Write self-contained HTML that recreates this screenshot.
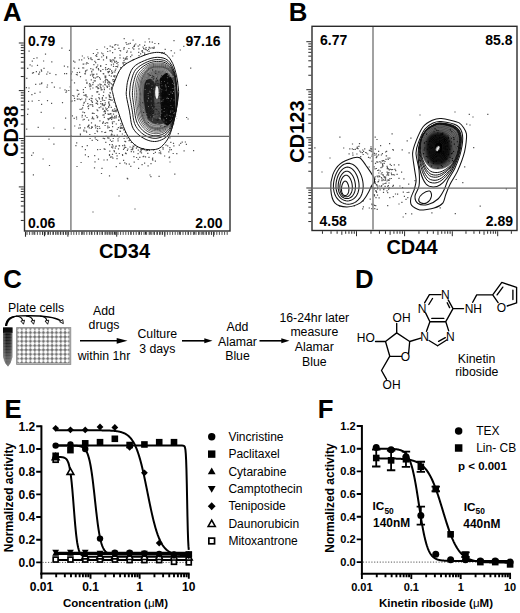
<!DOCTYPE html>
<html><head><meta charset="utf-8"><style>
html,body{margin:0;padding:0;background:#fff;}
svg{display:block;font-family:"Liberation Sans", sans-serif;}
</style></head><body>
<svg width="520" height="613" viewBox="0 0 520 613">
<rect width="520" height="613" fill="#fff"/>
<defs>
<filter id="bl1" x="-20%" y="-20%" width="140%" height="140%"><feGaussianBlur stdDeviation="0.6"/></filter>
<filter id="bl2" x="-30%" y="-30%" width="160%" height="160%"><feGaussianBlur stdDeviation="1.4"/></filter>
</defs>
<text x="3.10" y="21.20" font-size="25.8" font-weight="bold" text-anchor="start" fill="#000" >A</text>
<path d="M39.5,91.6h1.2v1.2h-1.2zM173.4,40.0h1.2v1.2h-1.2zM99.3,120.2h1.2v1.2h-1.2zM109.4,117.4h1.2v1.2h-1.2zM95.3,98.6h1.2v1.2h-1.2zM86.5,69.4h1.2v1.2h-1.2zM161.0,52.4h1.2v1.2h-1.2zM133.8,45.7h1.2v1.2h-1.2zM116.4,109.2h1.2v1.2h-1.2zM145.6,150.1h1.2v1.2h-1.2zM100.1,65.1h1.2v1.2h-1.2zM98.9,77.1h1.2v1.2h-1.2zM146.8,50.0h1.2v1.2h-1.2zM121.3,127.8h1.2v1.2h-1.2zM111.6,99.5h1.2v1.2h-1.2zM118.0,119.4h1.2v1.2h-1.2zM123.7,64.5h1.2v1.2h-1.2zM47.2,71.4h1.2v1.2h-1.2zM91.5,59.1h1.2v1.2h-1.2zM106.5,108.1h1.2v1.2h-1.2zM130.7,149.1h1.2v1.2h-1.2zM104.6,84.2h1.2v1.2h-1.2zM111.1,88.5h1.2v1.2h-1.2zM83.7,101.7h1.2v1.2h-1.2zM38.0,73.6h1.2v1.2h-1.2zM91.5,73.5h1.2v1.2h-1.2zM100.5,87.5h1.2v1.2h-1.2zM123.6,61.9h1.2v1.2h-1.2zM102.7,137.8h1.2v1.2h-1.2zM93.3,64.1h1.2v1.2h-1.2zM104.6,80.1h1.2v1.2h-1.2zM109.2,130.0h1.2v1.2h-1.2zM84.7,73.3h1.2v1.2h-1.2zM91.8,101.7h1.2v1.2h-1.2zM173.3,145.3h1.2v1.2h-1.2zM100.2,87.1h1.2v1.2h-1.2zM184.8,141.4h1.2v1.2h-1.2zM71.5,71.3h1.2v1.2h-1.2zM112.0,126.0h1.2v1.2h-1.2zM93.2,73.8h1.2v1.2h-1.2zM85.5,130.4h1.2v1.2h-1.2zM99.2,127.8h1.2v1.2h-1.2zM122.0,127.2h1.2v1.2h-1.2zM112.9,113.6h1.2v1.2h-1.2zM113.6,71.4h1.2v1.2h-1.2zM107.5,80.5h1.2v1.2h-1.2zM113.5,150.0h1.2v1.2h-1.2zM106.7,159.2h1.2v1.2h-1.2zM91.1,126.9h1.2v1.2h-1.2zM96.5,109.3h1.2v1.2h-1.2zM90.3,57.3h1.2v1.2h-1.2zM82.2,67.3h1.2v1.2h-1.2zM89.8,88.4h1.2v1.2h-1.2zM41.0,83.1h1.2v1.2h-1.2zM114.1,115.8h1.2v1.2h-1.2zM108.7,74.8h1.2v1.2h-1.2zM96.1,115.1h1.2v1.2h-1.2zM144.5,41.4h1.2v1.2h-1.2zM68.9,49.7h1.2v1.2h-1.2zM114.4,48.7h1.2v1.2h-1.2zM99.8,78.6h1.2v1.2h-1.2zM73.6,117.8h1.2v1.2h-1.2zM102.9,59.2h1.2v1.2h-1.2zM28.0,90.9h1.2v1.2h-1.2zM124.9,152.8h1.2v1.2h-1.2zM151.9,158.5h1.2v1.2h-1.2zM108.6,85.6h1.2v1.2h-1.2zM110.1,116.9h1.2v1.2h-1.2zM89.3,86.1h1.2v1.2h-1.2zM112.4,145.5h1.2v1.2h-1.2zM106.3,122.0h1.2v1.2h-1.2zM37.6,126.7h1.2v1.2h-1.2zM180.1,142.7h1.2v1.2h-1.2zM126.1,51.8h1.2v1.2h-1.2zM51.0,102.8h1.2v1.2h-1.2zM85.3,70.0h1.2v1.2h-1.2zM77.1,98.6h1.2v1.2h-1.2zM85.7,63.3h1.2v1.2h-1.2zM125.2,146.9h1.2v1.2h-1.2zM86.3,81.8h1.2v1.2h-1.2zM76.7,74.3h1.2v1.2h-1.2zM152.2,159.5h1.2v1.2h-1.2zM105.2,78.7h1.2v1.2h-1.2zM185.8,84.7h1.2v1.2h-1.2zM123.2,48.6h1.2v1.2h-1.2zM81.7,146.1h1.2v1.2h-1.2zM93.9,167.3h1.2v1.2h-1.2zM82.8,89.0h1.2v1.2h-1.2zM103.6,148.2h1.2v1.2h-1.2zM46.5,86.5h1.2v1.2h-1.2zM88.0,58.1h1.2v1.2h-1.2zM87.3,56.4h1.2v1.2h-1.2zM139.1,44.2h1.2v1.2h-1.2zM86.3,82.7h1.2v1.2h-1.2zM94.4,132.9h1.2v1.2h-1.2zM172.9,142.7h1.2v1.2h-1.2zM110.6,134.6h1.2v1.2h-1.2zM92.9,73.9h1.2v1.2h-1.2zM125.6,153.1h1.2v1.2h-1.2zM112.9,63.5h1.2v1.2h-1.2zM107.4,118.1h1.2v1.2h-1.2zM119.3,130.6h1.2v1.2h-1.2zM124.6,58.9h1.2v1.2h-1.2zM95.6,86.2h1.2v1.2h-1.2zM90.2,68.1h1.2v1.2h-1.2zM71.1,79.6h1.2v1.2h-1.2zM41.2,82.2h1.2v1.2h-1.2zM74.1,100.0h1.2v1.2h-1.2zM109.5,50.3h1.2v1.2h-1.2zM100.2,100.9h1.2v1.2h-1.2zM111.0,146.6h1.2v1.2h-1.2zM118.3,119.6h1.2v1.2h-1.2zM97.0,103.6h1.2v1.2h-1.2zM132.2,148.0h1.2v1.2h-1.2zM144.0,44.8h1.2v1.2h-1.2zM131.7,147.2h1.2v1.2h-1.2zM43.0,60.4h1.2v1.2h-1.2zM91.3,126.0h1.2v1.2h-1.2zM145.5,49.0h1.2v1.2h-1.2zM106.8,79.9h1.2v1.2h-1.2zM31.7,60.5h1.2v1.2h-1.2zM185.8,143.8h1.2v1.2h-1.2zM178.7,144.5h1.2v1.2h-1.2zM113.1,110.7h1.2v1.2h-1.2zM61.3,47.6h1.2v1.2h-1.2zM172.6,152.9h1.2v1.2h-1.2zM94.7,80.3h1.2v1.2h-1.2zM104.5,83.8h1.2v1.2h-1.2zM112.2,46.7h1.2v1.2h-1.2zM151.7,41.6h1.2v1.2h-1.2zM123.8,147.6h1.2v1.2h-1.2zM28.4,87.4h1.2v1.2h-1.2zM111.0,70.2h1.2v1.2h-1.2zM102.8,81.4h1.2v1.2h-1.2zM98.5,58.7h1.2v1.2h-1.2zM112.1,147.3h1.2v1.2h-1.2zM118.9,145.2h1.2v1.2h-1.2zM129.5,146.4h1.2v1.2h-1.2zM31.6,100.6h1.2v1.2h-1.2zM122.9,57.6h1.2v1.2h-1.2zM94.7,125.3h1.2v1.2h-1.2zM114.7,147.6h1.2v1.2h-1.2zM92.1,117.4h1.2v1.2h-1.2zM102.8,121.3h1.2v1.2h-1.2zM108.0,102.3h1.2v1.2h-1.2zM29.5,64.2h1.2v1.2h-1.2zM151.5,47.3h1.2v1.2h-1.2zM115.5,116.8h1.2v1.2h-1.2zM115.6,145.4h1.2v1.2h-1.2zM107.3,113.4h1.2v1.2h-1.2zM94.7,77.6h1.2v1.2h-1.2zM86.7,145.0h1.2v1.2h-1.2zM72.2,94.9h1.2v1.2h-1.2zM141.6,148.1h1.2v1.2h-1.2zM113.3,78.9h1.2v1.2h-1.2zM122.8,63.4h1.2v1.2h-1.2zM98.1,69.2h1.2v1.2h-1.2zM90.3,58.3h1.2v1.2h-1.2zM115.2,43.9h1.2v1.2h-1.2zM115.3,117.4h1.2v1.2h-1.2zM108.3,81.2h1.2v1.2h-1.2zM89.2,133.9h1.2v1.2h-1.2zM126.5,137.5h1.2v1.2h-1.2zM116.5,65.9h1.2v1.2h-1.2zM40.6,111.8h1.2v1.2h-1.2zM104.1,83.7h1.2v1.2h-1.2zM64.4,89.3h1.2v1.2h-1.2zM117.4,64.4h1.2v1.2h-1.2zM28.0,100.7h1.2v1.2h-1.2zM97.0,149.0h1.2v1.2h-1.2zM172.1,55.4h1.2v1.2h-1.2zM92.5,69.2h1.2v1.2h-1.2zM87.8,156.1h1.2v1.2h-1.2zM77.4,89.9h1.2v1.2h-1.2zM102.8,95.0h1.2v1.2h-1.2zM113.0,75.6h1.2v1.2h-1.2zM90.7,79.3h1.2v1.2h-1.2zM35.1,83.7h1.2v1.2h-1.2zM32.8,174.3h1.2v1.2h-1.2zM130.7,151.1h1.2v1.2h-1.2zM87.4,106.1h1.2v1.2h-1.2zM104.7,122.8h1.2v1.2h-1.2zM84.9,94.3h1.2v1.2h-1.2zM76.1,142.2h1.2v1.2h-1.2zM114.1,57.6h1.2v1.2h-1.2zM167.1,145.3h1.2v1.2h-1.2zM142.5,46.6h1.2v1.2h-1.2zM110.2,96.8h1.2v1.2h-1.2zM104.4,75.6h1.2v1.2h-1.2zM105.0,107.4h1.2v1.2h-1.2zM109.2,150.6h1.2v1.2h-1.2zM104.0,138.0h1.2v1.2h-1.2zM102.3,53.3h1.2v1.2h-1.2zM110.5,117.0h1.2v1.2h-1.2zM73.9,97.7h1.2v1.2h-1.2zM25.8,87.1h1.2v1.2h-1.2zM123.1,129.2h1.2v1.2h-1.2zM97.3,52.2h1.2v1.2h-1.2zM108.1,71.6h1.2v1.2h-1.2zM105.2,141.7h1.2v1.2h-1.2zM116.7,134.5h1.2v1.2h-1.2zM86.0,131.5h1.2v1.2h-1.2zM65.0,117.5h1.2v1.2h-1.2zM150.3,176.1h1.2v1.2h-1.2zM119.8,130.7h1.2v1.2h-1.2zM102.5,85.4h1.2v1.2h-1.2zM64.5,128.8h1.2v1.2h-1.2zM119.3,162.7h1.2v1.2h-1.2zM127.9,136.1h1.2v1.2h-1.2zM88.7,127.2h1.2v1.2h-1.2zM186.0,116.9h1.2v1.2h-1.2zM114.3,61.7h1.2v1.2h-1.2zM96.6,91.5h1.2v1.2h-1.2zM106.7,48.0h1.2v1.2h-1.2zM118.3,47.7h1.2v1.2h-1.2zM97.1,64.4h1.2v1.2h-1.2zM107.0,82.3h1.2v1.2h-1.2zM118.3,116.3h1.2v1.2h-1.2zM107.0,68.7h1.2v1.2h-1.2zM83.1,67.4h1.2v1.2h-1.2zM91.3,100.8h1.2v1.2h-1.2zM102.4,108.9h1.2v1.2h-1.2zM128.5,140.0h1.2v1.2h-1.2zM94.4,161.2h1.2v1.2h-1.2zM97.8,68.1h1.2v1.2h-1.2zM109.0,144.0h1.2v1.2h-1.2zM111.9,123.0h1.2v1.2h-1.2zM113.2,59.5h1.2v1.2h-1.2zM76.9,95.5h1.2v1.2h-1.2zM107.1,137.3h1.2v1.2h-1.2zM107.4,71.1h1.2v1.2h-1.2zM134.3,144.6h1.2v1.2h-1.2zM85.3,95.2h1.2v1.2h-1.2zM89.1,82.9h1.2v1.2h-1.2zM147.5,165.2h1.2v1.2h-1.2zM123.4,60.0h1.2v1.2h-1.2zM70.4,101.0h1.2v1.2h-1.2zM140.8,149.0h1.2v1.2h-1.2zM84.1,127.2h1.2v1.2h-1.2zM36.9,64.7h1.2v1.2h-1.2zM114.1,60.7h1.2v1.2h-1.2zM107.2,125.6h1.2v1.2h-1.2zM109.6,98.9h1.2v1.2h-1.2zM31.4,65.4h1.2v1.2h-1.2zM83.2,63.4h1.2v1.2h-1.2zM59.4,87.4h1.2v1.2h-1.2zM88.0,105.2h1.2v1.2h-1.2zM85.5,94.2h1.2v1.2h-1.2zM111.5,116.6h1.2v1.2h-1.2zM152.6,47.4h1.2v1.2h-1.2zM38.7,73.4h1.2v1.2h-1.2zM122.1,145.1h1.2v1.2h-1.2zM92.3,74.7h1.2v1.2h-1.2zM144.5,48.5h1.2v1.2h-1.2zM89.9,74.6h1.2v1.2h-1.2zM39.3,83.6h1.2v1.2h-1.2zM31.3,94.0h1.2v1.2h-1.2zM154.8,160.6h1.2v1.2h-1.2zM118.7,152.9h1.2v1.2h-1.2zM105.7,109.1h1.2v1.2h-1.2zM86.4,96.2h1.2v1.2h-1.2zM125.2,62.4h1.2v1.2h-1.2zM108.1,105.7h1.2v1.2h-1.2zM87.9,125.6h1.2v1.2h-1.2zM96.4,48.9h1.2v1.2h-1.2zM124.2,162.2h1.2v1.2h-1.2zM183.5,150.3h1.2v1.2h-1.2zM148.6,46.7h1.2v1.2h-1.2zM123.5,137.9h1.2v1.2h-1.2zM105.6,63.9h1.2v1.2h-1.2zM92.4,68.8h1.2v1.2h-1.2zM46.9,100.1h1.2v1.2h-1.2zM169.3,137.3h1.2v1.2h-1.2zM104.9,67.4h1.2v1.2h-1.2zM78.6,98.4h1.2v1.2h-1.2zM92.2,112.6h1.2v1.2h-1.2zM111.7,144.0h1.2v1.2h-1.2zM105.1,75.6h1.2v1.2h-1.2zM90.9,122.3h1.2v1.2h-1.2zM137.5,153.1h1.2v1.2h-1.2zM26.1,128.5h1.2v1.2h-1.2zM101.3,131.1h1.2v1.2h-1.2zM124.3,140.8h1.2v1.2h-1.2zM96.8,117.0h1.2v1.2h-1.2zM118.6,145.0h1.2v1.2h-1.2zM110.8,64.3h1.2v1.2h-1.2zM139.6,151.3h1.2v1.2h-1.2zM110.1,113.1h1.2v1.2h-1.2zM79.2,124.3h1.2v1.2h-1.2zM43.4,67.8h1.2v1.2h-1.2zM53.3,143.6h1.2v1.2h-1.2zM96.2,91.3h1.2v1.2h-1.2zM117.3,44.6h1.2v1.2h-1.2zM159.0,149.9h1.2v1.2h-1.2zM96.9,100.7h1.2v1.2h-1.2zM113.4,121.0h1.2v1.2h-1.2zM96.6,125.8h1.2v1.2h-1.2zM110.9,86.8h1.2v1.2h-1.2zM104.8,112.5h1.2v1.2h-1.2zM107.2,127.3h1.2v1.2h-1.2zM90.6,97.8h1.2v1.2h-1.2zM81.7,114.7h1.2v1.2h-1.2zM79.5,108.8h1.2v1.2h-1.2zM115.7,166.1h1.2v1.2h-1.2zM78.5,93.4h1.2v1.2h-1.2zM95.1,62.1h1.2v1.2h-1.2zM111.3,61.2h1.2v1.2h-1.2zM143.1,155.8h1.2v1.2h-1.2zM170.2,141.7h1.2v1.2h-1.2zM142.8,148.1h1.2v1.2h-1.2zM107.1,50.9h1.2v1.2h-1.2zM120.2,123.1h1.2v1.2h-1.2zM78.1,67.7h1.2v1.2h-1.2zM109.0,104.8h1.2v1.2h-1.2zM140.7,149.3h1.2v1.2h-1.2zM97.0,139.7h1.2v1.2h-1.2zM114.1,110.6h1.2v1.2h-1.2zM106.5,78.9h1.2v1.2h-1.2zM105.0,67.0h1.2v1.2h-1.2zM112.3,157.6h1.2v1.2h-1.2zM93.0,77.0h1.2v1.2h-1.2zM144.0,52.5h1.2v1.2h-1.2zM93.5,112.9h1.2v1.2h-1.2zM88.8,84.4h1.2v1.2h-1.2zM91.8,112.8h1.2v1.2h-1.2zM143.8,149.1h1.2v1.2h-1.2zM109.6,45.5h1.2v1.2h-1.2zM48.4,138.5h1.2v1.2h-1.2zM88.0,119.5h1.2v1.2h-1.2zM145.5,150.1h1.2v1.2h-1.2zM111.9,153.7h1.2v1.2h-1.2zM79.8,134.3h1.2v1.2h-1.2zM92.2,75.5h1.2v1.2h-1.2zM125.0,152.5h1.2v1.2h-1.2zM190.1,67.6h1.2v1.2h-1.2zM113.4,101.5h1.2v1.2h-1.2zM124.5,146.7h1.2v1.2h-1.2zM49.3,72.8h1.2v1.2h-1.2zM92.2,105.8h1.2v1.2h-1.2zM165.4,144.5h1.2v1.2h-1.2zM119.4,54.6h1.2v1.2h-1.2zM146.9,149.7h1.2v1.2h-1.2zM158.5,175.7h1.2v1.2h-1.2zM112.7,137.9h1.2v1.2h-1.2zM164.6,48.8h1.2v1.2h-1.2zM147.2,152.8h1.2v1.2h-1.2zM81.2,98.4h1.2v1.2h-1.2zM137.7,149.5h1.2v1.2h-1.2zM91.4,98.0h1.2v1.2h-1.2zM87.1,126.3h1.2v1.2h-1.2zM66.0,90.3h1.2v1.2h-1.2zM94.3,60.7h1.2v1.2h-1.2zM84.3,73.0h1.2v1.2h-1.2zM111.9,84.2h1.2v1.2h-1.2zM131.3,54.6h1.2v1.2h-1.2zM111.6,117.3h1.2v1.2h-1.2zM31.1,154.7h1.2v1.2h-1.2zM103.1,73.3h1.2v1.2h-1.2zM162.4,147.1h1.2v1.2h-1.2zM108.7,103.5h1.2v1.2h-1.2zM91.6,139.8h1.2v1.2h-1.2zM71.8,115.2h1.2v1.2h-1.2zM109.8,139.6h1.2v1.2h-1.2zM115.3,65.9h1.2v1.2h-1.2zM103.1,91.5h1.2v1.2h-1.2zM82.7,104.7h1.2v1.2h-1.2zM31.9,72.5h1.2v1.2h-1.2zM137.6,158.8h1.2v1.2h-1.2zM79.8,127.2h1.2v1.2h-1.2zM98.6,107.0h1.2v1.2h-1.2zM181.6,141.6h1.2v1.2h-1.2zM141.3,50.6h1.2v1.2h-1.2zM133.2,48.5h1.2v1.2h-1.2zM97.4,88.0h1.2v1.2h-1.2zM124.7,131.7h1.2v1.2h-1.2zM107.8,113.4h1.2v1.2h-1.2zM70.8,73.1h1.2v1.2h-1.2zM51.4,82.0h1.2v1.2h-1.2zM102.4,114.5h1.2v1.2h-1.2zM91.5,118.1h1.2v1.2h-1.2zM83.3,102.6h1.2v1.2h-1.2zM32.7,152.2h1.2v1.2h-1.2zM63.8,65.6h1.2v1.2h-1.2zM104.7,110.9h1.2v1.2h-1.2zM97.9,158.5h1.2v1.2h-1.2zM91.1,70.7h1.2v1.2h-1.2zM116.5,155.2h1.2v1.2h-1.2zM158.0,43.1h1.2v1.2h-1.2zM111.0,133.6h1.2v1.2h-1.2zM153.0,149.2h1.2v1.2h-1.2zM121.9,154.1h1.2v1.2h-1.2zM143.0,48.1h1.2v1.2h-1.2zM119.8,127.9h1.2v1.2h-1.2zM97.2,86.9h1.2v1.2h-1.2zM117.4,138.3h1.2v1.2h-1.2zM104.2,131.9h1.2v1.2h-1.2zM109.5,91.9h1.2v1.2h-1.2zM117.5,140.2h1.2v1.2h-1.2zM84.8,149.0h1.2v1.2h-1.2zM125.8,163.2h1.2v1.2h-1.2zM113.6,134.7h1.2v1.2h-1.2zM126.8,149.7h1.2v1.2h-1.2zM138.0,167.8h1.2v1.2h-1.2zM126.6,58.2h1.2v1.2h-1.2zM168.9,156.4h1.2v1.2h-1.2zM95.6,102.8h1.2v1.2h-1.2zM144.1,54.1h1.2v1.2h-1.2zM97.3,58.9h1.2v1.2h-1.2zM89.6,104.0h1.2v1.2h-1.2zM140.0,53.3h1.2v1.2h-1.2zM132.1,147.5h1.2v1.2h-1.2zM162.5,148.5h1.2v1.2h-1.2zM88.8,98.8h1.2v1.2h-1.2zM108.1,106.9h1.2v1.2h-1.2zM153.6,46.5h1.2v1.2h-1.2zM117.4,61.9h1.2v1.2h-1.2zM84.8,115.3h1.2v1.2h-1.2zM111.6,46.3h1.2v1.2h-1.2zM85.0,100.4h1.2v1.2h-1.2zM116.3,62.7h1.2v1.2h-1.2zM75.8,73.9h1.2v1.2h-1.2zM141.7,50.0h1.2v1.2h-1.2zM108.6,98.7h1.2v1.2h-1.2zM109.9,156.5h1.2v1.2h-1.2zM70.7,135.3h1.2v1.2h-1.2zM129.2,139.6h1.2v1.2h-1.2zM87.4,62.9h1.2v1.2h-1.2zM123.0,159.8h1.2v1.2h-1.2zM193.0,150.1h1.2v1.2h-1.2zM148.4,38.2h1.2v1.2h-1.2zM102.7,73.1h1.2v1.2h-1.2zM150.4,163.1h1.2v1.2h-1.2zM119.4,49.9h1.2v1.2h-1.2zM89.9,84.3h1.2v1.2h-1.2zM46.9,84.4h1.2v1.2h-1.2zM41.0,103.8h1.2v1.2h-1.2zM108.2,83.9h1.2v1.2h-1.2zM115.8,115.3h1.2v1.2h-1.2zM100.2,106.2h1.2v1.2h-1.2zM34.3,92.7h1.2v1.2h-1.2zM112.9,65.7h1.2v1.2h-1.2zM42.5,158.4h1.2v1.2h-1.2zM46.2,73.6h1.2v1.2h-1.2zM187.5,118.4h1.2v1.2h-1.2zM85.1,98.5h1.2v1.2h-1.2zM96.9,131.0h1.2v1.2h-1.2zM102.0,103.6h1.2v1.2h-1.2zM149.0,41.2h1.2v1.2h-1.2zM99.6,148.9h1.2v1.2h-1.2zM95.6,138.9h1.2v1.2h-1.2zM148.8,149.9h1.2v1.2h-1.2zM27.0,113.7h1.2v1.2h-1.2zM115.6,152.8h1.2v1.2h-1.2zM91.7,126.9h1.2v1.2h-1.2zM109.5,68.7h1.2v1.2h-1.2zM123.6,38.1h1.2v1.2h-1.2zM144.0,162.5h1.2v1.2h-1.2zM120.7,126.7h1.2v1.2h-1.2zM75.3,145.1h1.2v1.2h-1.2zM70.7,100.4h1.2v1.2h-1.2zM174.2,173.5h1.2v1.2h-1.2zM163.8,52.2h1.2v1.2h-1.2zM102.9,55.1h1.2v1.2h-1.2zM117.8,127.1h1.2v1.2h-1.2zM108.7,118.3h1.2v1.2h-1.2zM102.4,121.9h1.2v1.2h-1.2zM101.9,103.0h1.2v1.2h-1.2zM104.4,103.9h1.2v1.2h-1.2zM105.5,97.3h1.2v1.2h-1.2zM111.0,118.8h1.2v1.2h-1.2zM69.6,86.3h1.2v1.2h-1.2zM109.6,59.3h1.2v1.2h-1.2zM103.6,105.1h1.2v1.2h-1.2zM168.6,157.1h1.2v1.2h-1.2zM109.0,96.5h1.2v1.2h-1.2zM84.9,71.2h1.2v1.2h-1.2zM97.6,84.6h1.2v1.2h-1.2zM136.0,156.9h1.2v1.2h-1.2zM44.9,53.6h1.2v1.2h-1.2zM88.4,124.6h1.2v1.2h-1.2zM101.7,104.2h1.2v1.2h-1.2zM123.9,144.4h1.2v1.2h-1.2zM105.5,135.7h1.2v1.2h-1.2zM103.8,89.0h1.2v1.2h-1.2zM109.0,94.7h1.2v1.2h-1.2zM91.6,95.3h1.2v1.2h-1.2zM105.2,69.1h1.2v1.2h-1.2zM109.7,92.5h1.2v1.2h-1.2zM51.2,61.3h1.2v1.2h-1.2zM100.6,89.3h1.2v1.2h-1.2zM66.0,73.1h1.2v1.2h-1.2zM129.7,42.7h1.2v1.2h-1.2zM110.2,129.9h1.2v1.2h-1.2zM108.3,137.6h1.2v1.2h-1.2zM114.7,69.8h1.2v1.2h-1.2zM115.5,111.0h1.2v1.2h-1.2zM77.8,93.7h1.2v1.2h-1.2zM96.3,86.1h1.2v1.2h-1.2zM111.3,156.2h1.2v1.2h-1.2zM108.1,94.4h1.2v1.2h-1.2zM96.3,76.5h1.2v1.2h-1.2zM127.3,148.4h1.2v1.2h-1.2zM73.9,82.3h1.2v1.2h-1.2zM79.9,99.0h1.2v1.2h-1.2zM125.5,42.0h1.2v1.2h-1.2zM83.6,57.4h1.2v1.2h-1.2zM40.7,69.3h1.2v1.2h-1.2zM111.6,131.1h1.2v1.2h-1.2zM104.8,81.5h1.2v1.2h-1.2zM83.9,112.1h1.2v1.2h-1.2zM100.1,70.1h1.2v1.2h-1.2zM101.8,97.1h1.2v1.2h-1.2zM87.9,108.0h1.2v1.2h-1.2zM170.6,50.1h1.2v1.2h-1.2zM92.3,87.4h1.2v1.2h-1.2zM76.7,98.4h1.2v1.2h-1.2zM128.7,163.6h1.2v1.2h-1.2zM130.0,56.0h1.2v1.2h-1.2zM64.0,73.1h1.2v1.2h-1.2zM160.2,153.1h1.2v1.2h-1.2zM107.8,119.1h1.2v1.2h-1.2zM39.0,71.6h1.2v1.2h-1.2zM111.3,88.0h1.2v1.2h-1.2zM169.3,147.1h1.2v1.2h-1.2zM100.1,65.7h1.2v1.2h-1.2zM114.4,57.1h1.2v1.2h-1.2zM137.6,45.6h1.2v1.2h-1.2zM82.0,107.2h1.2v1.2h-1.2zM142.2,51.7h1.2v1.2h-1.2zM113.9,80.0h1.2v1.2h-1.2zM132.7,59.1h1.2v1.2h-1.2zM96.2,99.9h1.2v1.2h-1.2zM128.3,47.9h1.2v1.2h-1.2zM118.1,119.8h1.2v1.2h-1.2zM102.3,99.7h1.2v1.2h-1.2zM109.7,82.4h1.2v1.2h-1.2zM92.8,52.9h1.2v1.2h-1.2zM135.8,147.6h1.2v1.2h-1.2zM118.5,136.2h1.2v1.2h-1.2zM101.7,98.2h1.2v1.2h-1.2zM91.1,71.3h1.2v1.2h-1.2zM74.3,61.5h1.2v1.2h-1.2zM53.8,86.5h1.2v1.2h-1.2zM169.1,149.2h1.2v1.2h-1.2zM147.1,149.1h1.2v1.2h-1.2zM90.6,127.9h1.2v1.2h-1.2zM94.8,124.4h1.2v1.2h-1.2zM95.1,127.3h1.2v1.2h-1.2zM111.3,115.6h1.2v1.2h-1.2zM148.4,156.7h1.2v1.2h-1.2zM83.5,94.7h1.2v1.2h-1.2zM120.1,67.1h1.2v1.2h-1.2zM108.3,101.2h1.2v1.2h-1.2zM97.0,128.0h1.2v1.2h-1.2zM27.1,67.7h1.2v1.2h-1.2zM76.4,165.9h1.2v1.2h-1.2zM135.1,43.4h1.2v1.2h-1.2zM138.4,55.0h1.2v1.2h-1.2zM145.5,47.1h1.2v1.2h-1.2zM113.6,117.6h1.2v1.2h-1.2zM97.1,116.2h1.2v1.2h-1.2zM96.4,66.0h1.2v1.2h-1.2zM132.5,39.6h1.2v1.2h-1.2zM68.2,89.9h1.2v1.2h-1.2zM122.9,148.8h1.2v1.2h-1.2zM114.3,75.0h1.2v1.2h-1.2zM28.5,50.6h1.2v1.2h-1.2zM26.2,77.7h1.2v1.2h-1.2zM96.3,102.5h1.2v1.2h-1.2zM98.9,98.2h1.2v1.2h-1.2zM101.1,56.4h1.2v1.2h-1.2zM82.3,111.5h1.2v1.2h-1.2zM116.7,128.7h1.2v1.2h-1.2zM104.1,99.9h1.2v1.2h-1.2zM140.3,148.7h1.2v1.2h-1.2zM160.0,151.5h1.2v1.2h-1.2zM133.1,146.0h1.2v1.2h-1.2zM130.7,141.9h1.2v1.2h-1.2zM110.5,59.8h1.2v1.2h-1.2zM41.0,70.5h1.2v1.2h-1.2zM121.8,133.4h1.2v1.2h-1.2zM120.3,127.0h1.2v1.2h-1.2zM122.3,62.3h1.2v1.2h-1.2zM125.5,57.2h1.2v1.2h-1.2zM139.2,156.8h1.2v1.2h-1.2zM87.6,125.7h1.2v1.2h-1.2zM80.5,161.9h1.2v1.2h-1.2zM142.6,156.0h1.2v1.2h-1.2zM114.2,44.5h1.2v1.2h-1.2zM102.5,104.5h1.2v1.2h-1.2zM152.1,157.4h1.2v1.2h-1.2zM133.3,156.1h1.2v1.2h-1.2zM115.7,123.4h1.2v1.2h-1.2zM98.5,93.8h1.2v1.2h-1.2zM82.6,63.6h1.2v1.2h-1.2zM112.3,140.4h1.2v1.2h-1.2zM73.0,60.5h1.2v1.2h-1.2zM105.0,131.7h1.2v1.2h-1.2zM113.5,98.4h1.2v1.2h-1.2zM55.3,74.0h1.2v1.2h-1.2zM144.9,156.2h1.2v1.2h-1.2zM116.4,158.0h1.2v1.2h-1.2zM98.1,87.7h1.2v1.2h-1.2zM119.6,126.6h1.2v1.2h-1.2zM114.1,108.2h1.2v1.2h-1.2zM110.2,96.8h1.2v1.2h-1.2zM109.6,68.9h1.2v1.2h-1.2zM133.3,45.7h1.2v1.2h-1.2zM95.3,55.1h1.2v1.2h-1.2zM138.3,48.3h1.2v1.2h-1.2zM148.0,48.7h1.2v1.2h-1.2zM109.9,60.8h1.2v1.2h-1.2zM148.5,50.7h1.2v1.2h-1.2zM92.6,82.1h1.2v1.2h-1.2zM101.0,52.4h1.2v1.2h-1.2zM115.2,105.5h1.2v1.2h-1.2zM75.9,116.6h1.2v1.2h-1.2zM76.7,72.1h1.2v1.2h-1.2zM73.3,95.5h1.2v1.2h-1.2zM35.8,71.1h1.2v1.2h-1.2zM94.6,137.3h1.2v1.2h-1.2zM164.0,155.4h1.2v1.2h-1.2zM120.6,124.8h1.2v1.2h-1.2zM177.0,81.4h1.2v1.2h-1.2zM67.1,66.3h1.2v1.2h-1.2zM177.7,133.1h1.2v1.2h-1.2zM111.8,110.3h1.2v1.2h-1.2zM100.9,172.9h1.2v1.2h-1.2zM79.8,133.4h1.2v1.2h-1.2zM114.3,71.4h1.2v1.2h-1.2zM133.6,161.5h1.2v1.2h-1.2zM82.4,119.4h1.2v1.2h-1.2zM183.2,45.7h1.2v1.2h-1.2zM130.2,165.8h1.2v1.2h-1.2zM97.2,91.0h1.2v1.2h-1.2zM99.3,83.5h1.2v1.2h-1.2zM107.7,72.0h1.2v1.2h-1.2zM83.6,118.8h1.2v1.2h-1.2zM123.6,47.0h1.2v1.2h-1.2zM102.4,107.8h1.2v1.2h-1.2zM108.9,175.3h1.2v1.2h-1.2zM127.1,178.2h1.2v1.2h-1.2zM126.4,56.1h1.2v1.2h-1.2zM130.3,51.6h1.2v1.2h-1.2zM112.2,109.2h1.2v1.2h-1.2zM86.4,116.9h1.2v1.2h-1.2zM104.6,77.0h1.2v1.2h-1.2zM33.3,57.9h1.2v1.2h-1.2zM108.6,82.2h1.2v1.2h-1.2zM96.2,73.5h1.2v1.2h-1.2zM73.6,67.5h1.2v1.2h-1.2zM141.5,164.1h1.2v1.2h-1.2zM108.9,154.8h1.2v1.2h-1.2zM168.2,151.2h1.2v1.2h-1.2zM117.9,148.2h1.2v1.2h-1.2zM124.1,135.3h1.2v1.2h-1.2zM132.5,145.5h1.2v1.2h-1.2zM141.8,50.4h1.2v1.2h-1.2zM111.2,129.7h1.2v1.2h-1.2zM71.6,100.4h1.2v1.2h-1.2zM91.9,116.5h1.2v1.2h-1.2zM111.5,134.2h1.2v1.2h-1.2zM101.4,167.7h1.2v1.2h-1.2zM100.5,84.0h1.2v1.2h-1.2zM112.2,59.2h1.2v1.2h-1.2zM114.5,110.2h1.2v1.2h-1.2zM89.5,137.9h1.2v1.2h-1.2zM179.7,49.4h1.2v1.2h-1.2zM119.4,57.2h1.2v1.2h-1.2zM154.8,151.8h1.2v1.2h-1.2zM94.1,155.1h1.2v1.2h-1.2zM104.7,102.2h1.2v1.2h-1.2zM81.5,116.4h1.2v1.2h-1.2zM106.8,86.2h1.2v1.2h-1.2zM100.2,103.0h1.2v1.2h-1.2zM109.7,117.8h1.2v1.2h-1.2zM70.6,73.6h1.2v1.2h-1.2zM104.1,110.1h1.2v1.2h-1.2zM93.6,80.3h1.2v1.2h-1.2zM112.8,80.9h1.2v1.2h-1.2zM126.7,177.7h1.2v1.2h-1.2zM36.4,57.2h1.2v1.2h-1.2zM108.0,113.8h1.2v1.2h-1.2zM96.2,55.9h1.2v1.2h-1.2zM65.4,91.7h1.2v1.2h-1.2zM115.5,109.8h1.2v1.2h-1.2zM126.8,50.4h1.2v1.2h-1.2zM79.0,71.7h1.2v1.2h-1.2zM110.9,83.2h1.2v1.2h-1.2zM112.1,79.3h1.2v1.2h-1.2zM173.9,52.4h1.2v1.2h-1.2zM79.9,76.0h1.2v1.2h-1.2zM134.0,44.6h1.2v1.2h-1.2zM109.2,113.5h1.2v1.2h-1.2zM153.1,152.9h1.2v1.2h-1.2zM103.7,87.4h1.2v1.2h-1.2zM103.4,114.3h1.2v1.2h-1.2zM74.1,125.4h1.2v1.2h-1.2zM92.0,104.4h1.2v1.2h-1.2zM108.8,96.1h1.2v1.2h-1.2zM102.1,122.9h1.2v1.2h-1.2zM106.0,57.5h1.2v1.2h-1.2zM97.1,110.1h1.2v1.2h-1.2zM113.4,117.0h1.2v1.2h-1.2zM106.3,85.5h1.2v1.2h-1.2zM98.3,97.1h1.2v1.2h-1.2zM104.4,148.8h1.2v1.2h-1.2zM115.3,145.7h1.2v1.2h-1.2zM27.5,108.5h1.2v1.2h-1.2zM97.4,75.9h1.2v1.2h-1.2zM86.3,61.9h1.2v1.2h-1.2zM90.5,85.4h1.2v1.2h-1.2zM124.1,145.1h1.2v1.2h-1.2zM126.3,43.8h1.2v1.2h-1.2zM103.9,104.5h1.2v1.2h-1.2zM117.0,66.2h1.2v1.2h-1.2zM149.5,47.6h1.2v1.2h-1.2zM125.0,141.0h1.2v1.2h-1.2zM115.3,68.4h1.2v1.2h-1.2zM122.0,154.9h1.2v1.2h-1.2zM61.9,102.0h1.2v1.2h-1.2zM82.9,91.8h1.2v1.2h-1.2zM114.1,76.3h1.2v1.2h-1.2zM108.9,81.6h1.2v1.2h-1.2zM78.2,127.5h1.2v1.2h-1.2zM109.1,88.4h1.2v1.2h-1.2zM176.2,153.1h1.2v1.2h-1.2zM111.2,70.6h1.2v1.2h-1.2zM106.0,56.2h1.2v1.2h-1.2zM104.5,124.9h1.2v1.2h-1.2zM91.4,104.0h1.2v1.2h-1.2zM108.0,67.9h1.2v1.2h-1.2zM87.2,103.1h1.2v1.2h-1.2zM110.3,99.5h1.2v1.2h-1.2zM126.3,58.5h1.2v1.2h-1.2zM96.5,130.2h1.2v1.2h-1.2zM170.8,149.0h1.2v1.2h-1.2zM99.7,85.5h1.2v1.2h-1.2zM108.6,126.8h1.2v1.2h-1.2zM104.0,46.4h1.2v1.2h-1.2zM162.0,52.1h1.2v1.2h-1.2zM84.8,86.9h1.2v1.2h-1.2zM104.7,112.9h1.2v1.2h-1.2zM111.8,121.5h1.2v1.2h-1.2zM111.8,72.1h1.2v1.2h-1.2zM115.9,60.7h1.2v1.2h-1.2zM111.3,72.8h1.2v1.2h-1.2zM100.1,70.7h1.2v1.2h-1.2zM96.1,54.0h1.2v1.2h-1.2zM124.7,58.1h1.2v1.2h-1.2zM38.3,99.9h1.2v1.2h-1.2zM83.2,129.4h1.2v1.2h-1.2zM32.9,72.1h1.2v1.2h-1.2zM140.3,150.6h1.2v1.2h-1.2zM110.7,106.8h1.2v1.2h-1.2zM154.3,42.9h1.2v1.2h-1.2zM120.7,67.0h1.2v1.2h-1.2zM138.1,51.7h1.2v1.2h-1.2zM78.7,59.3h1.2v1.2h-1.2zM103.7,116.8h1.2v1.2h-1.2zM90.6,99.9h1.2v1.2h-1.2zM105.1,76.8h1.2v1.2h-1.2zM48.9,164.9h1.2v1.2h-1.2zM107.2,110.0h1.2v1.2h-1.2zM110.3,113.2h1.2v1.2h-1.2zM132.0,149.0h1.2v1.2h-1.2zM136.7,146.2h1.2v1.2h-1.2zM112.0,52.0h1.2v1.2h-1.2zM98.6,125.9h1.2v1.2h-1.2zM81.1,59.2h1.2v1.2h-1.2zM92.2,84.0h1.2v1.2h-1.2zM107.1,122.4h1.2v1.2h-1.2zM81.8,55.4h1.2v1.2h-1.2zM53.2,127.4h1.2v1.2h-1.2zM142.1,148.8h1.2v1.2h-1.2zM93.1,118.3h1.2v1.2h-1.2zM76.0,118.4h1.2v1.2h-1.2zM140.9,152.3h1.2v1.2h-1.2zM110.7,75.5h1.2v1.2h-1.2zM113.8,151.0h1.2v1.2h-1.2zM85.5,79.6h1.2v1.2h-1.2zM95.8,67.0h1.2v1.2h-1.2zM128.1,43.3h1.2v1.2h-1.2zM76.6,89.5h1.2v1.2h-1.2zM153.3,47.8h1.2v1.2h-1.2zM102.3,68.9h1.2v1.2h-1.2zM106.8,86.7h1.2v1.2h-1.2zM108.8,70.7h1.2v1.2h-1.2zM132.1,47.3h1.2v1.2h-1.2zM103.5,111.1h1.2v1.2h-1.2zM101.4,89.0h1.2v1.2h-1.2zM81.1,108.6h1.2v1.2h-1.2zM120.0,50.3h1.2v1.2h-1.2zM84.8,154.3h1.2v1.2h-1.2zM111.0,140.9h1.2v1.2h-1.2zM133.0,151.2h1.2v1.2h-1.2zM108.9,154.1h1.2v1.2h-1.2zM88.0,125.0h1.2v1.2h-1.2zM83.4,130.6h1.2v1.2h-1.2zM158.6,152.3h1.2v1.2h-1.2zM134.4,208.4h1.2v1.2h-1.2zM118.4,195.4h1.2v1.2h-1.2zM92.4,211.4h1.2v1.2h-1.2zM149.4,174.4h1.2v1.2h-1.2zM169.4,161.4h1.2v1.2h-1.2zM103.4,159.4h1.2v1.2h-1.2z" fill="#555555"/>
<path d="M176.27,94.00 L176.31,95.32 L176.34,96.65 L176.34,98.00 L176.32,99.40 L176.28,100.84 L176.21,102.33 L176.11,103.89 L175.96,105.53 L175.76,107.26 L175.49,109.09 L175.14,111.04 L174.71,113.11 L174.14,115.30 L173.42,117.60 L172.46,119.91 L171.21,122.10 L169.65,124.06 L167.82,125.77 L165.78,127.23 L163.56,128.38 L161.19,129.12 L158.74,129.51 L156.26,129.55 L153.79,129.26 L151.39,128.63 L149.13,127.58 L147.11,125.97 L145.41,123.93 L143.99,121.70 L142.82,119.43 L141.87,117.17 L141.15,114.93 L140.63,112.74 L140.25,110.66 L139.96,108.71 L139.74,106.91 L139.56,105.21 L139.43,103.61 L139.35,102.08 L139.29,100.63 L139.26,99.23 L139.24,97.88 L139.23,96.57 L139.24,95.28 L139.25,94.00 L139.31,92.73 L139.38,91.45 L139.45,90.16 L139.53,88.85 L139.64,87.50 L139.78,86.11 L139.97,84.68 L140.20,83.19 L140.48,81.63 L140.85,80.03 L141.34,78.39 L142.00,76.79 L142.81,75.20 L143.77,73.65 L144.87,72.13 L146.12,70.67 L147.52,69.31 L149.09,68.11 L150.82,67.23 L152.67,66.62 L154.58,66.24 L156.52,66.03 L158.48,65.97 L160.44,66.06 L162.38,66.34 L164.27,66.84 L166.08,67.60 L167.74,68.66 L169.25,69.91 L170.60,71.31 L171.77,72.84 L172.76,74.47 L173.55,76.18 L174.15,77.92 L174.60,79.65 L174.94,81.33 L175.22,82.93 L175.44,84.46 L175.62,85.93 L175.78,87.35 L175.91,88.72 L176.03,90.06 L176.12,91.38 L176.21,92.69Z" fill="#b8b8b8" stroke="none" stroke-width="0" stroke-linejoin="round" />
<path d="M173.68,94.00 L173.72,95.13 L173.76,96.28 L173.78,97.46 L173.79,98.67 L173.79,99.93 L173.76,101.24 L173.70,102.61 L173.60,104.06 L173.45,105.59 L173.24,107.20 L172.95,108.92 L172.57,110.73 L172.06,112.64 L171.39,114.59 L170.50,116.52 L169.34,118.27 L167.90,119.75 L166.27,120.98 L164.48,122.01 L162.58,122.83 L160.58,123.34 L158.53,123.54 L156.47,123.48 L154.43,123.20 L152.45,122.65 L150.58,121.74 L148.95,120.32 L147.60,118.50 L146.52,116.52 L145.64,114.55 L144.94,112.62 L144.41,110.75 L144.01,108.98 L143.70,107.32 L143.48,105.77 L143.31,104.31 L143.21,102.93 L143.18,101.62 L143.19,100.37 L143.23,99.19 L143.29,98.07 L143.37,97.00 L143.44,95.98 L143.51,94.98 L143.57,94.00 L143.61,93.03 L143.63,92.05 L143.65,91.06 L143.67,90.03 L143.70,88.98 L143.74,87.88 L143.81,86.72 L143.92,85.51 L144.07,84.24 L144.29,82.92 L144.62,81.56 L145.07,80.19 L145.62,78.79 L146.30,77.39 L147.11,76.00 L148.06,74.64 L149.17,73.38 L150.44,72.28 L151.89,71.49 L153.44,70.96 L155.05,70.64 L156.68,70.48 L158.32,70.42 L159.97,70.48 L161.61,70.69 L163.22,71.07 L164.77,71.64 L166.21,72.43 L167.55,73.39 L168.77,74.48 L169.84,75.71 L170.74,77.06 L171.46,78.50 L172.01,79.99 L172.41,81.49 L172.72,82.94 L172.95,84.35 L173.13,85.69 L173.27,86.98 L173.37,88.22 L173.46,89.42 L173.53,90.59 L173.59,91.74 L173.64,92.87Z" fill="#9a9a9a" stroke="none" stroke-width="0" stroke-linejoin="round" />
<path d="M176.60,94.00 L176.65,95.34 L176.69,96.70 L176.70,98.08 L176.68,99.50 L176.64,100.97 L176.56,102.49 L176.44,104.07 L176.28,105.73 L176.05,107.48 L175.76,109.32 L175.40,111.29 L174.96,113.39 L174.42,115.66 L173.74,118.08 L172.88,120.63 L171.75,123.23 L170.33,125.75 L168.58,128.09 L166.50,130.11 L164.15,131.71 L161.58,132.79 L158.88,133.48 L156.11,133.74 L153.34,133.54 L150.64,132.89 L148.08,131.80 L145.73,130.23 L143.65,128.29 L141.83,126.13 L140.28,123.83 L138.98,121.46 L138.00,118.96 L137.33,116.40 L136.89,113.90 L136.57,111.57 L136.28,109.41 L136.02,107.42 L135.77,105.56 L135.54,103.78 L135.34,102.06 L135.16,100.41 L135.00,98.78 L134.85,97.18 L134.73,95.59 L134.66,94.00 L134.72,92.41 L134.85,90.82 L134.95,89.21 L135.09,87.57 L135.27,85.91 L135.54,84.22 L135.89,82.51 L136.27,80.74 L136.72,78.91 L137.29,77.04 L138.02,75.18 L138.97,73.43 L140.15,71.79 L141.50,70.28 L142.99,68.86 L144.59,67.53 L146.31,66.30 L148.14,65.19 L150.10,64.32 L152.15,63.67 L154.26,63.22 L156.42,62.97 L158.59,62.92 L160.75,63.07 L162.88,63.47 L164.94,64.14 L166.87,65.16 L168.58,66.57 L170.08,68.21 L171.37,69.98 L172.47,71.81 L173.38,73.67 L174.10,75.57 L174.63,77.46 L175.02,79.30 L175.33,81.05 L175.57,82.71 L175.78,84.28 L175.95,85.79 L176.10,87.23 L176.24,88.63 L176.35,89.99 L176.45,91.34 L176.54,92.67Z" fill="none" stroke="#333" stroke-width="0.8" stroke-linejoin="round" />
<path d="M176.48,94.00 L176.53,95.33 L176.56,96.68 L176.57,98.05 L176.55,99.46 L176.51,100.92 L176.43,102.43 L176.32,104.01 L176.16,105.66 L175.94,107.40 L175.66,109.24 L175.31,111.19 L174.87,113.29 L174.32,115.53 L173.62,117.91 L172.72,120.37 L171.55,122.81 L170.08,125.13 L168.30,127.24 L166.24,129.06 L163.93,130.49 L161.44,131.44 L158.83,132.02 L156.17,132.21 L153.51,131.97 L150.92,131.33 L148.46,130.25 L146.24,128.66 L144.29,126.69 L142.62,124.50 L141.21,122.22 L140.04,119.89 L139.15,117.48 L138.54,115.06 L138.12,112.71 L137.81,110.52 L137.55,108.49 L137.32,106.61 L137.11,104.84 L136.94,103.15 L136.79,101.54 L136.67,99.97 L136.55,98.45 L136.45,96.96 L136.38,95.48 L136.34,94.00 L136.40,92.52 L136.51,91.05 L136.60,89.56 L136.72,88.04 L136.87,86.49 L137.10,84.92 L137.38,83.30 L137.71,81.63 L138.10,79.91 L138.59,78.14 L139.23,76.36 L140.08,74.66 L141.13,73.04 L142.33,71.51 L143.68,70.06 L145.15,68.68 L146.75,67.40 L148.49,66.26 L150.37,65.39 L152.34,64.75 L154.38,64.33 L156.46,64.09 L158.55,64.04 L160.64,64.17 L162.70,64.52 L164.70,65.13 L166.58,66.05 L168.27,67.33 L169.77,68.84 L171.09,70.47 L172.21,72.19 L173.15,73.96 L173.89,75.79 L174.45,77.63 L174.87,79.43 L175.19,81.15 L175.44,82.79 L175.65,84.35 L175.83,85.84 L175.98,87.27 L176.12,88.66 L176.23,90.02 L176.33,91.35 L176.42,92.68Z" fill="none" stroke="#333" stroke-width="0.8" stroke-linejoin="round" />
<path d="M176.37,94.00 L176.41,95.32 L176.44,96.66 L176.45,98.03 L176.43,99.43 L176.39,100.88 L176.32,102.38 L176.21,103.95 L176.05,105.59 L175.84,107.33 L175.57,109.16 L175.22,111.11 L174.78,113.19 L174.23,115.41 L173.51,117.74 L172.58,120.13 L171.37,122.44 L169.85,124.57 L168.05,126.47 L166.00,128.09 L163.74,129.38 L161.31,130.22 L158.78,130.70 L156.21,130.81 L153.66,130.55 L151.17,129.91 L148.81,128.85 L146.70,127.24 L144.88,125.24 L143.34,123.03 L142.06,120.75 L141.00,118.46 L140.20,116.14 L139.64,113.84 L139.24,111.63 L138.94,109.57 L138.70,107.66 L138.50,105.87 L138.33,104.19 L138.21,102.59 L138.11,101.06 L138.03,99.58 L137.97,98.15 L137.92,96.75 L137.88,95.37 L137.87,94.00 L137.93,92.63 L138.02,91.26 L138.10,89.88 L138.20,88.47 L138.33,87.02 L138.51,85.55 L138.75,84.03 L139.02,82.45 L139.35,80.81 L139.78,79.13 L140.34,77.43 L141.09,75.78 L142.01,74.18 L143.09,72.64 L144.31,71.15 L145.66,69.73 L147.16,68.40 L148.80,67.24 L150.61,66.35 L152.52,65.74 L154.49,65.33 L156.49,65.11 L158.51,65.06 L160.53,65.16 L162.53,65.48 L164.47,66.03 L166.32,66.87 L167.99,68.03 L169.50,69.40 L170.83,70.91 L171.98,72.53 L172.95,74.23 L173.71,75.99 L174.29,77.78 L174.72,79.55 L175.06,81.24 L175.32,82.86 L175.54,84.41 L175.72,85.89 L175.88,87.31 L176.01,88.69 L176.12,90.04 L176.22,91.37 L176.30,92.69Z" fill="none" stroke="#333" stroke-width="0.8" stroke-linejoin="round" />
<path d="M176.27,94.00 L176.31,95.32 L176.34,96.65 L176.34,98.00 L176.32,99.40 L176.28,100.84 L176.21,102.33 L176.11,103.89 L175.96,105.53 L175.76,107.26 L175.49,109.09 L175.14,111.04 L174.71,113.11 L174.14,115.30 L173.42,117.60 L172.46,119.91 L171.21,122.10 L169.65,124.06 L167.82,125.77 L165.78,127.23 L163.56,128.38 L161.19,129.12 L158.74,129.51 L156.26,129.55 L153.79,129.26 L151.39,128.63 L149.13,127.58 L147.11,125.97 L145.41,123.93 L143.99,121.70 L142.82,119.43 L141.87,117.17 L141.15,114.93 L140.63,112.74 L140.25,110.66 L139.96,108.71 L139.74,106.91 L139.56,105.21 L139.43,103.61 L139.35,102.08 L139.29,100.63 L139.26,99.23 L139.24,97.88 L139.23,96.57 L139.24,95.28 L139.25,94.00 L139.31,92.73 L139.38,91.45 L139.45,90.16 L139.53,88.85 L139.64,87.50 L139.78,86.11 L139.97,84.68 L140.20,83.19 L140.48,81.63 L140.85,80.03 L141.34,78.39 L142.00,76.79 L142.81,75.20 L143.77,73.65 L144.87,72.13 L146.12,70.67 L147.52,69.31 L149.09,68.11 L150.82,67.23 L152.67,66.62 L154.58,66.24 L156.52,66.03 L158.48,65.97 L160.44,66.06 L162.38,66.34 L164.27,66.84 L166.08,67.60 L167.74,68.66 L169.25,69.91 L170.60,71.31 L171.77,72.84 L172.76,74.47 L173.55,76.18 L174.15,77.92 L174.60,79.65 L174.94,81.33 L175.22,82.93 L175.44,84.46 L175.62,85.93 L175.78,87.35 L175.91,88.72 L176.03,90.06 L176.12,91.38 L176.21,92.69Z" fill="none" stroke="#333" stroke-width="0.8" stroke-linejoin="round" />
<path d="M176.18,94.00 L176.22,95.31 L176.24,96.63 L176.25,97.98 L176.23,99.37 L176.19,100.80 L176.12,102.29 L176.02,103.85 L175.88,105.48 L175.68,107.21 L175.42,109.03 L175.07,110.97 L174.64,113.03 L174.07,115.21 L173.33,117.47 L172.35,119.71 L171.06,121.80 L169.46,123.61 L167.62,125.15 L165.59,126.46 L163.41,127.49 L161.09,128.15 L158.70,128.45 L156.30,128.43 L153.91,128.12 L151.59,127.50 L149.41,126.45 L147.48,124.83 L145.88,122.76 L144.57,120.51 L143.50,118.25 L142.64,116.03 L141.99,113.85 L141.51,111.76 L141.14,109.79 L140.87,107.95 L140.66,106.24 L140.50,104.62 L140.41,103.09 L140.36,101.63 L140.35,100.24 L140.35,98.92 L140.38,97.64 L140.40,96.40 L140.44,95.19 L140.48,94.00 L140.53,92.81 L140.59,91.62 L140.65,90.42 L140.72,89.19 L140.80,87.92 L140.91,86.62 L141.06,85.26 L141.24,83.84 L141.48,82.36 L141.79,80.82 L142.23,79.25 L142.81,77.68 L143.52,76.11 L144.38,74.55 L145.38,73.00 L146.53,71.51 L147.85,70.11 L149.34,68.89 L151.02,68.00 L152.81,67.41 L154.67,67.04 L156.55,66.85 L158.45,66.78 L160.35,66.86 L162.24,67.11 L164.09,67.56 L165.87,68.25 L167.51,69.21 L169.03,70.37 L170.39,71.67 L171.59,73.11 L172.59,74.68 L173.40,76.34 L174.02,78.05 L174.48,79.75 L174.84,81.40 L175.12,82.99 L175.35,84.51 L175.54,85.97 L175.69,87.38 L175.83,88.75 L175.94,90.08 L176.04,91.40 L176.12,92.70Z" fill="none" stroke="#333" stroke-width="0.8" stroke-linejoin="round" />
<path d="M176.10,94.00 L176.14,95.30 L176.16,96.62 L176.16,97.97 L176.14,99.35 L176.10,100.77 L176.04,102.25 L175.94,103.80 L175.80,105.44 L175.61,107.16 L175.35,108.98 L175.01,110.91 L174.58,112.97 L174.01,115.13 L173.25,117.35 L172.25,119.54 L170.93,121.54 L169.30,123.22 L167.45,124.61 L165.42,125.78 L163.27,126.72 L161.00,127.29 L158.67,127.52 L156.33,127.45 L154.02,127.12 L151.77,126.51 L149.65,125.47 L147.81,123.84 L146.29,121.75 L145.07,119.48 L144.09,117.22 L143.31,115.03 L142.73,112.91 L142.27,110.91 L141.93,109.04 L141.66,107.29 L141.46,105.65 L141.33,104.10 L141.26,102.63 L141.25,101.24 L141.27,99.91 L141.31,98.64 L141.37,97.43 L141.43,96.26 L141.49,95.12 L141.55,94.00 L141.60,92.89 L141.65,91.77 L141.70,90.64 L141.75,89.49 L141.82,88.29 L141.90,87.06 L142.01,85.77 L142.16,84.41 L142.35,83.00 L142.62,81.52 L143.00,80.00 L143.52,78.47 L144.14,76.91 L144.91,75.33 L145.82,73.77 L146.89,72.24 L148.13,70.81 L149.56,69.58 L151.19,68.68 L152.93,68.10 L154.74,67.74 L156.58,67.56 L158.43,67.50 L160.28,67.55 L162.12,67.78 L163.94,68.19 L165.68,68.81 L167.32,69.70 L168.83,70.77 L170.21,71.98 L171.43,73.35 L172.45,74.87 L173.27,76.48 L173.91,78.15 L174.38,79.83 L174.75,81.47 L175.04,83.04 L175.27,84.55 L175.46,86.00 L175.62,87.41 L175.75,88.77 L175.86,90.10 L175.96,91.41 L176.04,92.70Z" fill="none" stroke="#444" stroke-width="0.65" stroke-linejoin="round" />
<path d="M175.13,94.00 L175.17,95.24 L175.20,96.49 L175.21,97.76 L175.20,99.08 L175.18,100.43 L175.12,101.85 L175.04,103.33 L174.92,104.89 L174.75,106.53 L174.51,108.27 L174.19,110.11 L173.77,112.07 L173.23,114.13 L172.51,116.25 L171.55,118.33 L170.29,120.23 L168.74,121.83 L166.97,123.16 L165.05,124.27 L162.99,125.16 L160.83,125.71 L158.62,125.93 L156.39,125.86 L154.18,125.55 L152.04,124.96 L150.03,123.98 L148.26,122.43 L146.82,120.45 L145.65,118.30 L144.71,116.15 L143.97,114.07 L143.40,112.05 L142.97,110.14 L142.64,108.35 L142.39,106.68 L142.20,105.11 L142.08,103.63 L142.03,102.23 L142.02,100.89 L142.05,99.62 L142.10,98.41 L142.17,97.26 L142.23,96.15 L142.30,95.06 L142.36,94.00 L142.40,92.94 L142.44,91.88 L142.48,90.81 L142.52,89.70 L142.57,88.57 L142.64,87.38 L142.73,86.15 L142.86,84.85 L143.04,83.49 L143.29,82.08 L143.65,80.62 L144.14,79.16 L144.73,77.66 L145.46,76.16 L146.33,74.66 L147.36,73.20 L148.55,71.84 L149.92,70.66 L151.47,69.80 L153.13,69.24 L154.86,68.90 L156.62,68.73 L158.38,68.67 L160.16,68.72 L161.92,68.94 L163.65,69.34 L165.32,69.94 L166.88,70.79 L168.32,71.82 L169.63,72.98 L170.79,74.30 L171.76,75.74 L172.55,77.29 L173.15,78.89 L173.59,80.50 L173.94,82.06 L174.20,83.56 L174.41,85.01 L174.58,86.39 L174.72,87.73 L174.83,89.03 L174.93,90.30 L175.01,91.54 L175.08,92.77Z" fill="none" stroke="#444" stroke-width="0.65" stroke-linejoin="round" />
<path d="M174.17,94.00 L174.21,95.17 L174.24,96.35 L174.26,97.56 L174.26,98.81 L174.25,100.10 L174.21,101.44 L174.15,102.85 L174.04,104.34 L173.88,105.90 L173.66,107.56 L173.36,109.32 L172.97,111.18 L172.45,113.13 L171.76,115.14 L170.85,117.12 L169.66,118.92 L168.18,120.44 L166.50,121.70 L164.67,122.76 L162.72,123.61 L160.67,124.13 L158.56,124.34 L156.44,124.27 L154.35,123.98 L152.31,123.42 L150.40,122.49 L148.72,121.02 L147.34,119.15 L146.23,117.11 L145.33,115.08 L144.62,113.10 L144.08,111.18 L143.66,109.37 L143.35,107.67 L143.11,106.07 L142.94,104.58 L142.84,103.16 L142.79,101.82 L142.80,100.55 L142.84,99.34 L142.90,98.19 L142.97,97.09 L143.04,96.03 L143.11,95.01 L143.17,94.00 L143.21,93.00 L143.23,92.00 L143.26,90.97 L143.29,89.92 L143.32,88.84 L143.38,87.71 L143.45,86.53 L143.56,85.29 L143.73,83.99 L143.96,82.64 L144.29,81.25 L144.76,79.85 L145.32,78.42 L146.02,76.98 L146.85,75.55 L147.82,74.16 L148.96,72.86 L150.27,71.74 L151.75,70.93 L153.34,70.39 L154.98,70.06 L156.66,69.90 L158.34,69.84 L160.03,69.90 L161.71,70.11 L163.36,70.49 L164.95,71.07 L166.43,71.89 L167.81,72.86 L169.06,73.98 L170.15,75.24 L171.08,76.62 L171.82,78.10 L172.39,79.62 L172.81,81.16 L173.13,82.65 L173.37,84.08 L173.56,85.46 L173.70,86.79 L173.82,88.06 L173.92,89.29 L173.99,90.49 L174.06,91.67 L174.12,92.84Z" fill="none" stroke="#444" stroke-width="0.65" stroke-linejoin="round" />
<path d="M173.20,94.00 L173.24,95.10 L173.28,96.22 L173.30,97.36 L173.32,98.54 L173.32,99.76 L173.30,101.03 L173.25,102.37 L173.16,103.79 L173.02,105.27 L172.81,106.85 L172.53,108.52 L172.16,110.28 L171.67,112.14 L171.02,114.04 L170.15,115.91 L169.02,117.61 L167.62,119.05 L166.03,120.25 L164.29,121.25 L162.45,122.05 L160.50,122.55 L158.50,122.75 L156.50,122.69 L154.51,122.41 L152.58,121.88 L150.77,121.00 L149.18,119.61 L147.87,117.85 L146.81,115.93 L145.95,114.01 L145.27,112.14 L144.75,110.32 L144.36,108.60 L144.06,106.98 L143.84,105.46 L143.68,104.04 L143.59,102.69 L143.56,101.41 L143.57,100.20 L143.62,99.05 L143.69,97.96 L143.77,96.92 L143.85,95.92 L143.92,94.95 L143.97,94.00 L144.01,93.06 L144.03,92.11 L144.04,91.14 L144.06,90.14 L144.08,89.11 L144.11,88.04 L144.17,86.91 L144.27,85.73 L144.41,84.49 L144.63,83.20 L144.94,81.87 L145.38,80.53 L145.91,79.17 L146.57,77.80 L147.36,76.44 L148.29,75.12 L149.38,73.89 L150.62,72.82 L152.03,72.05 L153.54,71.54 L155.11,71.22 L156.70,71.06 L158.30,71.01 L159.91,71.07 L161.51,71.28 L163.07,71.64 L164.58,72.20 L165.99,72.98 L167.30,73.91 L168.48,74.98 L169.52,76.18 L170.39,77.50 L171.09,78.90 L171.63,80.36 L172.02,81.82 L172.31,83.24 L172.53,84.61 L172.70,85.92 L172.83,87.18 L172.92,88.39 L173.00,89.56 L173.06,90.69 L173.11,91.81 L173.16,92.91Z" fill="none" stroke="#444" stroke-width="0.65" stroke-linejoin="round" />
<path d="M172.24,94.00 L172.27,95.03 L172.31,96.08 L172.35,97.16 L172.38,98.27 L172.39,99.42 L172.39,100.63 L172.35,101.90 L172.28,103.24 L172.15,104.65 L171.97,106.14 L171.71,107.72 L171.36,109.39 L170.89,111.14 L170.27,112.94 L169.45,114.70 L168.38,116.31 L167.06,117.66 L165.56,118.80 L163.92,119.74 L162.17,120.50 L160.33,120.96 L158.45,121.16 L156.55,121.10 L154.68,120.84 L152.86,120.34 L151.14,119.51 L149.64,118.20 L148.39,116.55 L147.38,114.74 L146.57,112.94 L145.92,111.17 L145.43,109.45 L145.05,107.83 L144.77,106.29 L144.56,104.85 L144.42,103.50 L144.34,102.22 L144.32,101.01 L144.35,99.86 L144.41,98.77 L144.48,97.73 L144.57,96.75 L144.65,95.81 L144.73,94.89 L144.78,94.00 L144.81,93.11 L144.82,92.22 L144.82,91.31 L144.82,90.36 L144.83,89.39 L144.85,88.37 L144.89,87.30 L144.97,86.17 L145.10,84.99 L145.30,83.76 L145.59,82.49 L145.99,81.22 L146.50,79.93 L147.13,78.63 L147.88,77.34 L148.76,76.08 L149.79,74.92 L150.97,73.91 L152.31,73.17 L153.74,72.68 L155.23,72.38 L156.74,72.23 L158.26,72.18 L159.79,72.24 L161.30,72.44 L162.79,72.80 L164.22,73.33 L165.55,74.07 L166.78,74.96 L167.90,75.98 L168.88,77.12 L169.71,78.38 L170.37,79.71 L170.87,81.09 L171.23,82.48 L171.50,83.83 L171.70,85.13 L171.84,86.37 L171.95,87.57 L172.03,88.71 L172.08,89.82 L172.12,90.89 L172.16,91.94 L172.20,92.97Z" fill="none" stroke="#444" stroke-width="0.65" stroke-linejoin="round" />
<path d="M171.27,94.00 L171.31,94.97 L171.35,95.95 L171.40,96.95 L171.44,98.00 L171.47,99.08 L171.48,100.22 L171.46,101.42 L171.40,102.68 L171.29,104.02 L171.12,105.43 L170.88,106.92 L170.55,108.50 L170.11,110.14 L169.53,111.83 L168.75,113.49 L167.74,115.00 L166.50,116.28 L165.08,117.34 L163.54,118.23 L161.90,118.94 L160.17,119.38 L158.39,119.56 L156.61,119.51 L154.84,119.27 L153.13,118.80 L151.51,118.01 L150.09,116.80 L148.92,115.25 L147.96,113.56 L147.19,111.87 L146.57,110.21 L146.10,108.59 L145.75,107.06 L145.48,105.61 L145.29,104.25 L145.16,102.96 L145.10,101.75 L145.09,100.60 L145.12,99.51 L145.19,98.48 L145.28,97.50 L145.37,96.58 L145.46,95.69 L145.53,94.84 L145.59,94.00 L145.61,93.17 L145.61,92.33 L145.60,91.47 L145.59,90.58 L145.58,89.66 L145.58,88.69 L145.61,87.68 L145.67,86.61 L145.78,85.49 L145.96,84.32 L146.23,83.12 L146.61,81.91 L147.09,80.68 L147.68,79.45 L148.39,78.23 L149.23,77.04 L150.20,75.94 L151.32,74.99 L152.59,74.29 L153.94,73.83 L155.35,73.54 L156.78,73.40 L158.22,73.35 L159.66,73.41 L161.10,73.61 L162.50,73.95 L163.85,74.46 L165.11,75.17 L166.27,76.01 L167.33,76.98 L168.25,78.06 L169.02,79.25 L169.64,80.52 L170.11,81.83 L170.44,83.14 L170.69,84.42 L170.86,85.65 L170.99,86.83 L171.07,87.96 L171.13,89.04 L171.16,90.08 L171.19,91.09 L171.21,92.07 L171.24,93.04Z" fill="none" stroke="#444" stroke-width="0.65" stroke-linejoin="round" />
<path d="M170.30,94.00 L170.34,94.90 L170.39,95.81 L170.45,96.75 L170.50,97.73 L170.54,98.75 L170.56,99.82 L170.56,100.94 L170.52,102.13 L170.43,103.39 L170.27,104.72 L170.05,106.12 L169.75,107.60 L169.33,109.15 L168.78,110.73 L168.05,112.28 L167.10,113.69 L165.94,114.89 L164.61,115.89 L163.17,116.72 L161.62,117.39 L160.00,117.80 L158.34,117.97 L156.66,117.93 L155.01,117.69 L153.40,117.25 L151.88,116.52 L150.55,115.39 L149.44,113.95 L148.54,112.37 L147.80,110.79 L147.22,109.24 L146.78,107.73 L146.44,106.28 L146.19,104.92 L146.02,103.64 L145.90,102.43 L145.85,101.28 L145.85,100.19 L145.90,99.17 L145.98,98.19 L146.07,97.28 L146.17,96.41 L146.27,95.58 L146.34,94.78 L146.39,94.00 L146.41,93.22 L146.41,92.44 L146.39,91.64 L146.36,90.80 L146.33,89.93 L146.32,89.02 L146.33,88.06 L146.38,87.05 L146.47,85.99 L146.63,84.88 L146.88,83.74 L147.23,82.60 L147.68,81.43 L148.24,80.27 L148.91,79.12 L149.70,78.01 L150.62,76.97 L151.68,76.07 L152.87,75.41 L154.15,74.97 L155.47,74.70 L156.82,74.56 L158.18,74.52 L159.54,74.58 L160.89,74.77 L162.21,75.10 L163.48,75.59 L164.67,76.26 L165.76,77.06 L166.75,77.98 L167.61,79.01 L168.34,80.13 L168.91,81.33 L169.34,82.56 L169.65,83.80 L169.88,85.01 L170.03,86.17 L170.13,87.28 L170.19,88.35 L170.23,89.37 L170.25,90.35 L170.25,91.29 L170.26,92.21 L170.28,93.11Z" fill="none" stroke="#444" stroke-width="0.65" stroke-linejoin="round" />
<path d="M169.34,94.00 L169.38,94.83 L169.43,95.68 L169.49,96.55 L169.56,97.46 L169.61,98.41 L169.65,99.41 L169.66,100.47 L169.64,101.58 L169.56,102.76 L169.43,104.01 L169.22,105.32 L168.94,106.71 L168.55,108.15 L168.04,109.62 L167.35,111.07 L166.47,112.38 L165.38,113.50 L164.14,114.43 L162.79,115.21 L161.35,115.83 L159.84,116.22 L158.28,116.38 L156.72,116.34 L155.17,116.12 L153.67,115.71 L152.26,115.03 L151.01,113.98 L149.97,112.65 L149.12,111.19 L148.42,109.72 L147.87,108.28 L147.45,106.86 L147.13,105.51 L146.90,104.23 L146.74,103.03 L146.64,101.89 L146.60,100.81 L146.62,99.79 L146.67,98.82 L146.76,97.91 L146.87,97.05 L146.97,96.24 L147.07,95.47 L147.15,94.72 L147.20,94.00 L147.21,93.28 L147.20,92.55 L147.17,91.80 L147.12,91.02 L147.08,90.21 L147.05,89.35 L147.05,88.44 L147.08,87.49 L147.16,86.49 L147.30,85.44 L147.52,84.37 L147.85,83.29 L148.27,82.19 L148.80,81.09 L149.42,80.01 L150.17,78.97 L151.03,78.00 L152.03,77.16 L153.15,76.54 L154.35,76.12 L155.59,75.86 L156.86,75.73 L158.14,75.69 L159.42,75.75 L160.69,75.94 L161.93,76.25 L163.12,76.72 L164.23,77.35 L165.25,78.11 L166.17,78.98 L166.98,79.95 L167.65,81.01 L168.18,82.13 L168.58,83.30 L168.87,84.46 L169.06,85.60 L169.19,86.69 L169.27,87.74 L169.32,88.74 L169.33,89.69 L169.33,90.61 L169.32,91.49 L169.31,92.34 L169.32,93.17Z" fill="none" stroke="#444" stroke-width="0.65" stroke-linejoin="round" />
<path d="M168.37,94.00 L168.41,94.76 L168.47,95.54 L168.54,96.35 L168.62,97.19 L168.69,98.07 L168.74,99.00 L168.77,99.99 L168.76,101.03 L168.70,102.14 L168.58,103.30 L168.40,104.52 L168.14,105.81 L167.78,107.15 L167.29,108.52 L166.65,109.86 L165.83,111.07 L164.82,112.11 L163.67,112.98 L162.41,113.70 L161.08,114.28 L159.67,114.64 L158.23,114.79 L156.78,114.75 L155.34,114.55 L153.94,114.17 L152.63,113.54 L151.46,112.57 L150.49,111.35 L149.69,110.01 L149.04,108.65 L148.52,107.31 L148.12,106.00 L147.83,104.74 L147.61,103.55 L147.47,102.42 L147.38,101.35 L147.35,100.34 L147.38,99.38 L147.45,98.48 L147.55,97.62 L147.66,96.82 L147.77,96.07 L147.88,95.35 L147.96,94.67 L148.01,94.00 L148.02,93.34 L147.99,92.66 L147.95,91.97 L147.89,91.24 L147.83,90.48 L147.79,89.68 L147.77,88.83 L147.78,87.93 L147.84,86.98 L147.97,86.00 L148.17,84.99 L148.47,83.97 L148.86,82.94 L149.35,81.92 L149.94,80.90 L150.64,79.93 L151.45,79.02 L152.38,78.24 L153.43,77.66 L154.55,77.27 L155.72,77.02 L156.90,76.90 L158.10,76.86 L159.29,76.92 L160.48,77.10 L161.64,77.40 L162.75,77.84 L163.78,78.45 L164.74,79.16 L165.60,79.98 L166.34,80.89 L166.97,81.88 L167.46,82.94 L167.82,84.03 L168.08,85.12 L168.25,86.19 L168.36,87.21 L168.42,88.19 L168.44,89.13 L168.43,90.02 L168.41,90.87 L168.38,91.69 L168.36,92.47 L168.36,93.24Z" fill="none" stroke="#444" stroke-width="0.65" stroke-linejoin="round" />
<path d="M167.41,94.00 L167.44,94.70 L167.51,95.41 L167.59,96.14 L167.68,96.92 L167.76,97.73 L167.83,98.60 L167.87,99.51 L167.88,100.48 L167.83,101.51 L167.73,102.59 L167.57,103.73 L167.33,104.92 L167.00,106.16 L166.55,107.41 L165.96,108.65 L165.19,109.77 L164.26,110.72 L163.19,111.52 L162.04,112.19 L160.80,112.72 L159.50,113.06 L158.17,113.20 L156.83,113.16 L155.51,112.98 L154.22,112.63 L153.00,112.05 L151.92,111.17 L151.02,110.05 L150.27,108.82 L149.66,107.58 L149.17,106.35 L148.80,105.14 L148.52,103.97 L148.32,102.86 L148.19,101.81 L148.12,100.81 L148.11,99.87 L148.14,98.97 L148.22,98.13 L148.33,97.34 L148.45,96.59 L148.58,95.90 L148.68,95.24 L148.77,94.61 L148.81,94.00 L148.82,93.39 L148.79,92.78 L148.73,92.14 L148.66,91.46 L148.59,90.76 L148.53,90.00 L148.49,89.21 L148.49,88.37 L148.53,87.48 L148.63,86.56 L148.82,85.61 L149.09,84.66 L149.45,83.70 L149.91,82.74 L150.45,81.80 L151.11,80.89 L151.86,80.05 L152.73,79.32 L153.71,78.78 L154.75,78.41 L155.84,78.18 L156.94,78.06 L158.06,78.03 L159.17,78.09 L160.27,78.27 L161.35,78.55 L162.38,78.97 L163.34,79.54 L164.22,80.21 L165.02,80.98 L165.71,81.83 L166.28,82.76 L166.73,83.75 L167.06,84.77 L167.29,85.79 L167.44,86.78 L167.52,87.74 L167.56,88.65 L167.56,89.52 L167.54,90.35 L167.49,91.13 L167.45,91.89 L167.41,92.61 L167.40,93.31Z" fill="none" stroke="#444" stroke-width="0.65" stroke-linejoin="round" />
<path d="M166.44,94.00 L166.48,94.63 L166.55,95.27 L166.64,95.94 L166.74,96.65 L166.83,97.40 L166.92,98.19 L166.97,99.04 L166.99,99.93 L166.97,100.88 L166.89,101.88 L166.74,102.93 L166.53,104.02 L166.22,105.16 L165.80,106.31 L165.26,107.43 L164.55,108.46 L163.70,109.34 L162.72,110.07 L161.66,110.68 L160.53,111.17 L159.34,111.47 L158.11,111.60 L156.89,111.58 L155.67,111.41 L154.49,111.08 L153.37,110.56 L152.38,109.76 L151.54,108.75 L150.85,107.64 L150.28,106.51 L149.82,105.38 L149.47,104.27 L149.22,103.20 L149.03,102.18 L148.92,101.20 L148.86,100.28 L148.86,99.40 L148.91,98.57 L149.00,97.79 L149.12,97.05 L149.25,96.37 L149.38,95.73 L149.49,95.13 L149.58,94.55 L149.62,94.00 L149.62,93.45 L149.58,92.89 L149.51,92.30 L149.42,91.68 L149.34,91.03 L149.26,90.33 L149.21,89.59 L149.19,88.81 L149.22,87.98 L149.30,87.12 L149.46,86.24 L149.71,85.35 L150.04,84.45 L150.46,83.56 L150.97,82.69 L151.57,81.85 L152.28,81.08 L153.08,80.41 L153.99,79.90 L154.95,79.56 L155.96,79.34 L156.98,79.23 L158.02,79.20 L159.05,79.26 L160.07,79.43 L161.06,79.71 L162.02,80.10 L162.90,80.63 L163.71,81.26 L164.44,81.98 L165.07,82.77 L165.60,83.64 L166.00,84.56 L166.30,85.50 L166.50,86.45 L166.63,87.37 L166.69,88.26 L166.70,89.11 L166.68,89.91 L166.64,90.67 L166.58,91.40 L166.51,92.08 L166.46,92.74 L166.44,93.38Z" fill="none" stroke="#444" stroke-width="0.65" stroke-linejoin="round" />
<path d="M165.47,94.00 L165.51,94.56 L165.58,95.14 L165.68,95.74 L165.79,96.38 L165.91,97.06 L166.00,97.79 L166.08,98.56 L166.11,99.38 L166.11,100.25 L166.04,101.17 L165.92,102.13 L165.72,103.13 L165.44,104.16 L165.06,105.21 L164.56,106.22 L163.91,107.15 L163.13,107.95 L162.25,108.62 L161.28,109.17 L160.25,109.61 L159.17,109.89 L158.06,110.01 L156.94,109.99 L155.84,109.84 L154.76,109.54 L153.74,109.07 L152.84,108.35 L152.07,107.45 L151.43,106.45 L150.90,105.43 L150.47,104.42 L150.15,103.41 L149.91,102.43 L149.74,101.49 L149.64,100.59 L149.60,99.74 L149.61,98.93 L149.67,98.16 L149.77,97.44 L149.90,96.77 L150.04,96.14 L150.18,95.56 L150.30,95.01 L150.38,94.50 L150.43,94.00 L150.42,93.51 L150.37,93.00 L150.29,92.47 L150.19,91.90 L150.09,91.30 L150.00,90.66 L149.93,89.97 L149.89,89.25 L149.90,88.48 L149.97,87.68 L150.11,86.86 L150.33,86.04 L150.63,85.21 L151.02,84.39 L151.49,83.58 L152.04,82.81 L152.69,82.10 L153.43,81.49 L154.27,81.03 L155.16,80.70 L156.08,80.50 L157.02,80.40 L157.98,80.37 L158.93,80.44 L159.86,80.60 L160.78,80.86 L161.65,81.23 L162.46,81.73 L163.20,82.31 L163.86,82.98 L164.44,83.71 L164.91,84.52 L165.28,85.36 L165.54,86.24 L165.71,87.11 L165.81,87.96 L165.85,88.78 L165.85,89.56 L165.81,90.30 L165.74,91.00 L165.66,91.66 L165.58,92.28 L165.51,92.87 L165.48,93.44Z" fill="none" stroke="#444" stroke-width="0.65" stroke-linejoin="round" />
<path d="M164.51,94.00 L164.54,94.49 L164.62,95.00 L164.73,95.54 L164.85,96.11 L164.98,96.72 L165.09,97.38 L165.18,98.08 L165.23,98.83 L165.24,99.62 L165.20,100.46 L165.09,101.33 L164.91,102.23 L164.66,103.16 L164.31,104.10 L163.86,105.01 L163.28,105.84 L162.57,106.56 L161.78,107.16 L160.91,107.66 L159.98,108.06 L159.00,108.31 L158.00,108.42 L157.00,108.40 L156.00,108.26 L155.03,108.00 L154.12,107.58 L153.29,106.94 L152.59,106.15 L152.00,105.27 L151.52,104.36 L151.12,103.45 L150.82,102.54 L150.60,101.66 L150.45,100.80 L150.37,99.98 L150.34,99.20 L150.36,98.46 L150.44,97.76 L150.55,97.09 L150.69,96.48 L150.83,95.91 L150.98,95.39 L151.10,94.90 L151.19,94.44 L151.23,94.00 L151.22,93.56 L151.16,93.11 L151.07,92.63 L150.96,92.12 L150.84,91.58 L150.73,90.99 L150.65,90.36 L150.60,89.69 L150.59,88.98 L150.64,88.24 L150.75,87.49 L150.95,86.73 L151.22,85.96 L151.57,85.21 L152.00,84.47 L152.51,83.77 L153.11,83.13 L153.79,82.57 L154.54,82.15 L155.36,81.85 L156.20,81.66 L157.07,81.56 L157.93,81.54 L158.80,81.61 L159.66,81.76 L160.49,82.01 L161.28,82.36 L162.02,82.82 L162.69,83.36 L163.29,83.98 L163.80,84.66 L164.22,85.39 L164.55,86.17 L164.78,86.97 L164.92,87.77 L165.00,88.55 L165.02,89.30 L164.99,90.02 L164.93,90.69 L164.84,91.33 L164.74,91.92 L164.65,92.48 L164.57,93.01 L164.52,93.51Z" fill="none" stroke="#444" stroke-width="0.65" stroke-linejoin="round" />
<path d="M163.54,94.00 L163.58,94.43 L163.66,94.87 L163.78,95.33 L163.91,95.84 L164.05,96.38 L164.18,96.97 L164.28,97.61 L164.35,98.28 L164.38,99.00 L164.35,99.75 L164.26,100.53 L164.11,101.34 L163.88,102.17 L163.57,103.00 L163.16,103.80 L162.64,104.54 L162.01,105.17 L161.30,105.71 L160.53,106.15 L159.70,106.50 L158.84,106.73 L157.95,106.83 L157.05,106.81 L156.17,106.69 L155.30,106.46 L154.49,106.08 L153.75,105.54 L153.12,104.85 L152.58,104.08 L152.14,103.29 L151.78,102.49 L151.50,101.68 L151.30,100.89 L151.17,100.12 L151.09,99.38 L151.08,98.67 L151.12,97.99 L151.20,97.35 L151.32,96.75 L151.47,96.19 L151.63,95.68 L151.78,95.22 L151.91,94.79 L152.00,94.38 L152.04,94.00 L152.03,93.62 L151.96,93.22 L151.85,92.80 L151.73,92.34 L151.59,91.85 L151.47,91.31 L151.37,90.74 L151.30,90.12 L151.27,89.48 L151.31,88.80 L151.40,88.11 L151.57,87.42 L151.81,86.72 L152.13,86.03 L152.52,85.37 L152.98,84.74 L153.52,84.16 L154.14,83.65 L154.82,83.27 L155.56,83.00 L156.32,82.82 L157.11,82.73 L157.89,82.72 L158.68,82.78 L159.45,82.93 L160.20,83.16 L160.92,83.49 L161.58,83.91 L162.18,84.41 L162.71,84.97 L163.17,85.60 L163.54,86.27 L163.82,86.98 L164.02,87.70 L164.14,88.43 L164.19,89.14 L164.18,89.82 L164.14,90.47 L164.05,91.08 L163.94,91.65 L163.83,92.19 L163.71,92.68 L163.62,93.14 L163.56,93.58Z" fill="none" stroke="#444" stroke-width="0.65" stroke-linejoin="round" />
<path d="M162.58,94.00 L162.61,94.36 L162.70,94.73 L162.82,95.13 L162.97,95.57 L163.12,96.05 L163.27,96.57 L163.39,97.13 L163.47,97.73 L163.51,98.37 L163.50,99.04 L163.44,99.73 L163.30,100.45 L163.10,101.17 L162.82,101.89 L162.46,102.59 L162.00,103.23 L161.45,103.78 L160.83,104.25 L160.15,104.64 L159.43,104.95 L158.67,105.15 L157.89,105.24 L157.11,105.23 L156.33,105.12 L155.58,104.92 L154.86,104.59 L154.21,104.13 L153.64,103.55 L153.16,102.90 L152.75,102.22 L152.43,101.52 L152.17,100.82 L151.99,100.12 L151.88,99.43 L151.82,98.77 L151.82,98.13 L151.87,97.52 L151.97,96.94 L152.10,96.40 L152.25,95.91 L152.42,95.46 L152.58,95.05 L152.72,94.67 L152.81,94.33 L152.85,94.00 L152.83,93.67 L152.75,93.33 L152.63,92.97 L152.49,92.56 L152.34,92.12 L152.20,91.64 L152.09,91.12 L152.00,90.56 L151.96,89.98 L151.97,89.36 L152.05,88.73 L152.19,88.10 L152.40,87.47 L152.68,86.86 L153.03,86.26 L153.45,85.70 L153.94,85.18 L154.49,84.74 L155.10,84.39 L155.76,84.14 L156.45,83.98 L157.15,83.90 L157.85,83.89 L158.56,83.95 L159.25,84.09 L159.92,84.31 L160.55,84.62 L161.13,85.01 L161.66,85.46 L162.13,85.97 L162.53,86.54 L162.85,87.15 L163.10,87.79 L163.26,88.44 L163.35,89.09 L163.38,89.73 L163.35,90.34 L163.28,90.93 L163.17,91.47 L163.05,91.98 L162.91,92.45 L162.78,92.88 L162.67,93.27 L162.60,93.64Z" fill="none" stroke="#444" stroke-width="0.65" stroke-linejoin="round" />
<path d="M161.61,94.00 L161.65,94.29 L161.74,94.60 L161.87,94.93 L162.03,95.30 L162.20,95.71 L162.35,96.16 L162.49,96.65 L162.59,97.18 L162.65,97.74 L162.66,98.33 L162.61,98.93 L162.50,99.55 L162.32,100.17 L162.08,100.79 L161.76,101.38 L161.36,101.92 L160.89,102.39 L160.36,102.80 L159.78,103.13 L159.16,103.39 L158.51,103.56 L157.84,103.65 L157.16,103.64 L156.50,103.55 L155.85,103.37 L155.23,103.10 L154.67,102.72 L154.17,102.25 L153.74,101.71 L153.37,101.15 L153.08,100.56 L152.85,99.95 L152.69,99.35 L152.59,98.75 L152.54,98.16 L152.56,97.59 L152.62,97.05 L152.73,96.54 L152.87,96.06 L153.04,95.62 L153.21,95.23 L153.38,94.88 L153.52,94.56 L153.62,94.27 L153.66,94.00 L153.63,93.73 L153.54,93.44 L153.41,93.13 L153.26,92.78 L153.10,92.40 L152.94,91.97 L152.81,91.50 L152.70,91.00 L152.65,90.47 L152.64,89.92 L152.69,89.36 L152.81,88.79 L152.99,88.23 L153.24,87.68 L153.55,87.15 L153.92,86.66 L154.35,86.21 L154.84,85.82 L155.38,85.51 L155.96,85.29 L156.57,85.14 L157.19,85.06 L157.81,85.06 L158.43,85.12 L159.04,85.26 L159.63,85.46 L160.18,85.74 L160.69,86.10 L161.15,86.51 L161.56,86.97 L161.90,87.48 L162.17,88.03 L162.37,88.59 L162.50,89.17 L162.56,89.75 L162.56,90.32 L162.51,90.87 L162.42,91.38 L162.30,91.86 L162.15,92.31 L161.99,92.71 L161.84,93.08 L161.72,93.41 L161.64,93.71Z" fill="none" stroke="#444" stroke-width="0.65" stroke-linejoin="round" />
<path d="M145.50,81.67C146.21,80.48 147.31,79.58 148.47,79.25C149.64,78.93 151.39,78.74 152.48,79.70C153.56,80.66 154.62,82.91 154.98,85.03C155.34,87.16 154.76,89.37 154.63,92.44C154.51,95.50 154.29,100.44 154.25,103.43C154.21,106.42 154.57,108.19 154.39,110.38C154.22,112.58 154.11,115.30 153.18,116.59C152.26,117.88 150.00,118.54 148.85,118.13C147.69,117.72 146.96,116.40 146.23,114.14C145.50,111.88 144.92,107.68 144.48,104.58C144.04,101.48 143.66,98.59 143.61,95.56C143.56,92.52 143.88,88.67 144.19,86.36C144.50,84.04 144.79,82.85 145.50,81.67Z" fill="#000" opacity="0.72" filter="url(#bl1)"/>
<path d="M159.90,78.84C160.79,76.91 163.87,74.17 165.33,73.44C166.79,72.71 167.31,73.12 168.64,74.47C169.98,75.81 172.36,78.56 173.36,81.50C174.36,84.45 174.35,88.39 174.64,92.14C174.93,95.89 175.08,100.07 175.10,104.03C175.12,107.98 175.51,112.70 174.75,115.87C174.00,119.04 171.91,121.48 170.57,123.04C169.22,124.61 168.24,125.94 166.67,125.26C165.09,124.58 162.07,121.85 161.10,118.95C160.14,116.04 161.07,111.63 160.87,107.82C160.66,104.01 160.01,99.89 159.86,96.08C159.72,92.28 159.98,87.85 159.99,84.97C159.99,82.10 159.01,80.76 159.90,78.84Z" fill="#000" opacity="0.93" filter="url(#bl1)"/>
<path d="M148,112 C152,118 158,121 164,118 L165,123 C158,126 151,124 147,118 Z" fill="#222" filter="url(#bl1)" opacity="0.8"/>
<path d="M155.9,88.9h1.1v1.1h-1.1zM160.0,103.0h1.1v1.1h-1.1zM161.7,119.0h1.1v1.1h-1.1zM170.4,105.4h1.1v1.1h-1.1zM155.6,95.3h1.1v1.1h-1.1zM173.1,100.8h1.1v1.1h-1.1zM145.9,85.3h1.1v1.1h-1.1zM153.2,116.6h1.1v1.1h-1.1zM165.6,99.1h1.1v1.1h-1.1zM154.6,113.5h1.1v1.1h-1.1zM156.6,83.0h1.1v1.1h-1.1zM164.7,97.2h1.1v1.1h-1.1zM170.9,95.7h1.1v1.1h-1.1zM147.4,73.2h1.1v1.1h-1.1zM167.7,93.6h1.1v1.1h-1.1zM153.0,92.9h1.1v1.1h-1.1zM166.5,110.2h1.1v1.1h-1.1zM169.2,115.0h1.1v1.1h-1.1zM151.9,93.3h1.1v1.1h-1.1zM151.4,84.9h1.1v1.1h-1.1zM170.4,88.5h1.1v1.1h-1.1zM158.2,85.2h1.1v1.1h-1.1zM153.1,110.4h1.1v1.1h-1.1zM154.5,88.8h1.1v1.1h-1.1zM163.9,105.5h1.1v1.1h-1.1zM166.9,99.9h1.1v1.1h-1.1zM164.0,114.3h1.1v1.1h-1.1zM146.7,109.4h1.1v1.1h-1.1zM159.5,88.7h1.1v1.1h-1.1zM167.2,92.2h1.1v1.1h-1.1zM144.2,96.7h1.1v1.1h-1.1zM173.5,107.3h1.1v1.1h-1.1zM155.2,72.8h1.1v1.1h-1.1zM142.1,102.2h1.1v1.1h-1.1zM154.9,84.2h1.1v1.1h-1.1zM154.9,83.2h1.1v1.1h-1.1zM166.5,121.9h1.1v1.1h-1.1zM171.1,86.2h1.1v1.1h-1.1zM143.0,111.9h1.1v1.1h-1.1zM158.1,96.1h1.1v1.1h-1.1zM150.1,74.9h1.1v1.1h-1.1zM173.0,104.9h1.1v1.1h-1.1zM148.3,103.6h1.1v1.1h-1.1zM162.1,105.9h1.1v1.1h-1.1zM146.2,97.6h1.1v1.1h-1.1zM152.5,106.3h1.1v1.1h-1.1zM161.1,102.9h1.1v1.1h-1.1zM153.3,104.0h1.1v1.1h-1.1zM153.9,105.8h1.1v1.1h-1.1zM156.0,78.0h1.1v1.1h-1.1zM164.0,85.0h1.1v1.1h-1.1zM173.4,104.5h1.1v1.1h-1.1zM163.7,98.7h1.1v1.1h-1.1zM171.2,83.2h1.1v1.1h-1.1zM168.6,86.1h1.1v1.1h-1.1zM157.6,93.2h1.1v1.1h-1.1zM148.6,94.1h1.1v1.1h-1.1zM163.8,90.0h1.1v1.1h-1.1zM146.4,87.3h1.1v1.1h-1.1zM161.5,116.5h1.1v1.1h-1.1zM167.4,101.9h1.1v1.1h-1.1zM149.0,112.4h1.1v1.1h-1.1zM159.2,92.9h1.1v1.1h-1.1zM168.1,107.5h1.1v1.1h-1.1zM164.0,77.4h1.1v1.1h-1.1zM160.9,97.5h1.1v1.1h-1.1zM168.3,100.6h1.1v1.1h-1.1zM148.7,74.3h1.1v1.1h-1.1zM152.9,105.9h1.1v1.1h-1.1zM155.5,89.5h1.1v1.1h-1.1zM147.8,122.0h1.1v1.1h-1.1zM152.8,78.6h1.1v1.1h-1.1zM157.8,83.3h1.1v1.1h-1.1zM156.7,119.7h1.1v1.1h-1.1zM154.5,96.2h1.1v1.1h-1.1zM155.3,93.7h1.1v1.1h-1.1zM167.2,106.0h1.1v1.1h-1.1zM155.6,81.2h1.1v1.1h-1.1zM157.7,111.2h1.1v1.1h-1.1zM158.8,94.8h1.1v1.1h-1.1zM155.2,97.6h1.1v1.1h-1.1zM159.5,84.0h1.1v1.1h-1.1zM155.9,86.7h1.1v1.1h-1.1zM152.1,104.1h1.1v1.1h-1.1zM157.5,113.4h1.1v1.1h-1.1zM166.0,112.3h1.1v1.1h-1.1zM171.1,108.8h1.1v1.1h-1.1zM157.3,120.0h1.1v1.1h-1.1zM149.7,96.4h1.1v1.1h-1.1zM167.6,92.1h1.1v1.1h-1.1zM166.1,83.3h1.1v1.1h-1.1zM153.6,106.3h1.1v1.1h-1.1zM166.1,117.4h1.1v1.1h-1.1zM158.3,102.1h1.1v1.1h-1.1zM165.3,104.9h1.1v1.1h-1.1zM146.0,87.3h1.1v1.1h-1.1zM165.3,89.8h1.1v1.1h-1.1zM169.0,83.8h1.1v1.1h-1.1zM158.6,115.3h1.1v1.1h-1.1zM151.8,96.1h1.1v1.1h-1.1zM150.2,87.9h1.1v1.1h-1.1zM146.2,80.1h1.1v1.1h-1.1zM170.4,88.3h1.1v1.1h-1.1zM168.0,94.0h1.1v1.1h-1.1zM162.5,88.4h1.1v1.1h-1.1zM165.5,105.6h1.1v1.1h-1.1zM154.2,114.2h1.1v1.1h-1.1zM163.3,99.2h1.1v1.1h-1.1zM164.6,115.6h1.1v1.1h-1.1zM167.0,93.2h1.1v1.1h-1.1zM150.3,87.5h1.1v1.1h-1.1zM157.7,90.6h1.1v1.1h-1.1zM157.1,102.4h1.1v1.1h-1.1zM168.5,106.6h1.1v1.1h-1.1zM152.2,86.4h1.1v1.1h-1.1zM170.4,92.8h1.1v1.1h-1.1zM155.3,108.6h1.1v1.1h-1.1zM158.5,97.9h1.1v1.1h-1.1zM149.5,82.9h1.1v1.1h-1.1zM171.6,77.6h1.1v1.1h-1.1zM161.8,76.7h1.1v1.1h-1.1zM156.6,96.4h1.1v1.1h-1.1zM157.2,117.7h1.1v1.1h-1.1zM149.7,112.5h1.1v1.1h-1.1zM152.5,105.1h1.1v1.1h-1.1zM160.4,93.4h1.1v1.1h-1.1zM157.8,87.2h1.1v1.1h-1.1zM163.2,90.4h1.1v1.1h-1.1zM150.4,110.9h1.1v1.1h-1.1zM156.5,84.8h1.1v1.1h-1.1zM153.5,103.3h1.1v1.1h-1.1zM152.0,75.5h1.1v1.1h-1.1zM174.1,99.4h1.1v1.1h-1.1zM157.0,79.9h1.1v1.1h-1.1zM159.7,118.9h1.1v1.1h-1.1zM165.8,111.0h1.1v1.1h-1.1zM162.8,93.2h1.1v1.1h-1.1zM144.5,94.5h1.1v1.1h-1.1zM172.4,101.4h1.1v1.1h-1.1zM149.9,98.1h1.1v1.1h-1.1zM166.9,116.2h1.1v1.1h-1.1zM150.0,107.8h1.1v1.1h-1.1zM164.4,88.9h1.1v1.1h-1.1zM165.8,90.9h1.1v1.1h-1.1zM153.2,76.0h1.1v1.1h-1.1zM162.9,89.7h1.1v1.1h-1.1zM153.4,77.5h1.1v1.1h-1.1zM145.3,83.6h1.1v1.1h-1.1zM166.3,83.2h1.1v1.1h-1.1zM173.4,103.9h1.1v1.1h-1.1zM160.6,76.5h1.1v1.1h-1.1zM164.3,125.8h1.1v1.1h-1.1zM157.0,85.4h1.1v1.1h-1.1zM158.8,112.6h1.1v1.1h-1.1zM172.6,107.3h1.1v1.1h-1.1zM148.3,85.5h1.1v1.1h-1.1zM161.0,75.3h1.1v1.1h-1.1zM148.4,116.7h1.1v1.1h-1.1zM149.7,91.2h1.1v1.1h-1.1zM158.3,71.4h1.1v1.1h-1.1zM157.9,119.0h1.1v1.1h-1.1zM166.2,108.9h1.1v1.1h-1.1zM151.0,94.5h1.1v1.1h-1.1zM161.0,108.5h1.1v1.1h-1.1zM172.4,80.0h1.1v1.1h-1.1zM176.0,92.1h1.1v1.1h-1.1zM156.5,76.5h1.1v1.1h-1.1zM158.3,93.1h1.1v1.1h-1.1zM146.7,92.0h1.1v1.1h-1.1zM160.2,90.0h1.1v1.1h-1.1zM166.8,79.6h1.1v1.1h-1.1zM167.9,93.8h1.1v1.1h-1.1zM160.3,95.9h1.1v1.1h-1.1zM168.4,76.9h1.1v1.1h-1.1zM172.6,78.6h1.1v1.1h-1.1zM172.2,106.8h1.1v1.1h-1.1zM147.0,94.1h1.1v1.1h-1.1zM161.1,105.9h1.1v1.1h-1.1zM161.3,110.6h1.1v1.1h-1.1zM163.6,97.6h1.1v1.1h-1.1zM149.7,91.1h1.1v1.1h-1.1zM168.0,77.2h1.1v1.1h-1.1zM152.0,69.4h1.1v1.1h-1.1zM156.6,109.4h1.1v1.1h-1.1zM165.1,110.1h1.1v1.1h-1.1zM169.6,105.0h1.1v1.1h-1.1zM167.3,96.1h1.1v1.1h-1.1zM160.7,118.5h1.1v1.1h-1.1zM151.5,77.1h1.1v1.1h-1.1zM159.9,116.3h1.1v1.1h-1.1zM163.5,85.8h1.1v1.1h-1.1zM168.2,90.3h1.1v1.1h-1.1zM161.1,93.9h1.1v1.1h-1.1zM148.7,105.9h1.1v1.1h-1.1zM154.2,85.3h1.1v1.1h-1.1zM165.6,95.6h1.1v1.1h-1.1zM152.0,113.0h1.1v1.1h-1.1zM153.1,96.5h1.1v1.1h-1.1zM166.3,113.0h1.1v1.1h-1.1zM159.4,83.4h1.1v1.1h-1.1zM156.0,108.9h1.1v1.1h-1.1zM155.2,70.5h1.1v1.1h-1.1zM169.4,102.9h1.1v1.1h-1.1zM160.2,125.7h1.1v1.1h-1.1zM173.3,86.1h1.1v1.1h-1.1zM159.1,90.4h1.1v1.1h-1.1zM162.6,97.2h1.1v1.1h-1.1zM152.4,90.1h1.1v1.1h-1.1z" fill="#111" opacity="0.8"/>
<path d="M144.7,89.0h0.9v0.9h-0.9zM167.5,75.1h0.9v0.9h-0.9zM150.0,76.6h0.9v0.9h-0.9zM153.3,108.5h0.9v0.9h-0.9zM153.5,104.3h0.9v0.9h-0.9zM145.4,119.1h0.9v0.9h-0.9zM147.5,83.3h0.9v0.9h-0.9zM159.9,118.9h0.9v0.9h-0.9zM168.8,124.5h0.9v0.9h-0.9zM168.8,94.0h0.9v0.9h-0.9zM156.9,111.1h0.9v0.9h-0.9zM152.2,118.4h0.9v0.9h-0.9zM174.0,113.6h0.9v0.9h-0.9zM160.6,82.7h0.9v0.9h-0.9zM153.2,88.8h0.9v0.9h-0.9zM154.1,97.9h0.9v0.9h-0.9zM161.5,85.3h0.9v0.9h-0.9zM170.2,111.8h0.9v0.9h-0.9zM171.9,87.9h0.9v0.9h-0.9zM163.9,107.9h0.9v0.9h-0.9zM156.2,95.3h0.9v0.9h-0.9zM170.5,105.2h0.9v0.9h-0.9zM173.5,99.5h0.9v0.9h-0.9zM171.2,118.7h0.9v0.9h-0.9zM169.8,120.2h0.9v0.9h-0.9zM166.8,97.6h0.9v0.9h-0.9zM153.4,116.6h0.9v0.9h-0.9zM147.7,94.9h0.9v0.9h-0.9zM150.9,104.7h0.9v0.9h-0.9zM173.1,91.0h0.9v0.9h-0.9zM170.4,115.5h0.9v0.9h-0.9zM165.6,86.7h0.9v0.9h-0.9zM170.9,98.3h0.9v0.9h-0.9zM168.1,98.0h0.9v0.9h-0.9zM172.4,110.5h0.9v0.9h-0.9zM148.7,83.3h0.9v0.9h-0.9zM171.9,93.0h0.9v0.9h-0.9zM156.0,76.1h0.9v0.9h-0.9zM164.6,115.8h0.9v0.9h-0.9zM173.5,84.1h0.9v0.9h-0.9zM172.1,83.2h0.9v0.9h-0.9zM155.7,93.9h0.9v0.9h-0.9zM162.4,100.6h0.9v0.9h-0.9zM161.0,101.2h0.9v0.9h-0.9zM174.7,86.8h0.9v0.9h-0.9zM150.1,116.4h0.9v0.9h-0.9zM153.3,109.1h0.9v0.9h-0.9zM174.4,77.6h0.9v0.9h-0.9zM169.6,75.8h0.9v0.9h-0.9zM160.3,96.8h0.9v0.9h-0.9zM166.5,114.5h0.9v0.9h-0.9zM144.6,77.9h0.9v0.9h-0.9zM163.6,111.0h0.9v0.9h-0.9zM148.1,106.0h0.9v0.9h-0.9zM148.1,98.0h0.9v0.9h-0.9zM176.3,117.9h0.9v0.9h-0.9zM166.5,98.1h0.9v0.9h-0.9zM174.2,112.1h0.9v0.9h-0.9zM143.1,109.0h0.9v0.9h-0.9zM162.7,98.9h0.9v0.9h-0.9zM157.8,92.9h0.9v0.9h-0.9zM152.7,114.1h0.9v0.9h-0.9zM167.3,82.5h0.9v0.9h-0.9zM168.9,114.9h0.9v0.9h-0.9zM168.1,85.9h0.9v0.9h-0.9zM154.2,88.4h0.9v0.9h-0.9zM173.5,122.1h0.9v0.9h-0.9zM164.0,81.2h0.9v0.9h-0.9zM147.7,93.0h0.9v0.9h-0.9zM146.9,100.6h0.9v0.9h-0.9zM151.8,79.7h0.9v0.9h-0.9zM149.4,90.8h0.9v0.9h-0.9zM165.6,90.2h0.9v0.9h-0.9zM160.8,91.4h0.9v0.9h-0.9zM146.0,78.6h0.9v0.9h-0.9zM151.6,85.3h0.9v0.9h-0.9zM145.1,114.4h0.9v0.9h-0.9zM159.9,88.3h0.9v0.9h-0.9zM170.5,91.6h0.9v0.9h-0.9zM149.7,91.8h0.9v0.9h-0.9zM165.9,88.7h0.9v0.9h-0.9zM152.0,119.8h0.9v0.9h-0.9zM161.3,112.7h0.9v0.9h-0.9zM173.5,88.2h0.9v0.9h-0.9zM161.1,80.9h0.9v0.9h-0.9zM175.7,116.2h0.9v0.9h-0.9zM165.1,84.5h0.9v0.9h-0.9zM176.0,75.8h0.9v0.9h-0.9zM157.4,123.1h0.9v0.9h-0.9zM153.9,114.4h0.9v0.9h-0.9zM176.2,110.5h0.9v0.9h-0.9zM153.3,124.4h0.9v0.9h-0.9zM156.5,123.5h0.9v0.9h-0.9zM147.4,122.7h0.9v0.9h-0.9zM168.7,76.4h0.9v0.9h-0.9zM165.5,85.8h0.9v0.9h-0.9zM160.7,100.6h0.9v0.9h-0.9zM146.7,116.4h0.9v0.9h-0.9zM175.7,104.6h0.9v0.9h-0.9zM156.7,108.1h0.9v0.9h-0.9zM156.5,105.0h0.9v0.9h-0.9zM157.7,81.9h0.9v0.9h-0.9zM172.1,92.7h0.9v0.9h-0.9zM146.5,75.9h0.9v0.9h-0.9zM158.5,80.7h0.9v0.9h-0.9zM166.9,77.3h0.9v0.9h-0.9zM143.1,78.6h0.9v0.9h-0.9zM170.4,110.5h0.9v0.9h-0.9zM172.2,115.7h0.9v0.9h-0.9zM150.8,100.5h0.9v0.9h-0.9zM161.4,89.3h0.9v0.9h-0.9zM155.6,88.1h0.9v0.9h-0.9zM146.2,113.2h0.9v0.9h-0.9zM167.8,74.2h0.9v0.9h-0.9zM151.1,88.0h0.9v0.9h-0.9zM169.9,100.4h0.9v0.9h-0.9zM158.8,87.7h0.9v0.9h-0.9zM163.5,119.6h0.9v0.9h-0.9zM176.8,75.4h0.9v0.9h-0.9zM160.8,76.3h0.9v0.9h-0.9zM171.7,107.2h0.9v0.9h-0.9zM156.5,90.0h0.9v0.9h-0.9zM145.1,120.6h0.9v0.9h-0.9zM174.0,123.4h0.9v0.9h-0.9zM174.3,75.7h0.9v0.9h-0.9zM172.8,76.2h0.9v0.9h-0.9zM176.3,113.5h0.9v0.9h-0.9zM173.4,113.1h0.9v0.9h-0.9zM173.8,112.5h0.9v0.9h-0.9zM173.8,75.4h0.9v0.9h-0.9zM166.1,118.0h0.9v0.9h-0.9zM173.2,76.2h0.9v0.9h-0.9zM159.3,104.3h0.9v0.9h-0.9zM150.6,96.4h0.9v0.9h-0.9zM171.5,124.9h0.9v0.9h-0.9zM165.7,121.7h0.9v0.9h-0.9zM147.9,97.5h0.9v0.9h-0.9zM146.0,83.5h0.9v0.9h-0.9zM161.3,109.3h0.9v0.9h-0.9zM152.2,107.3h0.9v0.9h-0.9z" fill="#999" opacity="0.7"/>
<ellipse cx="157" cy="100" rx="4.5" ry="21" fill="#222" opacity="0.55" filter="url(#bl1)"/>
<ellipse cx="156.9" cy="92.5" rx="1.7" ry="6.5" fill="#fff" opacity="0.92" filter="url(#bl1)"/>
<path d="M112.60,92.50C112.12,90.52 111.87,90.60 111.90,89.60C111.93,88.60 112.15,88.35 112.80,86.50C113.45,84.65 114.68,81.17 115.80,78.50C116.92,75.83 118.13,72.70 119.50,70.50C120.87,68.30 122.08,66.88 124.00,65.30C125.92,63.72 128.27,62.42 131.00,61.00C133.73,59.58 137.30,58.05 140.40,56.80C143.50,55.55 146.53,54.23 149.60,53.50C152.67,52.77 155.98,52.15 158.80,52.40C161.62,52.65 164.18,53.15 166.50,55.00C168.82,56.85 171.03,60.03 172.70,63.50C174.37,66.97 175.57,71.72 176.50,75.80C177.43,79.88 177.97,84.80 178.30,88.00C178.63,91.20 178.80,91.53 178.50,95.00C178.20,98.47 177.33,104.18 176.50,108.80C175.67,113.42 174.67,118.25 173.50,122.70C172.33,127.15 171.00,132.03 169.50,135.50C168.00,138.97 166.42,141.28 164.50,143.50C162.58,145.72 160.75,147.78 158.00,148.80C155.25,149.82 151.20,149.85 148.00,149.60C144.80,149.35 141.60,148.70 138.80,147.30C136.00,145.90 133.50,144.02 131.20,141.20C128.90,138.38 127.07,135.02 125.00,130.40C122.93,125.78 120.50,118.32 118.80,113.50C117.10,108.68 115.83,105.00 114.80,101.50C113.77,98.00 113.08,94.48 112.60,92.50Z" fill="none" stroke="#111" stroke-width="1.0" />
<path d="M126.50,90.00C126.75,87.23 126.88,83.65 128.00,79.90C129.12,76.15 130.45,70.72 133.20,67.50C135.95,64.28 140.48,62.30 144.50,60.60C148.52,58.90 153.38,57.33 157.30,57.30C161.22,57.27 165.18,58.08 168.00,60.40C170.82,62.72 172.78,67.10 174.20,71.20C175.62,75.30 175.98,80.00 176.50,85.00C177.02,90.00 177.52,96.20 177.30,101.20C177.08,106.20 176.15,110.40 175.20,115.00C174.25,119.60 173.00,125.22 171.60,128.80C170.20,132.38 168.80,134.53 166.80,136.50C164.80,138.47 161.95,139.78 159.60,140.60C157.25,141.42 155.13,141.67 152.70,141.40C150.27,141.13 147.57,140.28 145.00,139.00C142.43,137.72 139.47,135.90 137.30,133.70C135.13,131.50 133.28,129.43 132.00,125.80C130.72,122.17 130.52,116.78 129.60,111.90C128.68,107.02 127.02,100.15 126.50,96.50C125.98,92.85 126.25,92.77 126.50,90.00Z" fill="none" stroke="#111" stroke-width="1.0" />
<path d="M176.98,94.00 L177.03,95.37 L177.07,96.75 L177.09,98.16 L177.08,99.61 L177.04,101.11 L176.95,102.66 L176.81,104.27 L176.62,105.95 L176.37,107.71 L176.06,109.57 L175.68,111.56 L175.24,113.70 L174.72,116.05 L174.11,118.62 L173.34,121.43 L172.36,124.46 L171.08,127.61 L169.41,130.65 L167.30,133.29 L164.79,135.37 L162.00,136.82 L159.03,137.84 L155.95,138.36 L152.85,138.24 L149.82,137.57 L146.92,136.44 L144.21,134.91 L141.71,133.09 L139.45,131.00 L137.48,128.68 L135.80,126.18 L134.53,123.40 L133.70,120.43 L133.20,117.47 L132.83,114.70 L132.48,112.17 L132.12,109.86 L131.74,107.70 L131.36,105.64 L131.00,103.64 L130.65,101.70 L130.32,99.78 L130.02,97.86 L129.76,95.94 L129.60,94.00 L129.67,92.05 L129.86,90.11 L130.01,88.16 L130.20,86.17 L130.47,84.16 L130.87,82.14 L131.40,80.12 L131.96,78.04 L132.60,75.91 L133.38,73.76 L134.36,71.65 L135.64,69.73 L137.22,68.04 L139.00,66.57 L140.91,65.26 L142.91,64.08 L144.97,62.99 L147.10,61.98 L149.30,61.12 L151.58,60.42 L153.92,59.90 L156.30,59.59 L158.70,59.57 L161.10,59.79 L163.44,60.30 L165.68,61.17 L167.74,62.48 L169.51,64.27 L170.99,66.34 L172.22,68.51 L173.23,70.68 L174.07,72.79 L174.70,74.90 L175.16,76.95 L175.49,78.90 L175.75,80.74 L175.96,82.46 L176.15,84.09 L176.31,85.62 L176.46,87.10 L176.59,88.53 L176.71,89.92 L176.81,91.29 L176.90,92.64Z" fill="none" stroke="#111" stroke-width="0.95" stroke-linejoin="round" />
<path d="M176.77,94.00 L176.83,95.35 L176.86,96.72 L176.87,98.12 L176.86,99.55 L176.82,101.03 L176.74,102.56 L176.61,104.16 L176.43,105.83 L176.20,107.58 L175.90,109.44 L175.53,111.41 L175.09,113.53 L174.56,115.83 L173.91,118.33 L173.09,121.00 L172.03,123.79 L170.67,126.60 L168.95,129.25 L166.86,131.56 L164.44,133.37 L161.77,134.62 L158.95,135.46 L156.04,135.84 L153.12,135.68 L150.27,135.02 L147.55,133.91 L145.04,132.36 L142.76,130.47 L140.75,128.34 L139.01,126.03 L137.53,123.60 L136.42,120.98 L135.68,118.23 L135.21,115.52 L134.87,112.99 L134.56,110.67 L134.24,108.53 L133.93,106.53 L133.64,104.62 L133.37,102.78 L133.11,100.99 L132.87,99.23 L132.65,97.49 L132.47,95.75 L132.36,94.00 L132.42,92.25 L132.58,90.50 L132.71,88.73 L132.86,86.94 L133.09,85.12 L133.42,83.28 L133.85,81.42 L134.31,79.51 L134.85,77.54 L135.51,75.55 L136.35,73.58 L137.46,71.74 L138.82,70.09 L140.36,68.59 L142.04,67.23 L143.83,65.96 L145.70,64.79 L147.67,63.73 L149.74,62.86 L151.89,62.19 L154.11,61.71 L156.36,61.43 L158.64,61.40 L160.91,61.58 L163.14,62.03 L165.28,62.79 L167.27,63.94 L169.01,65.52 L170.49,67.36 L171.75,69.31 L172.81,71.30 L173.69,73.27 L174.37,75.26 L174.87,77.23 L175.24,79.12 L175.52,80.91 L175.75,82.60 L175.94,84.19 L176.11,85.71 L176.27,87.17 L176.40,88.58 L176.51,89.96 L176.62,91.31 L176.70,92.66Z" fill="none" stroke="#111" stroke-width="0.95" stroke-linejoin="round" />
<rect x="24.5" y="26.3" width="205.5" height="204.7" fill="none" stroke="#2b2b2b" stroke-width="1.4"/>
<line x1="70.90" y1="27.00" x2="70.90" y2="230.30" stroke="#8a8a8a" stroke-width="1.6" />
<line x1="25.20" y1="136.30" x2="229.30" y2="136.30" stroke="#6a6a6a" stroke-width="1.2" />
<path d="M67.90,231.7v5M34.00,231.7v3M42.54,231.7v3M48.60,231.7v3M53.30,231.7v3M57.14,231.7v3M60.39,231.7v3M63.20,231.7v3M65.68,231.7v3M116.70,231.7v5M82.80,231.7v3M91.34,231.7v3M97.40,231.7v3M102.10,231.7v3M105.94,231.7v3M109.19,231.7v3M112.00,231.7v3M114.48,231.7v3M164.80,231.7v5M130.90,231.7v3M139.44,231.7v3M145.50,231.7v3M150.20,231.7v3M154.04,231.7v3M157.29,231.7v3M160.10,231.7v3M162.58,231.7v3M213.60,231.7v5M179.70,231.7v3M188.24,231.7v3M194.30,231.7v3M199.00,231.7v3M202.84,231.7v3M206.09,231.7v3M208.90,231.7v3M211.38,231.7v3" stroke="#2b2b2b" stroke-width="1" fill="none"/>
<path d="M27.00,231.7v3.2M29.60,231.7v3.2M32.20,231.7v3.2M34.80,231.7v3.2M37.40,231.7v3.2M40.00,231.7v3.2M42.60,231.7v3.2M45.20,231.7v3.2M47.80,231.7v3.2M50.40,231.7v3.2M53.00,231.7v3.2M55.60,231.7v3.2M58.20,231.7v3.2M60.80,231.7v3.2M63.40,231.7v3.2M66.00,231.7v3.2M68.60,231.7v3.2M71.20,231.7v3.2M73.80,231.7v3.2M76.40,231.7v3.2M79.00,231.7v3.2M81.60,231.7v3.2M84.20,231.7v3.2M86.80,231.7v3.2M89.40,231.7v3.2M92.00,231.7v3.2M94.60,231.7v3.2M97.20,231.7v3.2M99.80,231.7v3.2M102.40,231.7v3.2M105.00,231.7v3.2M107.60,231.7v3.2M110.20,231.7v3.2M112.80,231.7v3.2M115.40,231.7v3.2M118.00,231.7v3.2M120.60,231.7v3.2M123.20,231.7v3.2M125.80,231.7v3.2M128.40,231.7v3.2M131.00,231.7v3.2M133.60,231.7v3.2M136.20,231.7v3.2M138.80,231.7v3.2M141.40,231.7v3.2M144.00,231.7v3.2M146.60,231.7v3.2M149.20,231.7v3.2M151.80,231.7v3.2M154.40,231.7v3.2M157.00,231.7v3.2M159.60,231.7v3.2M162.20,231.7v3.2M164.80,231.7v3.2M167.40,231.7v3.2M170.00,231.7v3.2M172.60,231.7v3.2M175.20,231.7v3.2M177.80,231.7v3.2M180.40,231.7v3.2M183.00,231.7v3.2M185.60,231.7v3.2M188.20,231.7v3.2M190.80,231.7v3.2M193.40,231.7v3.2M196.00,231.7v3.2M198.60,231.7v3.2M201.20,231.7v3.2M203.80,231.7v3.2M206.40,231.7v3.2M209.00,231.7v3.2M211.60,231.7v3.2M214.20,231.7v3.2M216.80,231.7v3.2M219.40,231.7v3.2M222.00,231.7v3.2M224.60,231.7v3.2M227.20,231.7v3.2" stroke="#3a3a3a" stroke-width="0.9" fill="none"/>
<path d="M25.5,231.7v5M44.5,231.7v4.5" stroke="#2b2b2b" stroke-width="1.1" fill="none"/>
<path d="M23.8,43.00h-5M23.8,76.55h-3M23.8,68.10h-3M23.8,62.10h-3M23.8,57.45h-3M23.8,53.65h-3M23.8,50.44h-3M23.8,47.65h-3M23.8,45.20h-3M23.8,90.60h-5M23.8,124.15h-3M23.8,115.70h-3M23.8,109.70h-3M23.8,105.05h-3M23.8,101.25h-3M23.8,98.04h-3M23.8,95.25h-3M23.8,92.80h-3M23.8,138.50h-5M23.8,172.05h-3M23.8,163.60h-3M23.8,157.60h-3M23.8,152.95h-3M23.8,149.15h-3M23.8,145.94h-3M23.8,143.15h-3M23.8,140.70h-3M23.8,186.90h-5M23.8,220.45h-3M23.8,212.00h-3M23.8,206.00h-3M23.8,201.35h-3M23.8,197.55h-3M23.8,194.34h-3M23.8,191.55h-3M23.8,189.10h-3" stroke="#2b2b2b" stroke-width="1" fill="none"/>
<text x="28.00" y="45.80" font-size="14" font-weight="bold" text-anchor="start" fill="#000" >0.79</text>
<text x="220.50" y="45.80" font-size="14" font-weight="bold" text-anchor="end" fill="#000" >97.16</text>
<text x="28.00" y="227.50" font-size="14" font-weight="bold" text-anchor="start" fill="#000" >0.06</text>
<text x="222.50" y="227.50" font-size="14" font-weight="bold" text-anchor="end" fill="#000" >2.00</text>
<text x="124.50" y="257.70" font-size="20" font-weight="bold" text-anchor="middle" fill="#000" >CD34</text>
<text x="17.90" y="131.30" font-size="20" font-weight="bold" text-anchor="middle" fill="#000" transform="rotate(-90 17.9 131.3)">CD38</text>
<text x="288.80" y="21.10" font-size="25.8" font-weight="bold" text-anchor="start" fill="#000" >B</text>
<path d="M392.6,174.1h1.2v1.2h-1.2zM380.4,167.1h1.2v1.2h-1.2zM351.7,148.2h1.2v1.2h-1.2zM377.2,161.5h1.2v1.2h-1.2zM371.3,151.1h1.2v1.2h-1.2zM386.8,167.1h1.2v1.2h-1.2zM414.4,180.1h1.2v1.2h-1.2zM382.0,164.5h1.2v1.2h-1.2zM368.7,207.4h1.2v1.2h-1.2zM383.4,188.0h1.2v1.2h-1.2zM378.5,197.2h1.2v1.2h-1.2zM371.2,203.5h1.2v1.2h-1.2zM374.9,162.7h1.2v1.2h-1.2zM370.5,148.0h1.2v1.2h-1.2zM466.1,123.6h1.2v1.2h-1.2zM374.9,190.2h1.2v1.2h-1.2zM374.4,187.5h1.2v1.2h-1.2zM352.1,152.4h1.2v1.2h-1.2zM454.7,213.1h1.2v1.2h-1.2zM473.1,147.0h1.2v1.2h-1.2zM353.1,148.9h1.2v1.2h-1.2zM374.9,182.4h1.2v1.2h-1.2zM358.3,145.7h1.2v1.2h-1.2zM389.6,168.8h1.2v1.2h-1.2zM387.5,157.6h1.2v1.2h-1.2zM382.5,165.4h1.2v1.2h-1.2zM373.9,195.3h1.2v1.2h-1.2zM403.8,195.7h1.2v1.2h-1.2zM388.0,188.6h1.2v1.2h-1.2zM431.3,212.2h1.2v1.2h-1.2zM374.4,178.6h1.2v1.2h-1.2zM376.6,208.7h1.2v1.2h-1.2zM371.3,155.5h1.2v1.2h-1.2zM388.3,172.0h1.2v1.2h-1.2zM364.1,148.3h1.2v1.2h-1.2zM381.8,153.1h1.2v1.2h-1.2zM382.5,183.5h1.2v1.2h-1.2zM365.9,152.4h1.2v1.2h-1.2zM385.4,158.8h1.2v1.2h-1.2zM386.5,171.5h1.2v1.2h-1.2zM343.1,147.4h1.2v1.2h-1.2zM374.2,208.0h1.2v1.2h-1.2zM386.5,165.8h1.2v1.2h-1.2zM464.1,166.2h1.2v1.2h-1.2zM406.6,140.3h1.2v1.2h-1.2zM390.7,177.9h1.2v1.2h-1.2zM374.6,176.3h1.2v1.2h-1.2zM373.9,152.8h1.2v1.2h-1.2zM339.3,136.6h1.2v1.2h-1.2zM392.2,185.7h1.2v1.2h-1.2zM381.3,178.2h1.2v1.2h-1.2zM389.1,178.3h1.2v1.2h-1.2zM378.2,172.4h1.2v1.2h-1.2zM356.3,153.4h1.2v1.2h-1.2zM399.3,185.4h1.2v1.2h-1.2zM381.7,166.3h1.2v1.2h-1.2zM505.7,188.3h1.2v1.2h-1.2zM373.6,177.4h1.2v1.2h-1.2zM385.0,151.4h1.2v1.2h-1.2zM384.6,179.5h1.2v1.2h-1.2zM356.7,146.5h1.2v1.2h-1.2zM378.0,154.2h1.2v1.2h-1.2zM372.4,203.8h1.2v1.2h-1.2zM384.4,160.9h1.2v1.2h-1.2zM402.7,191.5h1.2v1.2h-1.2zM352.3,154.5h1.2v1.2h-1.2zM375.7,153.3h1.2v1.2h-1.2zM374.4,168.2h1.2v1.2h-1.2zM362.1,208.3h1.2v1.2h-1.2zM370.8,185.7h1.2v1.2h-1.2zM410.3,137.6h1.2v1.2h-1.2zM381.5,172.1h1.2v1.2h-1.2zM393.7,164.2h1.2v1.2h-1.2zM392.0,168.9h1.2v1.2h-1.2zM390.8,172.5h1.2v1.2h-1.2zM401.3,201.8h1.2v1.2h-1.2zM387.6,158.9h1.2v1.2h-1.2zM380.7,173.4h1.2v1.2h-1.2zM351.9,143.4h1.2v1.2h-1.2zM387.2,173.6h1.2v1.2h-1.2zM374.7,182.7h1.2v1.2h-1.2zM367.1,153.4h1.2v1.2h-1.2zM381.4,178.3h1.2v1.2h-1.2zM371.2,208.0h1.2v1.2h-1.2zM388.6,187.2h1.2v1.2h-1.2zM407.2,197.0h1.2v1.2h-1.2zM377.3,176.4h1.2v1.2h-1.2zM374.3,154.5h1.2v1.2h-1.2zM314.3,147.3h1.2v1.2h-1.2zM382.6,183.5h1.2v1.2h-1.2zM367.9,156.8h1.2v1.2h-1.2zM376.6,175.6h1.2v1.2h-1.2zM376.0,156.5h1.2v1.2h-1.2zM389.2,197.0h1.2v1.2h-1.2zM363.0,150.8h1.2v1.2h-1.2zM371.8,153.7h1.2v1.2h-1.2zM401.6,149.3h1.2v1.2h-1.2zM365.1,151.9h1.2v1.2h-1.2zM375.7,184.1h1.2v1.2h-1.2zM392.2,148.9h1.2v1.2h-1.2zM349.2,148.3h1.2v1.2h-1.2zM384.5,177.2h1.2v1.2h-1.2zM388.5,179.9h1.2v1.2h-1.2zM380.9,176.9h1.2v1.2h-1.2zM373.7,194.3h1.2v1.2h-1.2zM357.4,148.0h1.2v1.2h-1.2zM378.0,150.8h1.2v1.2h-1.2zM371.6,186.5h1.2v1.2h-1.2zM408.2,191.7h1.2v1.2h-1.2zM383.1,189.1h1.2v1.2h-1.2zM375.1,205.0h1.2v1.2h-1.2zM385.7,155.3h1.2v1.2h-1.2zM405.1,213.0h1.2v1.2h-1.2zM389.0,143.0h1.2v1.2h-1.2zM369.5,157.3h1.2v1.2h-1.2zM385.9,155.3h1.2v1.2h-1.2zM397.0,193.5h1.2v1.2h-1.2zM370.4,146.3h1.2v1.2h-1.2zM396.5,173.7h1.2v1.2h-1.2zM382.3,174.0h1.2v1.2h-1.2zM383.8,176.6h1.2v1.2h-1.2zM408.5,152.3h1.2v1.2h-1.2zM360.2,151.6h1.2v1.2h-1.2zM378.3,179.4h1.2v1.2h-1.2zM376.4,155.6h1.2v1.2h-1.2zM339.0,205.2h1.2v1.2h-1.2zM376.5,184.5h1.2v1.2h-1.2zM379.5,189.2h1.2v1.2h-1.2zM362.6,200.2h1.2v1.2h-1.2zM387.1,205.1h1.2v1.2h-1.2zM369.6,198.5h1.2v1.2h-1.2zM382.6,174.7h1.2v1.2h-1.2zM372.2,174.7h1.2v1.2h-1.2zM375.7,157.0h1.2v1.2h-1.2zM405.4,198.7h1.2v1.2h-1.2zM386.4,190.2h1.2v1.2h-1.2zM358.9,143.0h1.2v1.2h-1.2zM387.9,179.6h1.2v1.2h-1.2zM391.1,169.0h1.2v1.2h-1.2zM376.9,194.5h1.2v1.2h-1.2zM378.7,185.4h1.2v1.2h-1.2zM384.5,185.8h1.2v1.2h-1.2zM370.8,150.4h1.2v1.2h-1.2zM368.6,166.4h1.2v1.2h-1.2zM388.4,182.4h1.2v1.2h-1.2zM380.6,185.8h1.2v1.2h-1.2zM387.1,192.1h1.2v1.2h-1.2zM387.2,172.5h1.2v1.2h-1.2zM376.4,185.1h1.2v1.2h-1.2zM354.7,148.8h1.2v1.2h-1.2zM487.2,113.8h1.2v1.2h-1.2zM369.8,150.3h1.2v1.2h-1.2zM381.1,185.1h1.2v1.2h-1.2zM374.7,148.6h1.2v1.2h-1.2zM356.4,147.7h1.2v1.2h-1.2zM394.9,193.4h1.2v1.2h-1.2zM402.0,187.0h1.2v1.2h-1.2zM375.8,190.5h1.2v1.2h-1.2zM378.4,175.3h1.2v1.2h-1.2zM374.3,181.0h1.2v1.2h-1.2zM382.0,163.3h1.2v1.2h-1.2zM375.4,197.1h1.2v1.2h-1.2zM455.6,178.9h1.2v1.2h-1.2zM362.1,149.4h1.2v1.2h-1.2zM383.6,176.5h1.2v1.2h-1.2zM398.2,164.2h1.2v1.2h-1.2zM371.8,204.2h1.2v1.2h-1.2zM387.8,184.9h1.2v1.2h-1.2zM375.0,190.4h1.2v1.2h-1.2zM408.1,183.6h1.2v1.2h-1.2zM376.9,188.2h1.2v1.2h-1.2zM383.2,159.9h1.2v1.2h-1.2zM406.6,191.9h1.2v1.2h-1.2zM371.5,160.7h1.2v1.2h-1.2zM360.1,156.1h1.2v1.2h-1.2zM377.1,186.5h1.2v1.2h-1.2zM380.8,154.4h1.2v1.2h-1.2zM468.7,113.8h1.2v1.2h-1.2zM353.7,205.3h1.2v1.2h-1.2zM361.8,152.1h1.2v1.2h-1.2zM380.0,145.1h1.2v1.2h-1.2zM379.1,176.0h1.2v1.2h-1.2zM411.1,213.2h1.2v1.2h-1.2zM380.4,162.3h1.2v1.2h-1.2zM376.0,191.7h1.2v1.2h-1.2zM403.3,178.3h1.2v1.2h-1.2zM385.0,176.5h1.2v1.2h-1.2zM387.2,185.8h1.2v1.2h-1.2zM371.6,160.4h1.2v1.2h-1.2zM368.8,149.8h1.2v1.2h-1.2zM439.6,207.3h1.2v1.2h-1.2zM377.4,181.3h1.2v1.2h-1.2zM391.1,174.1h1.2v1.2h-1.2zM385.1,178.4h1.2v1.2h-1.2zM401.0,171.6h1.2v1.2h-1.2zM395.1,170.0h1.2v1.2h-1.2zM388.0,174.6h1.2v1.2h-1.2zM388.7,169.2h1.2v1.2h-1.2zM462.2,182.1h1.2v1.2h-1.2zM382.2,160.6h1.2v1.2h-1.2zM402.6,216.4h1.2v1.2h-1.2zM348.5,153.2h1.2v1.2h-1.2zM387.5,179.2h1.2v1.2h-1.2zM392.8,184.7h1.2v1.2h-1.2zM382.9,191.7h1.2v1.2h-1.2zM382.7,159.9h1.2v1.2h-1.2zM382.8,179.2h1.2v1.2h-1.2zM384.3,182.9h1.2v1.2h-1.2zM375.8,167.9h1.2v1.2h-1.2zM479.6,205.6h1.2v1.2h-1.2zM379.3,161.0h1.2v1.2h-1.2zM398.4,177.7h1.2v1.2h-1.2zM389.2,157.6h1.2v1.2h-1.2zM376.2,161.3h1.2v1.2h-1.2zM391.5,133.3h1.2v1.2h-1.2zM384.4,179.9h1.2v1.2h-1.2zM383.6,162.8h1.2v1.2h-1.2zM398.4,203.4h1.2v1.2h-1.2zM373.5,194.0h1.2v1.2h-1.2zM362.8,206.2h1.2v1.2h-1.2zM389.6,163.8h1.2v1.2h-1.2zM373.5,166.2h1.2v1.2h-1.2zM377.9,180.9h1.2v1.2h-1.2zM370.1,148.2h1.2v1.2h-1.2zM373.6,188.3h1.2v1.2h-1.2zM373.8,204.8h1.2v1.2h-1.2zM385.4,182.6h1.2v1.2h-1.2zM383.5,175.9h1.2v1.2h-1.2zM387.8,168.3h1.2v1.2h-1.2zM393.9,174.4h1.2v1.2h-1.2zM381.5,160.2h1.2v1.2h-1.2zM390.7,164.9h1.2v1.2h-1.2zM386.0,150.7h1.2v1.2h-1.2zM381.4,180.1h1.2v1.2h-1.2zM386.4,174.6h1.2v1.2h-1.2zM386.4,180.4h1.2v1.2h-1.2zM373.6,152.8h1.2v1.2h-1.2zM379.7,170.4h1.2v1.2h-1.2zM376.4,138.9h1.2v1.2h-1.2zM394.4,168.8h1.2v1.2h-1.2zM386.7,168.1h1.2v1.2h-1.2zM378.1,169.6h1.2v1.2h-1.2zM377.1,169.9h1.2v1.2h-1.2zM362.6,153.9h1.2v1.2h-1.2zM374.6,136.6h1.2v1.2h-1.2zM392.7,196.1h1.2v1.2h-1.2zM371.3,148.6h1.2v1.2h-1.2zM359.2,150.4h1.2v1.2h-1.2zM392.8,149.5h1.2v1.2h-1.2zM373.4,182.3h1.2v1.2h-1.2zM472.4,116.4h1.2v1.2h-1.2zM469.4,124.4h1.2v1.2h-1.2zM454.4,111.4h1.2v1.2h-1.2zM419.4,114.4h1.2v1.2h-1.2zM321.4,171.4h1.2v1.2h-1.2zM329.4,157.4h1.2v1.2h-1.2z" fill="#505050"/>
<path d="M457.90,148.00 L457.64,149.34 L457.35,150.65 L457.02,151.94 L456.64,153.20 L456.22,154.45 L455.75,155.68 L455.24,156.90 L454.67,158.10 L454.04,159.29 L453.35,160.46 L452.58,161.59 L451.70,162.66 L450.74,163.66 L449.69,164.59 L448.57,165.43 L447.38,166.21 L446.14,166.92 L444.85,167.55 L443.51,168.08 L442.11,168.49 L440.68,168.78 L439.23,168.95 L437.77,169.00 L436.30,168.94 L434.83,168.79 L433.39,168.51 L431.98,168.06 L430.65,167.42 L429.44,166.57 L428.36,165.56 L427.39,164.47 L426.52,163.33 L425.74,162.17 L425.04,161.00 L424.41,159.83 L423.84,158.65 L423.34,157.48 L422.89,156.30 L422.49,155.13 L422.14,153.95 L421.83,152.78 L421.56,151.60 L421.33,150.41 L421.14,149.21 L421.00,148.00 L420.91,146.77 L420.86,145.52 L420.85,144.25 L420.90,142.95 L421.00,141.63 L421.17,140.28 L421.43,138.93 L421.81,137.57 L422.32,136.25 L423.01,135.01 L423.83,133.83 L424.74,132.72 L425.73,131.66 L426.78,130.63 L427.88,129.61 L429.05,128.62 L430.31,127.74 L431.67,126.99 L433.10,126.36 L434.58,125.77 L436.10,125.16 L437.69,124.67 L439.32,124.45 L440.97,124.50 L442.61,124.72 L444.23,125.00 L445.86,125.35 L447.48,125.77 L449.11,126.25 L450.71,126.85 L452.28,127.57 L453.73,128.51 L455.06,129.61 L456.22,130.89 L457.17,132.33 L457.90,133.91 L458.40,135.57 L458.68,137.27 L458.78,138.97 L458.76,140.62 L458.67,142.22 L458.53,143.74 L458.35,145.21 L458.14,146.63Z" fill="#6e6e6e" stroke="none" stroke-width="0" stroke-linejoin="round" />
<path d="M428,137 C433,131 445,131 449,138 C453,147 451,159 445,163 C439,167 431,165 428,159 C425,152 425,143 428,137 Z" fill="#000" filter="url(#bl2)"/>
<path d="M457.90,148.00 L457.64,149.34 L457.35,150.65 L457.02,151.94 L456.64,153.20 L456.22,154.45 L455.75,155.68 L455.24,156.90 L454.67,158.10 L454.04,159.29 L453.35,160.46 L452.58,161.59 L451.70,162.66 L450.74,163.66 L449.69,164.59 L448.57,165.43 L447.38,166.21 L446.14,166.92 L444.85,167.55 L443.51,168.08 L442.11,168.49 L440.68,168.78 L439.23,168.95 L437.77,169.00 L436.30,168.94 L434.83,168.79 L433.39,168.51 L431.98,168.06 L430.65,167.42 L429.44,166.57 L428.36,165.56 L427.39,164.47 L426.52,163.33 L425.74,162.17 L425.04,161.00 L424.41,159.83 L423.84,158.65 L423.34,157.48 L422.89,156.30 L422.49,155.13 L422.14,153.95 L421.83,152.78 L421.56,151.60 L421.33,150.41 L421.14,149.21 L421.00,148.00 L420.91,146.77 L420.86,145.52 L420.85,144.25 L420.90,142.95 L421.00,141.63 L421.17,140.28 L421.43,138.93 L421.81,137.57 L422.32,136.25 L423.01,135.01 L423.83,133.83 L424.74,132.72 L425.73,131.66 L426.78,130.63 L427.88,129.61 L429.05,128.62 L430.31,127.74 L431.67,126.99 L433.10,126.36 L434.58,125.77 L436.10,125.16 L437.69,124.67 L439.32,124.45 L440.97,124.50 L442.61,124.72 L444.23,125.00 L445.86,125.35 L447.48,125.77 L449.11,126.25 L450.71,126.85 L452.28,127.57 L453.73,128.51 L455.06,129.61 L456.22,130.89 L457.17,132.33 L457.90,133.91 L458.40,135.57 L458.68,137.27 L458.78,138.97 L458.76,140.62 L458.67,142.22 L458.53,143.74 L458.35,145.21 L458.14,146.63Z" fill="none" stroke="#2a2a2a" stroke-width="0.55" stroke-linejoin="round" />
<path d="M456.61,148.00 L456.37,149.25 L456.10,150.47 L455.80,151.68 L455.45,152.86 L455.06,154.03 L454.63,155.18 L454.16,156.33 L453.64,157.46 L453.06,158.58 L452.41,159.67 L451.69,160.74 L450.88,161.75 L449.98,162.69 L449.00,163.56 L447.95,164.36 L446.84,165.09 L445.68,165.77 L444.47,166.36 L443.20,166.86 L441.89,167.24 L440.55,167.52 L439.19,167.68 L437.81,167.72 L436.43,167.67 L435.06,167.52 L433.70,167.25 L432.38,166.83 L431.14,166.23 L430.00,165.43 L428.98,164.48 L428.08,163.45 L427.26,162.38 L426.53,161.29 L425.88,160.19 L425.29,159.09 L424.76,157.98 L424.29,156.88 L423.88,155.77 L423.52,154.67 L423.19,153.57 L422.91,152.47 L422.66,151.37 L422.45,150.26 L422.28,149.13 L422.15,148.00 L422.07,146.85 L422.02,145.68 L422.01,144.49 L422.05,143.28 L422.14,142.04 L422.29,140.78 L422.53,139.51 L422.88,138.24 L423.36,137.00 L424.00,135.83 L424.76,134.73 L425.61,133.68 L426.53,132.68 L427.51,131.71 L428.54,130.75 L429.63,129.82 L430.82,129.00 L432.10,128.29 L433.44,127.69 L434.82,127.14 L436.25,126.57 L437.74,126.12 L439.27,125.92 L440.82,125.96 L442.35,126.17 L443.87,126.44 L445.40,126.77 L446.92,127.17 L448.43,127.63 L449.93,128.20 L451.39,128.89 L452.75,129.77 L453.98,130.81 L455.06,132.01 L455.95,133.36 L456.62,134.83 L457.09,136.39 L457.35,137.98 L457.44,139.57 L457.42,141.11 L457.33,142.60 L457.20,144.03 L457.03,145.40 L456.83,146.72Z" fill="none" stroke="#2a2a2a" stroke-width="0.55" stroke-linejoin="round" />
<path d="M455.32,148.00 L455.10,149.16 L454.85,150.30 L454.58,151.42 L454.26,152.52 L453.91,153.61 L453.52,154.69 L453.09,155.76 L452.60,156.81 L452.07,157.86 L451.48,158.89 L450.81,159.89 L450.05,160.83 L449.22,161.72 L448.31,162.54 L447.33,163.29 L446.29,163.98 L445.21,164.61 L444.08,165.17 L442.90,165.63 L441.67,166.00 L440.42,166.26 L439.14,166.41 L437.86,166.45 L436.57,166.40 L435.28,166.26 L434.01,166.00 L432.78,165.60 L431.62,165.04 L430.56,164.29 L429.61,163.40 L428.76,162.44 L428.00,161.44 L427.32,160.41 L426.72,159.38 L426.17,158.35 L425.68,157.31 L425.25,156.28 L424.87,155.25 L424.54,154.22 L424.24,153.19 L423.98,152.16 L423.76,151.13 L423.57,150.10 L423.41,149.05 L423.30,148.00 L423.22,146.93 L423.17,145.85 L423.16,144.74 L423.19,143.61 L423.27,142.46 L423.41,141.28 L423.63,140.10 L423.95,138.91 L424.39,137.75 L424.98,136.66 L425.69,135.63 L426.47,134.64 L427.33,133.70 L428.24,132.80 L429.20,131.90 L430.22,131.02 L431.33,130.25 L432.52,129.59 L433.77,129.03 L435.07,128.52 L436.40,127.99 L437.79,127.57 L439.22,127.38 L440.66,127.43 L442.09,127.62 L443.52,127.88 L444.93,128.20 L446.35,128.57 L447.76,129.01 L449.15,129.55 L450.51,130.20 L451.76,131.03 L452.90,132.00 L453.91,133.12 L454.73,134.39 L455.35,135.76 L455.77,137.21 L456.01,138.69 L456.09,140.17 L456.07,141.60 L455.99,142.99 L455.86,144.31 L455.71,145.58 L455.52,146.81Z" fill="none" stroke="#2a2a2a" stroke-width="0.55" stroke-linejoin="round" />
<path d="M454.03,148.00 L453.83,149.07 L453.61,150.12 L453.36,151.16 L453.07,152.18 L452.75,153.19 L452.40,154.19 L452.01,155.18 L451.57,156.17 L451.08,157.14 L450.54,158.10 L449.93,159.03 L449.23,159.92 L448.46,160.75 L447.62,161.51 L446.71,162.22 L445.75,162.87 L444.74,163.46 L443.69,163.98 L442.59,164.41 L441.45,164.75 L440.29,165.00 L439.10,165.14 L437.90,165.17 L436.70,165.12 L435.50,164.99 L434.32,164.75 L433.18,164.37 L432.10,163.84 L431.11,163.14 L430.23,162.32 L429.45,161.42 L428.74,160.49 L428.11,159.54 L427.55,158.57 L427.05,157.61 L426.60,156.64 L426.21,155.68 L425.86,154.72 L425.56,153.76 L425.30,152.81 L425.06,151.85 L424.86,150.90 L424.69,149.94 L424.55,148.98 L424.44,148.00 L424.37,147.01 L424.33,146.01 L424.31,144.98 L424.34,143.94 L424.41,142.87 L424.54,141.78 L424.74,140.68 L425.02,139.58 L425.43,138.50 L425.97,137.48 L426.61,136.52 L427.34,135.60 L428.13,134.73 L428.97,133.88 L429.86,133.04 L430.81,132.23 L431.84,131.51 L432.94,130.89 L434.10,130.37 L435.31,129.89 L436.55,129.41 L437.84,129.02 L439.17,128.85 L440.51,128.89 L441.84,129.08 L443.16,129.32 L444.47,129.62 L445.78,129.98 L447.09,130.39 L448.37,130.90 L449.62,131.51 L450.78,132.29 L451.83,133.20 L452.75,134.24 L453.50,135.41 L454.07,136.69 L454.46,138.03 L454.68,139.40 L454.75,140.76 L454.73,142.09 L454.65,143.37 L454.53,144.59 L454.38,145.77 L454.22,146.90Z" fill="none" stroke="#2a2a2a" stroke-width="0.55" stroke-linejoin="round" />
<path d="M452.74,148.00 L452.56,148.98 L452.36,149.95 L452.14,150.90 L451.89,151.84 L451.60,152.77 L451.28,153.69 L450.93,154.61 L450.54,155.52 L450.10,156.43 L449.60,157.31 L449.04,158.18 L448.41,159.00 L447.70,159.77 L446.92,160.49 L446.09,161.15 L445.21,161.75 L444.28,162.30 L443.31,162.79 L442.29,163.19 L441.23,163.51 L440.15,163.74 L439.05,163.86 L437.94,163.90 L436.83,163.85 L435.73,163.72 L434.64,163.50 L433.58,163.15 L432.58,162.65 L431.67,162.00 L430.86,161.24 L430.13,160.41 L429.48,159.54 L428.90,158.66 L428.39,157.76 L427.93,156.87 L427.52,155.98 L427.17,155.08 L426.86,154.19 L426.59,153.30 L426.35,152.42 L426.14,151.54 L425.96,150.66 L425.81,149.78 L425.69,148.90 L425.59,148.00 L425.53,147.09 L425.48,146.17 L425.47,145.23 L425.49,144.27 L425.55,143.29 L425.66,142.28 L425.84,141.27 L426.10,140.25 L426.46,139.25 L426.95,138.31 L427.54,137.42 L428.20,136.56 L428.93,135.75 L429.71,134.96 L430.52,134.18 L431.39,133.43 L432.34,132.76 L433.36,132.19 L434.44,131.71 L435.55,131.27 L436.69,130.82 L437.89,130.47 L439.12,130.32 L440.35,130.36 L441.58,130.53 L442.80,130.76 L444.01,131.04 L445.22,131.38 L446.41,131.77 L447.59,132.25 L448.74,132.82 L449.79,133.54 L450.75,134.39 L451.59,135.36 L452.28,136.44 L452.79,137.61 L453.15,138.85 L453.34,140.11 L453.41,141.36 L453.38,142.58 L453.31,143.75 L453.20,144.88 L453.06,145.95 L452.91,146.99Z" fill="none" stroke="#2a2a2a" stroke-width="0.55" stroke-linejoin="round" />
<path d="M451.45,148.00 L451.29,148.89 L451.11,149.77 L450.92,150.64 L450.70,151.50 L450.45,152.35 L450.17,153.19 L449.86,154.04 L449.50,154.88 L449.11,155.71 L448.66,156.53 L448.16,157.33 L447.58,158.09 L446.94,158.80 L446.23,159.47 L445.47,160.08 L444.66,160.64 L443.81,161.15 L442.92,161.60 L441.98,161.97 L441.02,162.27 L440.02,162.47 L439.01,162.59 L437.99,162.62 L436.97,162.58 L435.95,162.46 L434.95,162.24 L433.98,161.92 L433.06,161.46 L432.23,160.86 L431.48,160.16 L430.82,159.39 L430.22,158.59 L429.69,157.78 L429.23,156.96 L428.81,156.13 L428.44,155.31 L428.12,154.48 L427.85,153.66 L427.61,152.85 L427.40,152.04 L427.22,151.23 L427.06,150.43 L426.93,149.63 L426.82,148.82 L426.74,148.00 L426.68,147.17 L426.64,146.33 L426.62,145.48 L426.64,144.60 L426.69,143.70 L426.78,142.78 L426.94,141.85 L427.17,140.92 L427.49,140.00 L427.94,139.14 L428.47,138.31 L429.07,137.53 L429.73,136.77 L430.44,136.04 L431.18,135.33 L431.98,134.63 L432.85,134.02 L433.79,133.49 L434.77,133.05 L435.79,132.64 L436.84,132.24 L437.94,131.92 L439.07,131.78 L440.20,131.83 L441.32,131.99 L442.44,132.20 L443.55,132.47 L444.65,132.78 L445.74,133.15 L446.81,133.60 L447.85,134.13 L448.81,134.80 L449.68,135.58 L450.44,136.47 L451.05,137.47 L451.52,138.54 L451.83,139.67 L452.01,140.82 L452.06,141.96 L452.04,143.07 L451.97,144.14 L451.86,145.16 L451.74,146.14 L451.60,147.08Z" fill="none" stroke="#2a2a2a" stroke-width="0.55" stroke-linejoin="round" />
<path d="M450.16,148.00 L450.02,148.81 L449.87,149.60 L449.70,150.38 L449.51,151.16 L449.29,151.93 L449.05,152.70 L448.78,153.47 L448.47,154.23 L448.12,154.99 L447.73,155.74 L447.28,156.48 L446.76,157.17 L446.18,157.83 L445.54,158.44 L444.85,159.01 L444.12,159.52 L443.34,159.99 L442.53,160.41 L441.68,160.75 L440.80,161.02 L439.89,161.21 L438.97,161.32 L438.03,161.35 L437.10,161.30 L436.17,161.19 L435.26,160.99 L434.38,160.69 L433.54,160.27 L432.78,159.72 L432.11,159.08 L431.50,158.38 L430.96,157.65 L430.48,156.90 L430.06,156.15 L429.69,155.39 L429.36,154.64 L429.08,153.88 L428.84,153.14 L428.63,152.39 L428.45,151.66 L428.30,150.93 L428.17,150.20 L428.05,149.47 L427.96,148.74 L427.88,148.00 L427.83,147.25 L427.80,146.50 L427.78,145.72 L427.79,144.93 L427.83,144.11 L427.91,143.28 L428.04,142.44 L428.24,141.59 L428.53,140.76 L428.92,139.96 L429.40,139.21 L429.93,138.49 L430.53,137.80 L431.17,137.13 L431.84,136.47 L432.57,135.83 L433.36,135.27 L434.21,134.79 L435.11,134.39 L436.03,134.02 L436.99,133.65 L437.99,133.37 L439.02,133.25 L440.05,133.29 L441.07,133.44 L442.08,133.64 L443.09,133.89 L444.08,134.19 L445.07,134.53 L446.03,134.95 L446.97,135.45 L447.83,136.06 L448.60,136.78 L449.28,137.59 L449.83,138.49 L450.24,139.47 L450.52,140.49 L450.67,141.53 L450.72,142.56 L450.69,143.56 L450.63,144.52 L450.53,145.44 L450.42,146.32 L450.29,147.18Z" fill="none" stroke="#2a2a2a" stroke-width="0.55" stroke-linejoin="round" />
<path d="M448.87,148.00 L448.75,148.72 L448.62,149.42 L448.48,150.12 L448.32,150.82 L448.14,151.51 L447.93,152.20 L447.70,152.89 L447.44,153.58 L447.14,154.27 L446.79,154.96 L446.39,155.62 L445.94,156.26 L445.42,156.86 L444.85,157.42 L444.24,157.93 L443.58,158.41 L442.88,158.84 L442.14,159.22 L441.38,159.53 L440.58,159.78 L439.76,159.95 L438.92,160.05 L438.08,160.07 L437.24,160.03 L436.40,159.92 L435.57,159.74 L434.78,159.46 L434.03,159.07 L433.34,158.58 L432.73,157.99 L432.19,157.36 L431.70,156.70 L431.27,156.02 L430.90,155.34 L430.57,154.65 L430.28,153.97 L430.04,153.29 L429.83,152.61 L429.66,151.94 L429.51,151.27 L429.38,150.62 L429.27,149.96 L429.17,149.31 L429.10,148.66 L429.03,148.00 L428.99,147.33 L428.95,146.66 L428.93,145.97 L428.94,145.26 L428.96,144.53 L429.03,143.78 L429.14,143.02 L429.31,142.26 L429.56,141.51 L429.91,140.79 L430.32,140.10 L430.80,139.45 L431.33,138.82 L431.90,138.21 L432.50,137.61 L433.15,137.04 L433.86,136.53 L434.63,136.09 L435.44,135.72 L436.28,135.39 L437.14,135.07 L438.04,134.82 L438.96,134.72 L439.89,134.76 L440.81,134.89 L441.72,135.08 L442.62,135.31 L443.51,135.59 L444.39,135.91 L445.26,136.30 L446.08,136.76 L446.84,137.32 L447.53,137.97 L448.12,138.71 L448.61,139.52 L448.97,140.40 L449.21,141.31 L449.34,142.24 L449.37,143.16 L449.35,144.05 L449.28,144.91 L449.20,145.73 L449.10,146.51 L448.99,147.27Z" fill="none" stroke="#2a2a2a" stroke-width="0.55" stroke-linejoin="round" />
<path d="M447.58,148.00 L447.48,148.63 L447.37,149.25 L447.26,149.86 L447.13,150.47 L446.98,151.09 L446.82,151.70 L446.63,152.32 L446.40,152.94 L446.15,153.56 L445.85,154.17 L445.51,154.77 L445.11,155.34 L444.66,155.89 L444.16,156.39 L443.62,156.86 L443.03,157.29 L442.41,157.68 L441.76,158.03 L441.07,158.31 L440.36,158.53 L439.62,158.69 L438.88,158.78 L438.12,158.80 L437.37,158.76 L436.62,158.66 L435.89,158.48 L435.18,158.23 L434.51,157.88 L433.90,157.44 L433.35,156.91 L432.87,156.35 L432.44,155.75 L432.06,155.15 L431.74,154.53 L431.45,153.92 L431.21,153.30 L431.00,152.69 L430.82,152.08 L430.68,151.48 L430.56,150.89 L430.46,150.31 L430.37,149.73 L430.30,149.15 L430.23,148.58 L430.18,148.00 L430.14,147.42 L430.11,146.82 L430.09,146.21 L430.08,145.59 L430.10,144.94 L430.15,144.28 L430.24,143.61 L430.39,142.93 L430.60,142.26 L430.89,141.62 L431.25,141.00 L431.67,140.41 L432.13,139.84 L432.63,139.29 L433.16,138.75 L433.74,138.24 L434.37,137.78 L435.05,137.39 L435.77,137.06 L436.52,136.77 L437.29,136.49 L438.09,136.27 L438.91,136.18 L439.74,136.22 L440.55,136.35 L441.36,136.52 L442.16,136.73 L442.95,136.99 L443.72,137.29 L444.48,137.65 L445.20,138.07 L445.86,138.58 L446.45,139.17 L446.97,139.82 L447.38,140.55 L447.69,141.32 L447.90,142.13 L448.00,142.95 L448.03,143.76 L448.00,144.54 L447.94,145.29 L447.87,146.01 L447.78,146.70 L447.68,147.36Z" fill="none" stroke="#2a2a2a" stroke-width="0.55" stroke-linejoin="round" />
<path d="M446.29,148.00 L446.21,148.54 L446.13,149.07 L446.04,149.60 L445.94,150.13 L445.83,150.67 L445.70,151.21 L445.55,151.75 L445.37,152.29 L445.16,152.84 L444.92,153.38 L444.63,153.92 L444.29,154.43 L443.90,154.91 L443.47,155.37 L443.00,155.79 L442.49,156.18 L441.95,156.53 L441.37,156.84 L440.77,157.09 L440.14,157.29 L439.49,157.43 L438.83,157.51 L438.17,157.52 L437.50,157.48 L436.84,157.39 L436.20,157.23 L435.58,157.00 L434.99,156.69 L434.45,156.29 L433.98,155.83 L433.55,155.33 L433.18,154.81 L432.86,154.27 L432.57,153.72 L432.33,153.18 L432.13,152.63 L431.96,152.09 L431.82,151.55 L431.70,151.03 L431.61,150.51 L431.53,150.00 L431.47,149.49 L431.42,149.00 L431.37,148.50 L431.33,148.00 L431.29,147.50 L431.26,146.98 L431.24,146.46 L431.23,145.92 L431.24,145.36 L431.27,144.78 L431.34,144.19 L431.46,143.60 L431.63,143.01 L431.88,142.44 L432.18,141.90 L432.53,141.37 L432.93,140.86 L433.36,140.38 L433.82,139.90 L434.33,139.44 L434.88,139.04 L435.48,138.69 L436.11,138.40 L436.76,138.14 L437.44,137.90 L438.14,137.72 L438.86,137.65 L439.58,137.69 L440.30,137.80 L441.00,137.96 L441.70,138.16 L442.38,138.40 L443.05,138.67 L443.70,139.00 L444.31,139.38 L444.88,139.84 L445.38,140.36 L445.81,140.94 L446.16,141.57 L446.41,142.25 L446.58,142.95 L446.67,143.66 L446.69,144.36 L446.66,145.03 L446.60,145.68 L446.53,146.29 L446.45,146.88 L446.37,147.45Z" fill="none" stroke="#2a2a2a" stroke-width="0.55" stroke-linejoin="round" />
<path d="M445.00,148.00 L444.94,148.45 L444.88,148.90 L444.82,149.34 L444.75,149.79 L444.68,150.25 L444.58,150.71 L444.47,151.18 L444.34,151.65 L444.18,152.12 L443.98,152.60 L443.74,153.06 L443.46,153.51 L443.14,153.94 L442.78,154.35 L442.38,154.72 L441.94,155.06 L441.48,155.37 L440.98,155.64 L440.46,155.87 L439.92,156.04 L439.36,156.17 L438.79,156.23 L438.21,156.25 L437.64,156.21 L437.07,156.12 L436.51,155.98 L435.97,155.77 L435.47,155.50 L435.01,155.15 L434.60,154.75 L434.24,154.32 L433.92,153.86 L433.65,153.39 L433.41,152.92 L433.21,152.44 L433.05,151.96 L432.91,151.49 L432.81,151.03 L432.73,150.57 L432.66,150.12 L432.61,149.69 L432.57,149.26 L432.54,148.84 L432.51,148.42 L432.48,148.00 L432.45,147.58 L432.42,147.15 L432.40,146.70 L432.38,146.25 L432.38,145.77 L432.40,145.28 L432.44,144.78 L432.53,144.27 L432.67,143.76 L432.86,143.27 L433.11,142.79 L433.40,142.33 L433.72,141.89 L434.09,141.46 L434.48,141.04 L434.91,140.65 L435.39,140.29 L435.90,139.99 L436.44,139.74 L437.00,139.52 L437.59,139.32 L438.19,139.17 L438.81,139.12 L439.43,139.15 L440.04,139.26 L440.64,139.40 L441.24,139.58 L441.81,139.80 L442.38,140.05 L442.92,140.35 L443.43,140.69 L443.89,141.10 L444.30,141.55 L444.65,142.06 L444.93,142.60 L445.14,143.18 L445.27,143.77 L445.33,144.37 L445.34,144.95 L445.31,145.52 L445.26,146.06 L445.20,146.58 L445.13,147.07 L445.06,147.54Z" fill="none" stroke="#2a2a2a" stroke-width="0.55" stroke-linejoin="round" />
<path d="M443.71,148.00 L443.67,148.36 L443.64,148.72 L443.60,149.08 L443.57,149.45 L443.52,149.83 L443.47,150.21 L443.40,150.60 L443.31,151.00 L443.19,151.41 L443.04,151.81 L442.86,152.21 L442.64,152.60 L442.38,152.97 L442.09,153.32 L441.76,153.65 L441.40,153.95 L441.01,154.22 L440.60,154.45 L440.16,154.65 L439.70,154.80 L439.23,154.91 L438.74,154.96 L438.26,154.97 L437.77,154.93 L437.29,154.85 L436.82,154.72 L436.37,154.54 L435.95,154.30 L435.57,154.01 L435.23,153.67 L434.92,153.30 L434.66,152.91 L434.44,152.51 L434.25,152.11 L434.09,151.70 L433.97,151.29 L433.87,150.89 L433.80,150.50 L433.75,150.11 L433.72,149.74 L433.69,149.38 L433.67,149.03 L433.66,148.68 L433.64,148.34 L433.62,148.00 L433.60,147.66 L433.58,147.31 L433.55,146.95 L433.53,146.57 L433.52,146.19 L433.52,145.78 L433.55,145.37 L433.60,144.94 L433.70,144.51 L433.85,144.10 L434.04,143.69 L434.26,143.29 L434.52,142.91 L434.82,142.54 L435.14,142.18 L435.50,141.85 L435.89,141.55 L436.32,141.29 L436.77,141.08 L437.25,140.89 L437.74,140.73 L438.24,140.62 L438.76,140.58 L439.28,140.62 L439.79,140.71 L440.29,140.84 L440.77,141.00 L441.25,141.20 L441.70,141.43 L442.14,141.70 L442.54,142.01 L442.91,142.36 L443.23,142.75 L443.50,143.17 L443.71,143.63 L443.86,144.10 L443.96,144.59 L444.00,145.08 L444.00,145.55 L443.97,146.01 L443.92,146.45 L443.87,146.86 L443.81,147.25 L443.76,147.63Z" fill="none" stroke="#2a2a2a" stroke-width="0.55" stroke-linejoin="round" />
<path d="M442.42,148.00 L442.40,148.27 L442.39,148.55 L442.38,148.83 L442.38,149.11 L442.37,149.41 L442.35,149.71 L442.32,150.03 L442.27,150.36 L442.20,150.69 L442.10,151.02 L441.98,151.36 L441.82,151.68 L441.62,152.00 L441.40,152.30 L441.14,152.58 L440.86,152.83 L440.55,153.06 L440.21,153.26 L439.85,153.43 L439.48,153.56 L439.09,153.64 L438.70,153.69 L438.30,153.70 L437.90,153.66 L437.51,153.59 L437.14,153.47 L436.77,153.31 L436.43,153.11 L436.13,152.87 L435.85,152.59 L435.61,152.29 L435.40,151.97 L435.23,151.64 L435.08,151.30 L434.97,150.96 L434.89,150.62 L434.83,150.29 L434.79,149.97 L434.77,149.66 L434.77,149.36 L434.77,149.07 L434.77,148.79 L434.78,148.52 L434.78,148.26 L434.77,148.00 L434.75,147.74 L434.73,147.47 L434.70,147.19 L434.68,146.90 L434.65,146.60 L434.64,146.28 L434.65,145.95 L434.68,145.61 L434.74,145.26 L434.83,144.92 L434.96,144.58 L435.13,144.25 L435.32,143.93 L435.55,143.62 L435.80,143.33 L436.09,143.05 L436.40,142.80 L436.74,142.59 L437.11,142.41 L437.49,142.27 L437.89,142.15 L438.29,142.07 L438.71,142.05 L439.12,142.08 L439.53,142.16 L439.93,142.28 L440.31,142.43 L440.68,142.61 L441.03,142.81 L441.36,143.05 L441.66,143.32 L441.92,143.62 L442.15,143.94 L442.34,144.29 L442.49,144.65 L442.59,145.03 L442.65,145.41 L442.67,145.79 L442.65,146.15 L442.62,146.50 L442.58,146.83 L442.53,147.14 L442.49,147.44 L442.45,147.72Z" fill="none" stroke="#2a2a2a" stroke-width="0.55" stroke-linejoin="round" />
<path d="M439.0,143.9h1.1v1.1h-1.1zM434.5,128.3h1.1v1.1h-1.1zM436.4,138.9h1.1v1.1h-1.1zM441.3,152.6h1.1v1.1h-1.1zM450.6,145.4h1.1v1.1h-1.1zM431.8,147.2h1.1v1.1h-1.1zM444.1,140.7h1.1v1.1h-1.1zM434.9,135.1h1.1v1.1h-1.1zM449.5,156.8h1.1v1.1h-1.1zM425.7,141.0h1.1v1.1h-1.1zM423.9,142.2h1.1v1.1h-1.1zM447.5,135.4h1.1v1.1h-1.1zM456.8,141.2h1.1v1.1h-1.1zM424.2,147.5h1.1v1.1h-1.1zM439.0,140.1h1.1v1.1h-1.1zM446.3,158.5h1.1v1.1h-1.1zM426.8,148.7h1.1v1.1h-1.1zM440.8,164.9h1.1v1.1h-1.1zM449.2,148.7h1.1v1.1h-1.1zM443.6,154.5h1.1v1.1h-1.1zM445.2,151.4h1.1v1.1h-1.1zM448.7,140.6h1.1v1.1h-1.1zM436.4,151.8h1.1v1.1h-1.1zM427.8,143.9h1.1v1.1h-1.1zM441.2,161.6h1.1v1.1h-1.1zM446.8,141.9h1.1v1.1h-1.1zM435.7,155.9h1.1v1.1h-1.1zM451.2,131.2h1.1v1.1h-1.1zM438.6,146.5h1.1v1.1h-1.1zM437.3,132.3h1.1v1.1h-1.1zM443.2,153.0h1.1v1.1h-1.1zM443.2,150.8h1.1v1.1h-1.1zM440.6,132.9h1.1v1.1h-1.1zM432.8,163.0h1.1v1.1h-1.1zM448.5,160.5h1.1v1.1h-1.1zM426.0,133.6h1.1v1.1h-1.1zM447.7,137.8h1.1v1.1h-1.1zM437.5,129.9h1.1v1.1h-1.1zM453.4,138.9h1.1v1.1h-1.1zM428.9,151.4h1.1v1.1h-1.1zM439.1,136.9h1.1v1.1h-1.1zM433.5,131.2h1.1v1.1h-1.1zM453.0,151.0h1.1v1.1h-1.1zM433.1,161.1h1.1v1.1h-1.1zM450.8,137.7h1.1v1.1h-1.1zM450.9,153.1h1.1v1.1h-1.1zM429.2,146.6h1.1v1.1h-1.1zM427.9,162.1h1.1v1.1h-1.1zM435.9,129.7h1.1v1.1h-1.1zM451.0,141.4h1.1v1.1h-1.1zM438.6,150.4h1.1v1.1h-1.1zM423.0,153.1h1.1v1.1h-1.1zM441.7,166.1h1.1v1.1h-1.1zM444.0,138.7h1.1v1.1h-1.1zM427.1,156.5h1.1v1.1h-1.1zM427.4,160.6h1.1v1.1h-1.1zM441.1,151.2h1.1v1.1h-1.1zM443.0,147.5h1.1v1.1h-1.1zM452.1,160.1h1.1v1.1h-1.1zM446.7,148.8h1.1v1.1h-1.1zM423.7,149.4h1.1v1.1h-1.1zM432.0,146.9h1.1v1.1h-1.1zM441.8,133.9h1.1v1.1h-1.1zM452.0,152.5h1.1v1.1h-1.1zM444.8,148.4h1.1v1.1h-1.1zM453.1,137.1h1.1v1.1h-1.1zM445.4,158.4h1.1v1.1h-1.1zM457.3,146.0h1.1v1.1h-1.1zM453.8,143.6h1.1v1.1h-1.1zM431.0,165.4h1.1v1.1h-1.1zM442.2,132.5h1.1v1.1h-1.1zM440.7,147.1h1.1v1.1h-1.1zM449.8,129.3h1.1v1.1h-1.1zM444.8,146.2h1.1v1.1h-1.1zM445.7,145.4h1.1v1.1h-1.1zM435.9,160.6h1.1v1.1h-1.1zM448.1,153.7h1.1v1.1h-1.1zM447.8,137.0h1.1v1.1h-1.1zM425.7,156.0h1.1v1.1h-1.1zM428.9,140.8h1.1v1.1h-1.1zM445.3,143.0h1.1v1.1h-1.1zM437.4,167.6h1.1v1.1h-1.1zM442.1,133.3h1.1v1.1h-1.1zM448.1,154.2h1.1v1.1h-1.1zM440.4,133.7h1.1v1.1h-1.1zM451.8,157.9h1.1v1.1h-1.1zM435.7,141.5h1.1v1.1h-1.1zM423.8,142.6h1.1v1.1h-1.1zM437.7,145.5h1.1v1.1h-1.1zM442.8,151.4h1.1v1.1h-1.1zM446.8,145.7h1.1v1.1h-1.1zM430.6,147.8h1.1v1.1h-1.1zM427.9,161.7h1.1v1.1h-1.1zM438.8,141.9h1.1v1.1h-1.1zM438.5,152.9h1.1v1.1h-1.1z" fill="#000" opacity="0.85"/>
<ellipse cx="437.8" cy="148.5" rx="1.5" ry="2.8" fill="#fff" opacity="0.9" transform="rotate(30 437.8 148.5)" filter="url(#bl1)"/>
<path d="M441.30,118.50C444.44,118.81 456.27,121.13 459.20,122.90C462.13,124.67 465.77,130.35 466.40,133.70C467.03,137.05 465.65,147.20 464.60,151.60C463.55,156.00 459.08,167.63 457.40,171.40C455.72,175.17 451.56,181.18 450.20,183.90C448.83,186.62 446.54,192.49 445.70,194.70C444.86,196.91 444.35,201.24 443.00,202.80C441.65,204.36 436.82,207.27 434.10,208.10C431.38,208.93 422.31,210.22 419.70,209.90C417.09,209.59 412.74,206.75 411.70,205.40C410.66,204.05 410.50,200.18 410.80,198.30C411.10,196.42 413.68,191.40 414.30,189.30C414.92,187.20 416.10,182.81 416.10,180.30C416.10,177.79 414.71,170.94 414.30,167.80C413.89,164.66 412.39,156.54 412.60,153.40C412.81,150.26 414.85,144.04 416.10,140.90C417.35,137.76 421.41,128.91 423.30,126.50C425.19,124.08 430.20,121.13 432.30,120.20C434.40,119.27 438.16,118.19 441.30,118.50Z" fill="none" stroke="#111" stroke-width="1.05"/>
<path d="M441.00,121.50C445.00,121.92 453.42,123.25 457.00,125.50C460.58,127.75 461.83,130.75 462.50,135.00C463.17,139.25 462.25,145.50 461.00,151.00C459.75,156.50 457.17,163.17 455.00,168.00C452.83,172.83 449.83,176.33 448.00,180.00C446.17,183.67 445.67,186.83 444.00,190.00C442.33,193.17 440.67,196.58 438.00,199.00C435.33,201.42 431.33,203.75 428.00,204.50C424.67,205.25 420.17,204.92 418.00,203.50C415.83,202.08 414.83,198.92 415.00,196.00C415.17,193.08 418.33,190.33 419.00,186.00C419.67,181.67 419.50,175.50 419.00,170.00C418.50,164.50 416.00,157.83 416.00,153.00C416.00,148.17 417.50,145.00 419.00,141.00C420.50,137.00 422.67,132.00 425.00,129.00C427.33,126.00 430.33,124.25 433.00,123.00C435.67,121.75 437.00,121.08 441.00,121.50Z" fill="none" stroke="#111" stroke-width="1.05" />
<path d="M418.80,199.20C419.10,197.70 420.60,195.15 422.40,193.80C424.20,192.45 428.10,190.65 429.60,191.10C431.10,191.55 431.85,194.55 431.40,196.50C430.95,198.45 428.70,201.75 426.90,202.80C425.10,203.85 421.95,203.40 420.60,202.80C419.25,202.20 418.50,200.70 418.80,199.20Z" fill="none" stroke="#111" stroke-width="1.05" />
<path d="M441.00,123.00C444.50,123.33 451.67,124.50 455.00,126.50C458.33,128.50 460.17,130.92 461.00,135.00C461.83,139.08 461.08,145.83 460.00,151.00C458.92,156.17 456.67,161.50 454.50,166.00C452.33,170.50 449.42,174.83 447.00,178.00C444.58,181.17 442.33,183.50 440.00,185.00C437.67,186.50 435.33,187.17 433.00,187.00C430.67,186.83 428.08,186.50 426.00,184.00C423.92,181.50 421.83,176.83 420.50,172.00C419.17,167.17 418.08,160.00 418.00,155.00C417.92,150.00 418.67,146.17 420.00,142.00C421.33,137.83 423.67,132.92 426.00,130.00C428.33,127.08 431.50,125.67 434.00,124.50C436.50,123.33 437.50,122.67 441.00,123.00Z" fill="none" stroke="#111" stroke-width="1.05" />
<path d="M459.97,148.00 L459.71,149.48 L459.41,150.94 L459.07,152.37 L458.68,153.79 L458.25,155.19 L457.78,156.58 L457.26,157.98 L456.70,159.37 L456.09,160.78 L455.43,162.21 L454.72,163.66 L453.94,165.15 L453.08,166.66 L452.13,168.20 L451.07,169.77 L449.91,171.39 L448.62,173.06 L447.21,174.79 L445.63,176.59 L443.86,178.40 L441.88,180.11 L439.67,181.57 L437.29,182.58 L434.82,183.02 L432.35,182.89 L429.95,182.31 L427.78,180.99 L426.01,178.91 L424.57,176.55 L423.40,174.15 L422.45,171.79 L421.68,169.53 L421.06,167.37 L420.55,165.34 L420.13,163.42 L419.77,161.61 L419.48,159.89 L419.24,158.24 L419.06,156.66 L418.92,155.13 L418.84,153.64 L418.81,152.18 L418.84,150.76 L418.92,149.37 L419.05,148.00 L419.24,146.65 L419.46,145.32 L419.73,144.01 L420.04,142.71 L420.39,141.41 L420.78,140.11 L421.23,138.82 L421.73,137.52 L422.30,136.23 L422.95,134.95 L423.67,133.68 L424.47,132.41 L425.35,131.17 L426.33,129.96 L427.43,128.82 L428.64,127.79 L429.97,126.88 L431.38,126.08 L432.85,125.35 L434.38,124.66 L435.97,123.95 L437.64,123.42 L439.36,123.25 L441.09,123.34 L442.81,123.55 L444.53,123.81 L446.26,124.13 L447.99,124.50 L449.74,124.95 L451.50,125.49 L453.23,126.16 L454.88,127.04 L456.39,128.14 L457.73,129.43 L458.84,130.93 L459.68,132.61 L460.26,134.40 L460.61,136.24 L460.76,138.09 L460.78,139.89 L460.71,141.63 L460.59,143.31 L460.41,144.92 L460.21,146.48Z" fill="none" stroke="#111" stroke-width="1.0" stroke-linejoin="round" />
<path d="M459.57,148.00 L459.31,149.46 L459.02,150.88 L458.68,152.29 L458.29,153.68 L457.86,155.05 L457.39,156.41 L456.87,157.77 L456.31,159.13 L455.70,160.50 L455.03,161.87 L454.31,163.27 L453.51,164.67 L452.63,166.08 L451.66,167.51 L450.59,168.94 L449.42,170.39 L448.15,171.88 L446.75,173.40 L445.22,174.95 L443.52,176.49 L441.65,177.93 L439.59,179.14 L437.38,179.97 L435.10,180.32 L432.83,180.18 L430.61,179.66 L428.59,178.51 L426.90,176.70 L425.51,174.63 L424.36,172.50 L423.40,170.39 L422.61,168.34 L421.96,166.37 L421.41,164.50 L420.95,162.73 L420.55,161.04 L420.22,159.42 L419.94,157.87 L419.72,156.36 L419.54,154.90 L419.41,153.47 L419.34,152.07 L419.32,150.70 L419.35,149.34 L419.43,148.00 L419.56,146.68 L419.73,145.36 L419.95,144.06 L420.21,142.75 L420.51,141.45 L420.86,140.14 L421.27,138.84 L421.74,137.53 L422.30,136.23 L422.96,134.96 L423.70,133.71 L424.52,132.47 L425.42,131.26 L426.42,130.09 L427.51,128.97 L428.72,127.95 L430.03,127.05 L431.43,126.25 L432.90,125.55 L434.42,124.87 L436.00,124.18 L437.65,123.66 L439.36,123.48 L441.07,123.56 L442.77,123.77 L444.47,124.04 L446.18,124.36 L447.90,124.74 L449.62,125.20 L451.35,125.75 L453.05,126.43 L454.66,127.32 L456.13,128.42 L457.44,129.71 L458.52,131.20 L459.34,132.86 L459.90,134.63 L460.24,136.44 L460.38,138.26 L460.39,140.03 L460.32,141.74 L460.19,143.39 L460.02,144.98 L459.81,146.51Z" fill="none" stroke="#111" stroke-width="1.0" stroke-linejoin="round" />
<path d="M459.12,148.00 L458.86,149.42 L458.57,150.82 L458.23,152.19 L457.85,153.55 L457.42,154.89 L456.95,156.21 L456.43,157.53 L455.87,158.85 L455.25,160.17 L454.58,161.49 L453.84,162.81 L453.02,164.13 L452.12,165.43 L451.13,166.72 L450.04,167.99 L448.87,169.26 L447.61,170.54 L446.24,171.82 L444.76,173.10 L443.14,174.33 L441.39,175.46 L439.49,176.39 L437.49,177.01 L435.43,177.25 L433.37,177.11 L431.36,176.65 L429.50,175.69 L427.92,174.20 L426.57,172.46 L425.44,170.63 L424.48,168.79 L423.67,166.99 L422.98,165.24 L422.39,163.56 L421.88,161.94 L421.44,160.39 L421.06,158.90 L420.74,157.44 L420.47,156.03 L420.24,154.65 L420.06,153.29 L419.94,151.95 L419.86,150.62 L419.83,149.31 L419.85,148.00 L419.92,146.70 L420.04,145.41 L420.19,144.11 L420.39,142.81 L420.64,141.50 L420.94,140.18 L421.31,138.86 L421.76,137.54 L422.31,136.24 L422.97,134.97 L423.73,133.74 L424.58,132.54 L425.51,131.37 L426.52,130.23 L427.61,129.14 L428.81,128.13 L430.11,127.23 L431.50,126.45 L432.96,125.76 L434.46,125.11 L436.02,124.44 L437.66,123.93 L439.35,123.74 L441.04,123.81 L442.73,124.03 L444.41,124.30 L446.09,124.63 L447.78,125.02 L449.48,125.48 L451.18,126.04 L452.84,126.74 L454.41,127.64 L455.84,128.74 L457.11,130.03 L458.16,131.51 L458.95,133.14 L459.50,134.88 L459.82,136.66 L459.95,138.45 L459.95,140.19 L459.88,141.87 L459.74,143.48 L459.57,145.04 L459.36,146.54Z" fill="none" stroke="#111" stroke-width="1.0" stroke-linejoin="round" />
<path d="M458.80,148.00 L458.54,149.40 L458.25,150.78 L457.91,152.13 L457.53,153.46 L457.10,154.77 L456.63,156.07 L456.12,157.37 L455.55,158.66 L454.94,159.94 L454.26,161.22 L453.51,162.50 L452.68,163.75 L451.76,164.97 L450.75,166.16 L449.66,167.32 L448.48,168.47 L447.23,169.60 L445.88,170.71 L444.43,171.79 L442.87,172.81 L441.20,173.72 L439.42,174.45 L437.56,174.92 L435.65,175.08 L433.75,174.94 L431.89,174.53 L430.15,173.70 L428.63,172.43 L427.32,170.92 L426.20,169.31 L425.24,167.66 L424.41,166.03 L423.70,164.44 L423.08,162.89 L422.54,161.39 L422.07,159.94 L421.65,158.53 L421.30,157.15 L421.00,155.79 L420.74,154.47 L420.52,153.15 L420.36,151.86 L420.24,150.57 L420.17,149.28 L420.15,148.00 L420.18,146.72 L420.25,145.44 L420.36,144.15 L420.52,142.85 L420.73,141.53 L421.00,140.21 L421.34,138.88 L421.77,137.55 L422.31,136.24 L422.98,134.98 L423.76,133.76 L424.62,132.59 L425.57,131.44 L426.59,130.34 L427.68,129.27 L428.87,128.26 L430.16,127.37 L431.54,126.59 L432.99,125.92 L434.49,125.29 L436.04,124.63 L437.67,124.12 L439.34,123.93 L441.02,123.99 L442.70,124.21 L444.36,124.48 L446.03,124.82 L447.71,125.21 L449.38,125.68 L451.06,126.25 L452.69,126.96 L454.23,127.87 L455.64,128.97 L456.88,130.25 L457.90,131.72 L458.68,133.34 L459.21,135.06 L459.52,136.82 L459.64,138.59 L459.64,140.30 L459.56,141.96 L459.43,143.55 L459.25,145.08 L459.04,146.56Z" fill="none" stroke="#111" stroke-width="1.0" stroke-linejoin="round" />
<path d="M458.43,148.00 L458.17,149.38 L457.88,150.72 L457.54,152.05 L457.16,153.35 L456.74,154.64 L456.27,155.91 L455.76,157.18 L455.19,158.43 L454.57,159.67 L453.88,160.91 L453.13,162.12 L452.28,163.30 L451.34,164.43 L450.31,165.51 L449.21,166.55 L448.03,167.54 L446.78,168.49 L445.46,169.41 L444.05,170.26 L442.56,171.03 L440.99,171.69 L439.34,172.19 L437.65,172.48 L435.92,172.55 L434.20,172.41 L432.50,172.05 L430.90,171.38 L429.46,170.37 L428.19,169.13 L427.09,167.76 L426.13,166.35 L425.28,164.92 L424.54,163.50 L423.89,162.11 L423.31,160.75 L422.80,159.41 L422.35,158.09 L421.95,156.80 L421.61,155.52 L421.31,154.25 L421.06,153.00 L420.85,151.75 L420.69,150.50 L420.57,149.25 L420.50,148.00 L420.48,146.74 L420.50,145.47 L420.56,144.19 L420.68,142.89 L420.84,141.57 L421.07,140.24 L421.38,138.90 L421.79,137.56 L422.32,136.24 L423.00,134.99 L423.79,133.79 L424.67,132.64 L425.63,131.53 L426.67,130.46 L427.77,129.41 L428.94,128.41 L430.23,127.52 L431.60,126.76 L433.04,126.10 L434.53,125.48 L436.07,124.85 L437.67,124.35 L439.33,124.14 L441.00,124.20 L442.66,124.42 L444.31,124.70 L445.96,125.04 L447.61,125.44 L449.27,125.92 L450.91,126.50 L452.52,127.21 L454.02,128.13 L455.40,129.23 L456.61,130.52 L457.60,131.97 L458.36,133.57 L458.88,135.27 L459.18,137.01 L459.29,138.74 L459.28,140.44 L459.19,142.07 L459.06,143.63 L458.88,145.14 L458.67,146.59Z" fill="none" stroke="#111" stroke-width="1.0" stroke-linejoin="round" />
<path d="M353.60,157.80C356.85,156.80 357.67,156.57 359.70,157.80C361.73,159.03 363.33,161.62 365.80,165.20C368.27,168.78 373.50,175.93 374.50,179.30C375.50,182.67 373.03,182.82 371.80,185.40C370.57,187.98 369.00,191.88 367.10,194.80C365.20,197.72 363.77,200.88 360.40,202.90C357.03,204.92 351.17,206.90 346.90,206.90C342.63,206.90 337.48,205.82 334.80,202.90C332.12,199.98 331.13,194.12 330.80,189.40C330.47,184.68 331.23,178.87 332.80,174.60C334.37,170.33 336.73,166.60 340.20,163.80C343.67,161.00 350.35,158.80 353.60,157.80Z" fill="none" stroke="#111" stroke-width="1.05" />
<path d="M363.10,183.70 L363.20,186.38 L363.04,189.01 L362.60,191.55 L361.89,193.95 L360.90,196.18 L359.65,198.20 L358.17,199.96 L356.47,201.45 L354.59,202.64 L352.57,203.50 L350.46,204.02 L348.30,204.20 L346.14,204.02 L344.03,203.50 L342.01,202.64 L340.13,201.45 L338.43,199.96 L336.95,198.20 L335.70,196.18 L334.71,193.95 L334.00,191.55 L333.56,189.01 L333.40,186.38 L333.50,183.70 L333.86,181.02 L334.45,178.39 L335.25,175.85 L336.25,173.45 L337.42,171.22 L338.72,169.20 L340.15,167.44 L341.67,165.95 L343.26,164.76 L344.91,163.90 L346.60,163.38 L348.30,163.20 L350.00,163.38 L351.69,163.90 L353.34,164.76 L354.93,165.95 L356.45,167.44 L357.88,169.20 L359.18,171.22 L360.35,173.45 L361.35,175.85 L362.15,178.39 L362.74,181.02Z" fill="none" stroke="#111" stroke-width="1.05" stroke-linejoin="round" />
<path d="M359.00,184.00 L359.08,186.21 L358.95,188.37 L358.61,190.47 L358.06,192.45 L357.29,194.29 L356.32,195.95 L355.17,197.41 L353.85,198.64 L352.39,199.61 L350.82,200.32 L349.18,200.76 L347.50,200.90 L345.82,200.76 L344.18,200.32 L342.61,199.61 L341.15,198.64 L339.83,197.41 L338.68,195.95 L337.71,194.29 L336.94,192.45 L336.39,190.47 L336.05,188.37 L335.92,186.21 L336.00,184.00 L336.28,181.79 L336.74,179.63 L337.36,177.53 L338.14,175.55 L339.04,173.71 L340.06,172.05 L341.17,170.59 L342.35,169.36 L343.59,168.39 L344.87,167.68 L346.18,167.24 L347.50,167.10 L348.82,167.24 L350.13,167.68 L351.41,168.39 L352.65,169.36 L353.83,170.59 L354.94,172.05 L355.96,173.71 L356.86,175.55 L357.64,177.53 L358.26,179.63 L358.72,181.79Z" fill="none" stroke="#111" stroke-width="1.05" stroke-linejoin="round" />
<path d="M355.40,184.90 L355.46,186.69 L355.36,188.45 L355.11,190.14 L354.69,191.75 L354.12,193.24 L353.40,194.59 L352.53,195.77 L351.55,196.76 L350.46,197.56 L349.28,198.13 L348.06,198.48 L346.80,198.60 L345.54,198.48 L344.32,198.13 L343.14,197.56 L342.05,196.76 L341.07,195.77 L340.20,194.59 L339.48,193.24 L338.91,191.75 L338.49,190.14 L338.24,188.45 L338.14,186.69 L338.20,184.90 L338.41,183.11 L338.75,181.35 L339.22,179.66 L339.80,178.05 L340.48,176.56 L341.23,175.21 L342.06,174.03 L342.95,173.04 L343.87,172.24 L344.83,171.67 L345.81,171.32 L346.80,171.20 L347.79,171.32 L348.77,171.67 L349.73,172.24 L350.65,173.04 L351.54,174.03 L352.37,175.21 L353.12,176.56 L353.80,178.05 L354.38,179.66 L354.85,181.35 L355.19,183.11Z" fill="none" stroke="#111" stroke-width="1.05" stroke-linejoin="round" />
<path d="M352.30,186.00 L352.34,187.41 L352.27,188.80 L352.09,190.13 L351.79,191.40 L351.38,192.57 L350.86,193.64 L350.23,194.57 L349.52,195.35 L348.74,195.98 L347.89,196.43 L347.01,196.71 L346.10,196.80 L345.19,196.71 L344.31,196.43 L343.46,195.98 L342.68,195.35 L341.97,194.57 L341.34,193.64 L340.82,192.57 L340.41,191.40 L340.11,190.13 L339.93,188.80 L339.86,187.41 L339.90,186.00 L340.05,184.59 L340.30,183.20 L340.63,181.87 L341.05,180.60 L341.54,179.43 L342.09,178.36 L342.69,177.43 L343.32,176.65 L343.99,176.02 L344.68,175.57 L345.39,175.29 L346.10,175.20 L346.81,175.29 L347.52,175.57 L348.21,176.02 L348.88,176.65 L349.51,177.43 L350.11,178.36 L350.66,179.43 L351.15,180.60 L351.57,181.87 L351.90,183.20 L352.15,184.59Z" fill="none" stroke="#111" stroke-width="1.05" stroke-linejoin="round" />
<path d="M348.90,188.30 L348.93,189.24 L348.88,190.16 L348.78,191.06 L348.60,191.90 L348.35,192.68 L348.04,193.39 L347.67,194.01 L347.24,194.54 L346.77,194.95 L346.27,195.25 L345.74,195.44 L345.20,195.50 L344.66,195.44 L344.13,195.25 L343.63,194.95 L343.16,194.54 L342.73,194.01 L342.36,193.39 L342.05,192.68 L341.80,191.90 L341.62,191.06 L341.52,190.16 L341.47,189.24 L341.50,188.30 L341.59,187.36 L341.74,186.44 L341.94,185.54 L342.19,184.70 L342.48,183.92 L342.81,183.21 L343.16,182.59 L343.54,182.06 L343.94,181.65 L344.35,181.35 L344.77,181.16 L345.20,181.10 L345.63,181.16 L346.05,181.35 L346.46,181.65 L346.86,182.06 L347.24,182.59 L347.59,183.21 L347.92,183.92 L348.21,184.70 L348.46,185.54 L348.66,186.44 L348.81,187.36Z" fill="none" stroke="#111" stroke-width="1.05" stroke-linejoin="round" />
<rect x="312" y="26.3" width="205" height="204.2" fill="none" stroke="#2b2b2b" stroke-width="1.4"/>
<line x1="373.00" y1="27.00" x2="373.00" y2="229.80" stroke="#8a8a8a" stroke-width="1.6" />
<line x1="312.70" y1="188.10" x2="516.30" y2="188.10" stroke="#6a6a6a" stroke-width="1.2" />
<path d="M322.46,231.2v2.6M331.04,231.2v2.6M337.12,231.2v2.6M341.84,231.2v3.6M345.70,231.2v2.6M348.96,231.2v2.6M351.78,231.2v2.6M354.27,231.2v2.6M356.50,231.2v5M370.98,231.2v2.6M379.45,231.2v2.6M385.46,231.2v2.6M390.12,231.2v3.6M393.93,231.2v2.6M397.15,231.2v2.6M399.94,231.2v2.6M402.40,231.2v2.6M404.60,231.2v5M418.96,231.2v2.6M427.36,231.2v2.6M433.32,231.2v2.6M437.94,231.2v3.6M441.72,231.2v2.6M444.91,231.2v2.6M447.68,231.2v2.6M450.12,231.2v2.6M452.30,231.2v5M465.97,231.2v2.6M473.96,231.2v2.6M479.63,231.2v2.6M484.03,231.2v3.6M487.63,231.2v2.6M490.67,231.2v2.6M493.30,231.2v2.6M495.62,231.2v2.6M497.70,231.2v5M511.37,231.2v2.6" stroke="#2b2b2b" stroke-width="1" fill="none"/>
<path d="M311.3,41.70h-5M311.3,75.25h-3M311.3,66.80h-3M311.3,60.80h-3M311.3,56.15h-3M311.3,52.35h-3M311.3,49.14h-3M311.3,46.35h-3M311.3,43.90h-3M311.3,89.70h-5M311.3,123.25h-3M311.3,114.80h-3M311.3,108.80h-3M311.3,104.15h-3M311.3,100.35h-3M311.3,97.14h-3M311.3,94.35h-3M311.3,91.90h-3M311.3,137.70h-5M311.3,171.25h-3M311.3,162.80h-3M311.3,156.80h-3M311.3,152.15h-3M311.3,148.35h-3M311.3,145.14h-3M311.3,142.35h-3M311.3,139.90h-3M311.3,188.00h-5M311.3,221.55h-3M311.3,213.10h-3M311.3,207.10h-3M311.3,202.45h-3M311.3,198.65h-3M311.3,195.44h-3M311.3,192.65h-3M311.3,190.20h-3" stroke="#2b2b2b" stroke-width="1" fill="none"/>
<text x="320.00" y="45.00" font-size="14" font-weight="bold" text-anchor="start" fill="#000" >6.77</text>
<text x="512.50" y="45.00" font-size="14" font-weight="bold" text-anchor="end" fill="#000" >85.8</text>
<text x="319.50" y="226.30" font-size="14" font-weight="bold" text-anchor="start" fill="#000" >4.58</text>
<text x="513.00" y="226.30" font-size="14" font-weight="bold" text-anchor="end" fill="#000" >2.89</text>
<text x="412.00" y="253.80" font-size="20" font-weight="bold" text-anchor="middle" fill="#000" >CD44</text>
<text x="304.00" y="131.50" font-size="20" font-weight="bold" text-anchor="middle" fill="#000" transform="rotate(-90 304 131.5)">CD123</text>
<text x="3.30" y="288.20" font-size="25.8" font-weight="bold" text-anchor="start" fill="#000" >C</text>
<text x="8.00" y="312.40" font-size="12.3" font-weight="normal" text-anchor="start" fill="#000" >Plate cells</text>
<defs>
<linearGradient id="tubeg" x1="0" y1="0" x2="1" y2="0">
<stop offset="0" stop-color="#666"/><stop offset="0.35" stop-color="#111"/><stop offset="0.75" stop-color="#222"/><stop offset="1" stop-color="#777"/>
</linearGradient>
<linearGradient id="tubev" x1="0" y1="0" x2="0" y2="1">
<stop offset="0" stop-color="#000" stop-opacity="0"/><stop offset="0.6" stop-color="#fff" stop-opacity="0.15"/><stop offset="1" stop-color="#fff" stop-opacity="0.45"/>
</linearGradient>
<pattern id="wells" x="17.43" y="328.33" width="4.33" height="4.33" patternUnits="userSpaceOnUse">
<rect width="4.33" height="4.33" fill="#707070"/><circle cx="2.165" cy="2.165" r="1.85" fill="#fff"/>
</pattern>
</defs>
<path d="M3,327.5 L12.5,327.5 L12.5,357 L10.5,363 L8,366.5 L5.2,363 L3,357 Z" fill="url(#tubeg)"/>
<path d="M3,327.5 L12.5,327.5 L12.5,357 L10.5,363 L8,366.5 L5.2,363 L3,357 Z" fill="url(#tubev)"/>
<path d="M3,327.5 L12.5,327.5 L12.5,333 L3,333 Z" fill="#111" filter="url(#bl1)"/>
<path d="M3.3,333h9M3.3,336h9M3.3,339h9M3.3,342h9M3.3,345h9M3.3,348h9M3.3,351h9M3.3,354h9M3.3,357h9M3.3,360h9" stroke="#aaa" stroke-width="0.5" opacity="0.6"/>
<rect x="16.6" y="327.6" width="54.2" height="36.8" fill="#b5b5b5" stroke="#888" stroke-width="0.8"/><rect x="17.43" y="328.33" width="51.96" height="34.64" fill="url(#wells)"/>
<path d="M5.8,326 C6.8,318.5 11,316.2 20,315.9 C35,315.4 52,315.6 60.6,320.6" fill="none" stroke="#000" stroke-width="1.3"/>
<path d="M5.0,326 C5.6,320 8.5,317 14,315.9 L14.5,317.4 C10,318.5 8,321.5 7.2,326 Z" fill="#000"/>
<path d="M15.9,316 Q21.9,316.4 22.7,320.6" fill="none" stroke="#000" stroke-width="1.2"/>
<path d="M26.0,316 Q32.0,316.4 32.8,320.6" fill="none" stroke="#000" stroke-width="1.2"/>
<path d="M40.1,316 Q46.1,316.4 46.9,320.6" fill="none" stroke="#000" stroke-width="1.2"/>
<path d="M23.47,324.22 L20.84,321.00 L24.56,320.20 Z" fill="#fff" stroke="#000" stroke-width="0.9"/>
<path d="M33.57,324.22 L30.94,321.00 L34.66,320.20 Z" fill="#fff" stroke="#000" stroke-width="0.9"/>
<path d="M47.67,324.22 L45.04,321.00 L48.76,320.20 Z" fill="#fff" stroke="#000" stroke-width="0.9"/>
<path d="M63.32,323.63 L59.64,321.69 L62.76,319.51 Z" fill="#fff" stroke="#000" stroke-width="0.9"/>
<path d="M80,340.8 L118.2,340.8" stroke="#000" stroke-width="1.6"/>
<path d="M116.7,337.90000000000003 L127.5,340.8 L116.7,343.7 Z" fill="#000"/>
<path d="M182,340.8 L205.8,340.8" stroke="#000" stroke-width="1.6"/>
<path d="M204.3,338.3 L212.5,340.8 L204.3,343.3 Z" fill="#000"/>
<path d="M259.5,340.8 L282.8,340.8" stroke="#000" stroke-width="1.6"/>
<path d="M281.3,338.3 L289.5,340.8 L281.3,343.3 Z" fill="#000"/>
<text x="104.00" y="315.20" font-size="12.3" font-weight="normal" text-anchor="middle" fill="#000" >Add</text>
<text x="104.00" y="329.00" font-size="12.3" font-weight="normal" text-anchor="middle" fill="#000" >drugs</text>
<text x="104.00" y="359.60" font-size="12.3" font-weight="normal" text-anchor="middle" fill="#000" >within 1hr</text>
<text x="157.30" y="338.00" font-size="12.3" font-weight="normal" text-anchor="middle" fill="#000" >Culture</text>
<text x="157.30" y="353.30" font-size="12.3" font-weight="normal" text-anchor="middle" fill="#000" >3 days</text>
<text x="237.50" y="331.00" font-size="12.3" font-weight="normal" text-anchor="middle" fill="#000" >Add</text>
<text x="237.50" y="345.60" font-size="12.3" font-weight="normal" text-anchor="middle" fill="#000" >Alamar</text>
<text x="237.50" y="360.40" font-size="12.3" font-weight="normal" text-anchor="middle" fill="#000" >Blue</text>
<text x="314.30" y="322.00" font-size="12.3" font-weight="normal" text-anchor="middle" fill="#000" >16-24hr later</text>
<text x="314.30" y="336.20" font-size="12.3" font-weight="normal" text-anchor="middle" fill="#000" >measure</text>
<text x="314.30" y="351.00" font-size="12.3" font-weight="normal" text-anchor="middle" fill="#000" >Alamar</text>
<text x="314.30" y="366.40" font-size="12.3" font-weight="normal" text-anchor="middle" fill="#000" >Blue</text>
<text x="354.90" y="288.10" font-size="25.8" font-weight="bold" text-anchor="start" fill="#000" >D</text>
<path d="M396.70,332.90L385.50,341.50M385.50,341.50L389.80,356.20M389.80,356.20L401.50,356.40M408.60,353.50L409.70,341.50M409.70,341.50L396.70,332.90M396.70,332.90L396.70,323.50M385.50,341.50L375.50,341.50M389.80,356.20L381.50,370.50M381.50,370.50L386.50,379.30M409.70,341.50L420.80,338.10M429.00,340.50L437.60,345.80M437.60,345.80L446.70,340.00M448.70,330.90L445.80,321.70M445.80,321.70L429.90,321.70M429.90,321.70L426.50,331.30M429.90,321.70L425.60,312.90M424.60,302.80L429.40,294.60M429.40,294.60L441.00,294.60M448.20,299.90L453.00,308.60M453.00,308.60L445.80,321.70M453.00,308.60L463.60,308.60M472.70,302.30L476.70,294.90M476.70,294.90L492.70,294.90M492.70,294.90L501.80,282.40M501.80,282.40L516.60,287.40M516.60,287.40L516.60,302.90M516.60,302.90L507.20,306.00M498.10,302.60L492.70,294.90M438.60,341.40L445.30,337.60M431.80,318.40L443.80,318.40M432.50,298.50L428.80,304.50M447.20,302.80L449.60,307.60M497.10,294.90L502.80,287.10M512.90,290.10L512.90,299.60" stroke="#000" stroke-width="1.35" fill="none" stroke-linecap="round"/>
<text x="401.60" y="321.90" font-size="12.0" font-weight="normal" text-anchor="middle" fill="#000" >OH</text>
<text x="365.80" y="341.90" font-size="12.0" font-weight="normal" text-anchor="middle" fill="#000" >HO</text>
<text x="391.60" y="388.70" font-size="12.0" font-weight="normal" text-anchor="middle" fill="#000" >OH</text>
<text x="405.30" y="360.90" font-size="12.0" font-weight="normal" text-anchor="middle" fill="#000" >O</text>
<text x="424.60" y="341.40" font-size="12.0" font-weight="normal" text-anchor="middle" fill="#000" >N</text>
<text x="450.30" y="341.40" font-size="12.0" font-weight="normal" text-anchor="middle" fill="#000" >N</text>
<text x="422.00" y="312.60" font-size="12.0" font-weight="normal" text-anchor="middle" fill="#000" >N</text>
<text x="445.30" y="299.40" font-size="12.0" font-weight="normal" text-anchor="middle" fill="#000" >N</text>
<text x="473.30" y="312.90" font-size="12.0" font-weight="normal" text-anchor="middle" fill="#000" >NH</text>
<text x="501.50" y="311.90" font-size="12.0" font-weight="normal" text-anchor="middle" fill="#000" >O</text>
<text x="476.60" y="363.30" font-size="12.3" font-weight="normal" text-anchor="middle" fill="#000" >Kinetin</text>
<text x="476.80" y="376.20" font-size="12.3" font-weight="normal" text-anchor="middle" fill="#000" >riboside</text>
<text x="4.60" y="418.10" font-size="25.8" font-weight="bold" text-anchor="start" fill="#000" >E</text>
<path d="M41.4,425.32V574.6" stroke="#000" stroke-width="2" fill="none"/>
<path d="M40.4,573.6H189.6" stroke="#000" stroke-width="2" fill="none"/>
<text x="35.20" y="566.72" font-size="12" font-weight="bold" text-anchor="end" fill="#000" >0.0</text>
<text x="35.20" y="544.04" font-size="12" font-weight="bold" text-anchor="end" fill="#000" >0.2</text>
<text x="35.20" y="521.36" font-size="12" font-weight="bold" text-anchor="end" fill="#000" >0.4</text>
<text x="35.20" y="498.68" font-size="12" font-weight="bold" text-anchor="end" fill="#000" >0.6</text>
<text x="35.20" y="476.00" font-size="12" font-weight="bold" text-anchor="end" fill="#000" >0.8</text>
<text x="35.20" y="453.32" font-size="12" font-weight="bold" text-anchor="end" fill="#000" >1.0</text>
<text x="35.20" y="430.64" font-size="12" font-weight="bold" text-anchor="end" fill="#000" >1.2</text>
<path d="M36.199999999999996,562.40H41.4M36.199999999999996,539.72H41.4M36.199999999999996,517.04H41.4M36.199999999999996,494.36H41.4M36.199999999999996,471.68H41.4M36.199999999999996,449.00H41.4M36.199999999999996,426.32H41.4M41.40,573.6V578.8000000000001M56.19,573.6V577.2M64.84,573.6V577.2M70.98,573.6V577.2M75.74,573.6V577.2M79.63,573.6V577.2M82.92,573.6V577.2M85.77,573.6V577.2M88.28,573.6V577.2M90.53,573.6V578.8000000000001M105.32,573.6V577.2M113.97,573.6V577.2M120.11,573.6V577.2M124.87,573.6V577.2M128.76,573.6V577.2M132.05,573.6V577.2M134.90,573.6V577.2M137.41,573.6V577.2M139.66,573.6V578.8000000000001M154.45,573.6V577.2M163.10,573.6V577.2M169.24,573.6V577.2M174.00,573.6V577.2M177.89,573.6V577.2M181.18,573.6V577.2M184.03,573.6V577.2M186.54,573.6V577.2M188.79,573.6V578.8000000000001" stroke="#000" stroke-width="1.9" fill="none"/>
<text x="41.40" y="591.00" font-size="12" font-weight="bold" text-anchor="middle" fill="#000" >0.01</text>
<text x="90.53" y="591.00" font-size="12" font-weight="bold" text-anchor="middle" fill="#000" >0.1</text>
<text x="139.66" y="591.00" font-size="12" font-weight="bold" text-anchor="middle" fill="#000" >1</text>
<text x="188.79" y="591.00" font-size="12" font-weight="bold" text-anchor="middle" fill="#000" >10</text>
<path d="M42.4,562.40H189.6" stroke="#444" stroke-width="0.9" stroke-dasharray="1.2,1.6" fill="none"/>
<text x="115.50" y="607.30" font-size="11.5" font-weight="bold" text-anchor="middle" fill="#000" >Concentration (<tspan font-weight="normal">μ</tspan>M)</text>
<text x="13.40" y="497.50" font-size="12" font-weight="bold" text-anchor="middle" fill="#000" transform="rotate(-90 13.4 497.5)">Normalized activity</text>
<path d="M55.65,552.76 L56.48,552.76 L57.31,552.76 L58.15,552.76 L58.98,552.76 L59.81,552.76 L60.64,552.76 L61.47,552.76 L62.31,552.76 L63.14,552.76 L63.97,552.76 L64.80,552.76 L65.63,552.76 L66.47,552.76 L67.30,552.76 L68.13,552.76 L68.96,552.76 L69.80,552.76 L70.63,552.76 L71.46,552.76 L72.29,552.76 L73.12,552.76 L73.96,552.76 L74.79,552.76 L75.62,552.76 L76.45,552.76 L77.28,552.76 L78.12,552.76 L78.95,552.76 L79.78,552.76 L80.61,552.76 L81.45,552.76 L82.28,552.76 L83.11,552.76 L83.94,552.76 L84.77,552.76 L85.61,552.76 L86.44,552.76 L87.27,552.76 L88.10,552.76 L88.93,552.76 L89.77,552.76 L90.60,552.76 L91.43,552.76 L92.26,552.76 L93.10,552.76 L93.93,552.76 L94.76,552.76 L95.59,552.76 L96.42,552.76 L97.26,552.76 L98.09,552.76 L98.92,552.76 L99.75,552.76 L100.58,552.76 L101.42,552.76 L102.25,552.76 L103.08,552.76 L103.91,552.76 L104.74,552.76 L105.58,552.76 L106.41,552.76 L107.24,552.76 L108.07,552.76 L108.91,552.76 L109.74,552.76 L110.57,552.76 L111.40,552.76 L112.23,552.76 L113.07,552.76 L113.90,552.76 L114.73,552.76 L115.56,552.76 L116.39,552.76 L117.23,552.76 L118.06,552.76 L118.89,552.76 L119.72,552.76 L120.56,552.76 L121.39,552.76 L122.22,552.76 L123.05,552.76 L123.88,552.76 L124.72,552.76 L125.55,552.76 L126.38,552.76 L127.21,552.76 L128.04,552.76 L128.88,552.76 L129.71,552.76 L130.54,552.76 L131.37,552.76 L132.21,552.76 L133.04,552.76 L133.87,552.76 L134.70,552.76 L135.53,552.76 L136.37,552.76 L137.20,552.76 L138.03,552.76 L138.86,552.76 L139.69,552.76 L140.53,552.76 L141.36,552.76 L142.19,552.76 L143.02,552.76 L143.86,552.76 L144.69,552.76 L145.52,552.76 L146.35,552.76 L147.18,552.76 L148.02,552.76 L148.85,552.76 L149.68,552.76 L150.51,552.76 L151.34,552.76 L152.18,552.76 L153.01,552.76 L153.84,552.76 L154.67,552.76 L155.50,552.76 L156.34,552.76 L157.17,552.76 L158.00,552.76 L158.83,552.76 L159.67,552.76 L160.50,552.76 L161.33,552.76 L162.16,552.76 L162.99,552.76 L163.83,552.76 L164.66,552.76 L165.49,552.76 L166.32,552.76 L167.15,552.76 L167.99,552.76 L168.82,552.76 L169.65,552.76 L170.48,552.76 L171.32,552.76 L172.15,552.76 L172.98,552.76 L173.81,552.76 L174.64,552.76 L175.48,552.76 L176.31,552.76 L177.14,552.76 L177.97,552.76 L178.80,552.76 L179.64,552.76 L180.47,552.76 L181.30,552.76 L182.13,552.76 L182.97,552.76 L183.80,552.76 L184.63,552.76 L185.46,552.76 L186.29,552.76 L187.13,552.76 L187.96,552.76 L188.79,552.76" stroke="#000" stroke-width="2.0" fill="none"/>
<path d="M55.65,553.89 L56.48,553.89 L57.31,553.89 L58.15,553.89 L58.98,553.89 L59.81,553.89 L60.64,553.89 L61.47,553.89 L62.31,553.89 L63.14,553.89 L63.97,553.89 L64.80,553.89 L65.63,553.89 L66.47,553.89 L67.30,553.89 L68.13,553.89 L68.96,553.89 L69.80,553.89 L70.63,553.89 L71.46,553.89 L72.29,553.89 L73.12,553.89 L73.96,553.89 L74.79,553.89 L75.62,553.89 L76.45,553.89 L77.28,553.89 L78.12,553.89 L78.95,553.89 L79.78,553.89 L80.61,553.89 L81.45,553.89 L82.28,553.89 L83.11,553.89 L83.94,553.89 L84.77,553.89 L85.61,553.89 L86.44,553.89 L87.27,553.89 L88.10,553.89 L88.93,553.89 L89.77,553.89 L90.60,553.89 L91.43,553.89 L92.26,553.89 L93.10,553.89 L93.93,553.89 L94.76,553.89 L95.59,553.89 L96.42,553.89 L97.26,553.89 L98.09,553.89 L98.92,553.89 L99.75,553.89 L100.58,553.89 L101.42,553.89 L102.25,553.89 L103.08,553.89 L103.91,553.89 L104.74,553.89 L105.58,553.89 L106.41,553.89 L107.24,553.89 L108.07,553.89 L108.91,553.89 L109.74,553.89 L110.57,553.89 L111.40,553.89 L112.23,553.89 L113.07,553.89 L113.90,553.89 L114.73,553.89 L115.56,553.89 L116.39,553.89 L117.23,553.89 L118.06,553.89 L118.89,553.89 L119.72,553.89 L120.56,553.89 L121.39,553.89 L122.22,553.89 L123.05,553.89 L123.88,553.89 L124.72,553.89 L125.55,553.89 L126.38,553.89 L127.21,553.89 L128.04,553.89 L128.88,553.89 L129.71,553.89 L130.54,553.89 L131.37,553.89 L132.21,553.89 L133.04,553.89 L133.87,553.89 L134.70,553.89 L135.53,553.89 L136.37,553.89 L137.20,553.89 L138.03,553.89 L138.86,553.89 L139.69,553.89 L140.53,553.89 L141.36,553.89 L142.19,553.89 L143.02,553.89 L143.86,553.89 L144.69,553.89 L145.52,553.89 L146.35,553.89 L147.18,553.89 L148.02,553.89 L148.85,553.89 L149.68,553.89 L150.51,553.89 L151.34,553.89 L152.18,553.89 L153.01,553.89 L153.84,553.89 L154.67,553.89 L155.50,553.89 L156.34,553.89 L157.17,553.89 L158.00,553.89 L158.83,553.89 L159.67,553.89 L160.50,553.89 L161.33,553.89 L162.16,553.89 L162.99,553.89 L163.83,553.89 L164.66,553.89 L165.49,553.89 L166.32,553.89 L167.15,553.89 L167.99,553.89 L168.82,553.89 L169.65,553.89 L170.48,553.89 L171.32,553.89 L172.15,553.89 L172.98,553.89 L173.81,553.89 L174.64,553.89 L175.48,553.89 L176.31,553.89 L177.14,553.89 L177.97,553.89 L178.80,553.89 L179.64,553.89 L180.47,553.89 L181.30,553.89 L182.13,553.89 L182.97,553.89 L183.80,553.89 L184.63,553.89 L185.46,553.89 L186.29,553.89 L187.13,553.89 L187.96,553.89 L188.79,553.89" stroke="#000" stroke-width="2.0" fill="none"/>
<path d="M55.65,559.91 L56.48,559.91 L57.31,559.91 L58.15,559.91 L58.98,559.91 L59.81,559.91 L60.64,559.91 L61.47,559.91 L62.31,559.91 L63.14,559.91 L63.97,559.91 L64.80,559.91 L65.63,559.91 L66.47,559.91 L67.30,559.91 L68.13,559.91 L68.96,559.91 L69.80,559.91 L70.63,559.91 L71.46,559.91 L72.29,559.91 L73.12,559.91 L73.96,559.91 L74.79,559.91 L75.62,559.91 L76.45,559.91 L77.28,559.91 L78.12,559.91 L78.95,559.91 L79.78,559.91 L80.61,559.91 L81.45,559.91 L82.28,559.91 L83.11,559.91 L83.94,559.91 L84.77,559.91 L85.61,559.91 L86.44,559.91 L87.27,559.91 L88.10,559.91 L88.93,559.91 L89.77,559.91 L90.60,559.91 L91.43,559.91 L92.26,559.91 L93.10,559.91 L93.93,559.91 L94.76,559.91 L95.59,559.91 L96.42,559.91 L97.26,559.91 L98.09,559.91 L98.92,559.91 L99.75,559.91 L100.58,559.91 L101.42,559.91 L102.25,559.91 L103.08,559.91 L103.91,559.91 L104.74,559.91 L105.58,559.91 L106.41,559.91 L107.24,559.91 L108.07,559.91 L108.91,559.91 L109.74,559.91 L110.57,559.91 L111.40,559.91 L112.23,559.91 L113.07,559.91 L113.90,559.91 L114.73,559.91 L115.56,559.91 L116.39,559.91 L117.23,559.91 L118.06,559.91 L118.89,559.91 L119.72,559.91 L120.56,559.91 L121.39,559.91 L122.22,559.91 L123.05,559.91 L123.88,559.91 L124.72,559.91 L125.55,559.91 L126.38,559.91 L127.21,559.91 L128.04,559.91 L128.88,559.91 L129.71,559.91 L130.54,559.91 L131.37,559.91 L132.21,559.91 L133.04,559.91 L133.87,559.91 L134.70,559.91 L135.53,559.91 L136.37,559.91 L137.20,559.91 L138.03,559.91 L138.86,559.91 L139.69,559.91 L140.53,559.91 L141.36,559.91 L142.19,559.91 L143.02,559.91 L143.86,559.91 L144.69,559.91 L145.52,559.91 L146.35,559.91 L147.18,559.91 L148.02,559.91 L148.85,559.91 L149.68,559.91 L150.51,559.91 L151.34,559.91 L152.18,559.91 L153.01,559.91 L153.84,559.91 L154.67,559.91 L155.50,559.91 L156.34,559.91 L157.17,559.91 L158.00,559.91 L158.83,559.91 L159.67,559.91 L160.50,559.91 L161.33,559.91 L162.16,559.91 L162.99,559.91 L163.83,559.91 L164.66,559.91 L165.49,559.91 L166.32,559.91 L167.15,559.91 L167.99,559.91 L168.82,559.91 L169.65,559.91 L170.48,559.91 L171.32,559.91 L172.15,559.91 L172.98,559.91 L173.81,559.91 L174.64,559.91 L175.48,559.91 L176.31,559.91 L177.14,559.91 L177.97,559.91 L178.80,559.91 L179.64,559.91 L180.47,559.91 L181.30,559.91 L182.13,559.91 L182.97,559.91 L183.80,559.91 L184.63,559.91 L185.46,559.91 L186.29,559.91 L187.13,559.91 L187.96,559.91 L188.79,559.91" stroke="#000" stroke-width="2.0" fill="none"/>
<path d="M55.65,445.60 L55.98,445.60 L56.32,445.60 L56.65,445.60 L56.98,445.60 L57.31,445.60 L57.65,445.60 L57.98,445.60 L58.31,445.60 L58.65,445.60 L58.98,445.60 L59.31,445.60 L59.64,445.60 L59.98,445.60 L60.31,445.60 L60.64,445.60 L60.98,445.60 L61.31,445.60 L61.64,445.60 L61.97,445.60 L62.31,445.60 L62.64,445.60 L62.97,445.60 L63.30,445.60 L63.64,445.60 L63.97,445.60 L64.30,445.60 L64.64,445.60 L64.97,445.60 L65.30,445.60 L65.63,445.60 L65.97,445.60 L66.30,445.60 L66.63,445.61 L66.97,445.61 L67.30,445.61 L67.63,445.61 L67.96,445.61 L68.30,445.61 L68.63,445.61 L68.96,445.61 L69.30,445.62 L69.63,445.62 L69.96,445.62 L70.29,445.62 L70.63,445.63 L70.96,445.63 L71.29,445.63 L71.63,445.64 L71.96,445.64 L72.29,445.65 L72.62,445.66 L72.96,445.66 L73.29,445.67 L73.62,445.68 L73.96,445.69 L74.29,445.70 L74.62,445.71 L74.95,445.72 L75.29,445.74 L75.62,445.76 L75.95,445.77 L76.29,445.80 L76.62,445.82 L76.95,445.85 L77.28,445.87 L77.62,445.91 L77.95,445.94 L78.28,445.99 L78.62,446.03 L78.95,446.08 L79.28,446.14 L79.61,446.20 L79.95,446.28 L80.28,446.36 L80.61,446.44 L80.95,446.54 L81.28,446.66 L81.61,446.78 L81.94,446.92 L82.28,447.07 L82.61,447.25 L82.94,447.44 L83.28,447.65 L83.61,447.89 L83.94,448.16 L84.27,448.46 L84.61,448.79 L84.94,449.15 L85.27,449.56 L85.61,450.01 L85.94,450.51 L86.27,451.07 L86.60,451.68 L86.94,452.36 L87.27,453.11 L87.60,453.93 L87.94,454.84 L88.27,455.84 L88.60,456.93 L88.93,458.12 L89.27,459.42 L89.60,460.83 L89.93,462.36 L90.27,464.02 L90.60,465.80 L90.93,467.71 L91.26,469.76 L91.60,471.94 L91.93,474.24 L92.26,476.68 L92.60,479.23 L92.93,481.90 L93.26,484.66 L93.59,487.52 L93.93,490.45 L94.26,493.44 L94.59,496.47 L94.93,499.52 L95.26,502.57 L95.59,505.61 L95.92,508.62 L96.26,511.57 L96.59,514.45 L96.92,517.25 L97.26,519.95 L97.59,522.54 L97.92,525.01 L98.25,527.36 L98.59,529.58 L98.92,531.67 L99.25,533.63 L99.59,535.46 L99.92,537.16 L100.25,538.73 L100.58,540.18 L100.92,541.52 L101.25,542.75 L101.58,543.87 L101.92,544.90 L102.25,545.83 L102.58,546.68 L102.91,547.46 L103.25,548.16 L103.58,548.79 L103.91,549.37 L104.25,549.88 L104.58,550.35 L104.91,550.77 L105.24,551.15 L105.58,551.50 L105.91,551.80 L106.24,552.08 L106.58,552.33 L106.91,552.55 L107.24,552.75 L107.57,552.93 L107.91,553.09 L108.24,553.23 L108.57,553.36 L108.91,553.48 L109.24,553.58 L109.57,553.68 L109.90,553.76 L110.24,553.83 L110.57,553.90 L110.90,553.96 L111.24,554.01 L111.57,554.06 L111.90,554.10 L112.23,554.14 L112.57,554.17 L112.90,554.20 L113.23,554.23 L113.57,554.26 L113.90,554.28 L114.23,554.30 L114.56,554.32 L114.90,554.33 L115.23,554.34 L115.56,554.36 L115.90,554.37 L116.23,554.38 L116.56,554.39 L116.89,554.40 L117.23,554.40 L117.56,554.41 L117.89,554.41 L118.23,554.42 L118.56,554.42 L118.89,554.43 L119.22,554.43 L119.56,554.43 L119.89,554.44 L120.22,554.44 L120.56,554.44 L120.89,554.44 L121.22,554.45 L121.55,554.45 L121.89,554.45 L122.22,554.45 L122.55,554.45 L122.89,554.45 L123.22,554.45 L123.55,554.45 L123.88,554.46 L124.22,554.46 L124.55,554.46 L124.88,554.46 L125.22,554.46 L125.55,554.46 L125.88,554.46 L126.21,554.46 L126.55,554.46 L126.88,554.46 L127.21,554.46 L127.55,554.46 L127.88,554.46 L128.21,554.46 L128.54,554.46 L128.88,554.46 L129.21,554.46 L129.54,554.46 L129.88,554.46 L130.21,554.46 L130.54,554.46 L130.87,554.46 L131.21,554.46 L131.54,554.46 L131.87,554.46 L132.21,554.46 L132.54,554.46 L132.87,554.46 L133.20,554.46 L133.54,554.46 L133.87,554.46 L134.20,554.46 L134.54,554.46 L134.87,554.46 L135.20,554.46 L135.53,554.46 L135.87,554.46 L136.20,554.46 L136.53,554.46 L136.87,554.46 L137.20,554.46 L137.53,554.46 L137.86,554.46 L138.20,554.46 L138.53,554.46 L138.86,554.46 L139.20,554.46 L139.53,554.46 L139.86,554.46 L140.19,554.46 L140.53,554.46 L140.86,554.46 L141.19,554.46 L141.53,554.46 L141.86,554.46 L142.19,554.46 L142.52,554.46 L142.86,554.46 L143.19,554.46 L143.52,554.46 L143.86,554.46 L144.19,554.46 L144.52,554.46 L144.85,554.46 L145.19,554.46 L145.52,554.46 L145.85,554.46 L146.19,554.46 L146.52,554.46 L146.85,554.46 L147.18,554.46 L147.52,554.46 L147.85,554.46 L148.18,554.46 L148.51,554.46 L148.85,554.46 L149.18,554.46 L149.51,554.46 L149.85,554.46 L150.18,554.46 L150.51,554.46 L150.84,554.46 L151.18,554.46 L151.51,554.46 L151.84,554.46 L152.18,554.46 L152.51,554.46 L152.84,554.46 L153.17,554.46 L153.51,554.46 L153.84,554.46 L154.17,554.46 L154.51,554.46 L154.84,554.46 L155.17,554.46 L155.50,554.46 L155.84,554.46 L156.17,554.46 L156.50,554.46 L156.84,554.46 L157.17,554.46 L157.50,554.46 L157.83,554.46 L158.17,554.46 L158.50,554.46 L158.83,554.46 L159.17,554.46 L159.50,554.46 L159.83,554.46 L160.16,554.46 L160.50,554.46 L160.83,554.46 L161.16,554.46 L161.50,554.46 L161.83,554.46 L162.16,554.46 L162.49,554.46 L162.83,554.46 L163.16,554.46 L163.49,554.46 L163.83,554.46 L164.16,554.46 L164.49,554.46 L164.82,554.46 L165.16,554.46 L165.49,554.46 L165.82,554.46 L166.16,554.46 L166.49,554.46 L166.82,554.46 L167.15,554.46 L167.49,554.46 L167.82,554.46 L168.15,554.46 L168.49,554.46 L168.82,554.46 L169.15,554.46 L169.48,554.46 L169.82,554.46 L170.15,554.46 L170.48,554.46 L170.82,554.46 L171.15,554.46 L171.48,554.46 L171.81,554.46 L172.15,554.46 L172.48,554.46 L172.81,554.46 L173.15,554.46 L173.48,554.46 L173.81,554.46 L174.14,554.46 L174.48,554.46 L174.81,554.46 L175.14,554.46 L175.48,554.46 L175.81,554.46 L176.14,554.46 L176.47,554.46 L176.81,554.46 L177.14,554.46 L177.47,554.46 L177.81,554.46 L178.14,554.46 L178.47,554.46 L178.80,554.46 L179.14,554.46 L179.47,554.46 L179.80,554.46 L180.14,554.46 L180.47,554.46 L180.80,554.46 L181.13,554.46 L181.47,554.46 L181.80,554.46 L182.13,554.46 L182.47,554.46 L182.80,554.46 L183.13,554.46 L183.46,554.46 L183.80,554.46 L184.13,554.46 L184.46,554.46 L184.80,554.46 L185.13,554.46 L185.46,554.46 L185.79,554.46 L186.13,554.46 L186.46,554.46 L186.79,554.46 L187.13,554.46 L187.46,554.46 L187.79,554.46 L188.12,554.46 L188.46,554.46 L188.79,554.46" stroke="#000" stroke-width="2.0" fill="none"/>
<path d="M55.65,445.60 L55.98,445.60 L56.32,445.60 L56.65,445.60 L56.98,445.60 L57.31,445.60 L57.65,445.60 L57.98,445.60 L58.31,445.60 L58.65,445.60 L58.98,445.60 L59.31,445.60 L59.64,445.60 L59.98,445.60 L60.31,445.60 L60.64,445.60 L60.98,445.60 L61.31,445.60 L61.64,445.60 L61.97,445.60 L62.31,445.60 L62.64,445.60 L62.97,445.60 L63.30,445.60 L63.64,445.60 L63.97,445.60 L64.30,445.60 L64.64,445.60 L64.97,445.60 L65.30,445.60 L65.63,445.60 L65.97,445.60 L66.30,445.60 L66.63,445.60 L66.97,445.60 L67.30,445.60 L67.63,445.60 L67.96,445.60 L68.30,445.60 L68.63,445.60 L68.96,445.60 L69.30,445.60 L69.63,445.60 L69.96,445.60 L70.29,445.60 L70.63,445.60 L70.96,445.60 L71.29,445.60 L71.63,445.60 L71.96,445.60 L72.29,445.60 L72.62,445.60 L72.96,445.60 L73.29,445.60 L73.62,445.60 L73.96,445.60 L74.29,445.60 L74.62,445.60 L74.95,445.60 L75.29,445.60 L75.62,445.60 L75.95,445.60 L76.29,445.60 L76.62,445.60 L76.95,445.60 L77.28,445.60 L77.62,445.60 L77.95,445.60 L78.28,445.60 L78.62,445.60 L78.95,445.60 L79.28,445.60 L79.61,445.60 L79.95,445.60 L80.28,445.60 L80.61,445.60 L80.95,445.60 L81.28,445.60 L81.61,445.60 L81.94,445.60 L82.28,445.60 L82.61,445.60 L82.94,445.60 L83.28,445.60 L83.61,445.60 L83.94,445.60 L84.27,445.60 L84.61,445.60 L84.94,445.60 L85.27,445.60 L85.61,445.60 L85.94,445.60 L86.27,445.60 L86.60,445.60 L86.94,445.60 L87.27,445.60 L87.60,445.60 L87.94,445.60 L88.27,445.60 L88.60,445.60 L88.93,445.60 L89.27,445.60 L89.60,445.60 L89.93,445.60 L90.27,445.60 L90.60,445.60 L90.93,445.60 L91.26,445.60 L91.60,445.60 L91.93,445.60 L92.26,445.60 L92.60,445.60 L92.93,445.60 L93.26,445.60 L93.59,445.60 L93.93,445.60 L94.26,445.60 L94.59,445.60 L94.93,445.60 L95.26,445.60 L95.59,445.60 L95.92,445.60 L96.26,445.60 L96.59,445.60 L96.92,445.60 L97.26,445.60 L97.59,445.60 L97.92,445.60 L98.25,445.60 L98.59,445.60 L98.92,445.60 L99.25,445.60 L99.59,445.60 L99.92,445.60 L100.25,445.60 L100.58,445.60 L100.92,445.60 L101.25,445.60 L101.58,445.60 L101.92,445.60 L102.25,445.60 L102.58,445.60 L102.91,445.60 L103.25,445.60 L103.58,445.60 L103.91,445.60 L104.25,445.60 L104.58,445.60 L104.91,445.60 L105.24,445.60 L105.58,445.60 L105.91,445.60 L106.24,445.60 L106.58,445.60 L106.91,445.60 L107.24,445.60 L107.57,445.60 L107.91,445.60 L108.24,445.60 L108.57,445.60 L108.91,445.60 L109.24,445.60 L109.57,445.60 L109.90,445.60 L110.24,445.60 L110.57,445.60 L110.90,445.60 L111.24,445.60 L111.57,445.60 L111.90,445.60 L112.23,445.60 L112.57,445.60 L112.90,445.60 L113.23,445.60 L113.57,445.60 L113.90,445.60 L114.23,445.60 L114.56,445.60 L114.90,445.60 L115.23,445.60 L115.56,445.60 L115.90,445.60 L116.23,445.60 L116.56,445.60 L116.89,445.60 L117.23,445.60 L117.56,445.60 L117.89,445.60 L118.23,445.60 L118.56,445.60 L118.89,445.60 L119.22,445.60 L119.56,445.60 L119.89,445.60 L120.22,445.60 L120.56,445.60 L120.89,445.60 L121.22,445.60 L121.55,445.60 L121.89,445.60 L122.22,445.60 L122.55,445.60 L122.89,445.60 L123.22,445.60 L123.55,445.60 L123.88,445.60 L124.22,445.60 L124.55,445.60 L124.88,445.60 L125.22,445.60 L125.55,445.60 L125.88,445.60 L126.21,445.60 L126.55,445.60 L126.88,445.60 L127.21,445.60 L127.55,445.60 L127.88,445.60 L128.21,445.60 L128.54,445.60 L128.88,445.60 L129.21,445.60 L129.54,445.60 L129.88,445.60 L130.21,445.60 L130.54,445.60 L130.87,445.60 L131.21,445.60 L131.54,445.60 L131.87,445.60 L132.21,445.60 L132.54,445.60 L132.87,445.60 L133.20,445.60 L133.54,445.60 L133.87,445.60 L134.20,445.60 L134.54,445.60 L134.87,445.60 L135.20,445.60 L135.53,445.60 L135.87,445.60 L136.20,445.60 L136.53,445.60 L136.87,445.60 L137.20,445.60 L137.53,445.60 L137.86,445.60 L138.20,445.60 L138.53,445.60 L138.86,445.60 L139.20,445.60 L139.53,445.60 L139.86,445.60 L140.19,445.60 L140.53,445.60 L140.86,445.60 L141.19,445.60 L141.53,445.60 L141.86,445.60 L142.19,445.60 L142.52,445.60 L142.86,445.60 L143.19,445.60 L143.52,445.60 L143.86,445.60 L144.19,445.60 L144.52,445.60 L144.85,445.60 L145.19,445.60 L145.52,445.60 L145.85,445.60 L146.19,445.60 L146.52,445.60 L146.85,445.60 L147.18,445.60 L147.52,445.60 L147.85,445.60 L148.18,445.60 L148.51,445.60 L148.85,445.60 L149.18,445.60 L149.51,445.60 L149.85,445.60 L150.18,445.60 L150.51,445.60 L150.84,445.60 L151.18,445.60 L151.51,445.60 L151.84,445.60 L152.18,445.60 L152.51,445.60 L152.84,445.60 L153.17,445.60 L153.51,445.60 L153.84,445.60 L154.17,445.60 L154.51,445.60 L154.84,445.60 L155.17,445.60 L155.50,445.60 L155.84,445.60 L156.17,445.60 L156.50,445.60 L156.84,445.60 L157.17,445.60 L157.50,445.60 L157.83,445.60 L158.17,445.60 L158.50,445.60 L158.83,445.60 L159.17,445.60 L159.50,445.60 L159.83,445.60 L160.16,445.60 L160.50,445.60 L160.83,445.60 L161.16,445.60 L161.50,445.60 L161.83,445.60 L162.16,445.60 L162.49,445.60 L162.83,445.60 L163.16,445.60 L163.49,445.60 L163.83,445.60 L164.16,445.60 L164.49,445.60 L164.82,445.60 L165.16,445.60 L165.49,445.60 L165.82,445.60 L166.16,445.60 L166.49,445.60 L166.82,445.60 L167.15,445.60 L167.49,445.60 L167.82,445.60 L168.15,445.60 L168.49,445.60 L168.82,445.60 L169.15,445.60 L169.48,445.60 L169.82,445.60 L170.15,445.60 L170.48,445.60 L170.82,445.60 L171.15,445.60 L171.48,445.60 L171.81,445.60 L172.15,445.60 L172.48,445.60 L172.81,445.60 L173.15,445.60 L173.48,445.60 L173.81,445.60 L174.14,445.60 L174.48,445.60 L174.81,445.60 L175.14,445.60 L175.48,445.60 L175.81,445.60 L176.14,445.60 L176.47,445.60 L176.81,445.60 L177.14,445.60 L177.47,445.60 L177.81,445.60 L178.14,445.60 L178.47,445.60 L178.80,445.60 L179.14,445.60 L179.47,445.60 L179.80,445.60 L180.14,445.60 L180.47,445.60 L180.80,445.60 L181.13,445.60 L181.47,445.60 L181.80,445.60 L182.13,445.61 L182.47,445.62 L182.80,445.63 L183.13,445.66 L183.46,445.71 L183.80,445.81 L184.13,445.99 L184.46,446.33 L184.80,446.96 L185.13,448.11 L185.46,450.20 L185.79,453.88 L186.13,460.09 L186.46,469.85 L186.79,483.54 L187.13,499.99 L187.46,516.45 L187.79,530.15 L188.12,539.93 L188.46,546.16 L188.79,549.85" stroke="#000" stroke-width="2.0" fill="none"/>
<path d="M55.65,430.29 L55.98,430.29 L56.32,430.29 L56.65,430.29 L56.98,430.29 L57.31,430.29 L57.65,430.29 L57.98,430.29 L58.31,430.29 L58.65,430.29 L58.98,430.29 L59.31,430.29 L59.64,430.29 L59.98,430.29 L60.31,430.29 L60.64,430.29 L60.98,430.29 L61.31,430.29 L61.64,430.29 L61.97,430.29 L62.31,430.29 L62.64,430.29 L62.97,430.29 L63.30,430.29 L63.64,430.29 L63.97,430.29 L64.30,430.29 L64.64,430.29 L64.97,430.29 L65.30,430.29 L65.63,430.29 L65.97,430.29 L66.30,430.29 L66.63,430.29 L66.97,430.29 L67.30,430.29 L67.63,430.29 L67.96,430.29 L68.30,430.29 L68.63,430.29 L68.96,430.29 L69.30,430.29 L69.63,430.29 L69.96,430.29 L70.29,430.29 L70.63,430.29 L70.96,430.29 L71.29,430.29 L71.63,430.29 L71.96,430.29 L72.29,430.29 L72.62,430.29 L72.96,430.29 L73.29,430.29 L73.62,430.29 L73.96,430.29 L74.29,430.29 L74.62,430.29 L74.95,430.29 L75.29,430.29 L75.62,430.29 L75.95,430.29 L76.29,430.29 L76.62,430.29 L76.95,430.29 L77.28,430.29 L77.62,430.29 L77.95,430.29 L78.28,430.29 L78.62,430.29 L78.95,430.29 L79.28,430.29 L79.61,430.29 L79.95,430.29 L80.28,430.29 L80.61,430.29 L80.95,430.29 L81.28,430.29 L81.61,430.29 L81.94,430.29 L82.28,430.29 L82.61,430.29 L82.94,430.29 L83.28,430.29 L83.61,430.29 L83.94,430.29 L84.27,430.29 L84.61,430.29 L84.94,430.29 L85.27,430.30 L85.61,430.30 L85.94,430.30 L86.27,430.30 L86.60,430.30 L86.94,430.30 L87.27,430.30 L87.60,430.30 L87.94,430.30 L88.27,430.30 L88.60,430.30 L88.93,430.30 L89.27,430.30 L89.60,430.30 L89.93,430.30 L90.27,430.30 L90.60,430.30 L90.93,430.30 L91.26,430.30 L91.60,430.31 L91.93,430.31 L92.26,430.31 L92.60,430.31 L92.93,430.31 L93.26,430.31 L93.59,430.31 L93.93,430.31 L94.26,430.31 L94.59,430.32 L94.93,430.32 L95.26,430.32 L95.59,430.32 L95.92,430.32 L96.26,430.32 L96.59,430.33 L96.92,430.33 L97.26,430.33 L97.59,430.33 L97.92,430.33 L98.25,430.34 L98.59,430.34 L98.92,430.34 L99.25,430.35 L99.59,430.35 L99.92,430.35 L100.25,430.36 L100.58,430.36 L100.92,430.36 L101.25,430.37 L101.58,430.37 L101.92,430.38 L102.25,430.38 L102.58,430.39 L102.91,430.39 L103.25,430.40 L103.58,430.40 L103.91,430.41 L104.25,430.41 L104.58,430.42 L104.91,430.43 L105.24,430.44 L105.58,430.44 L105.91,430.45 L106.24,430.46 L106.58,430.47 L106.91,430.48 L107.24,430.49 L107.57,430.50 L107.91,430.51 L108.24,430.53 L108.57,430.54 L108.91,430.55 L109.24,430.57 L109.57,430.58 L109.90,430.60 L110.24,430.61 L110.57,430.63 L110.90,430.65 L111.24,430.67 L111.57,430.69 L111.90,430.71 L112.23,430.74 L112.57,430.76 L112.90,430.79 L113.23,430.81 L113.57,430.84 L113.90,430.87 L114.23,430.90 L114.56,430.94 L114.90,430.97 L115.23,431.01 L115.56,431.05 L115.90,431.09 L116.23,431.13 L116.56,431.18 L116.89,431.22 L117.23,431.27 L117.56,431.33 L117.89,431.38 L118.23,431.44 L118.56,431.50 L118.89,431.57 L119.22,431.64 L119.56,431.71 L119.89,431.79 L120.22,431.87 L120.56,431.95 L120.89,432.04 L121.22,432.14 L121.55,432.24 L121.89,432.34 L122.22,432.45 L122.55,432.57 L122.89,432.69 L123.22,432.82 L123.55,432.95 L123.88,433.09 L124.22,433.24 L124.55,433.40 L124.88,433.56 L125.22,433.74 L125.55,433.92 L125.88,434.11 L126.21,434.31 L126.55,434.52 L126.88,434.75 L127.21,434.98 L127.55,435.23 L127.88,435.48 L128.21,435.75 L128.54,436.04 L128.88,436.34 L129.21,436.65 L129.54,436.98 L129.88,437.32 L130.21,437.68 L130.54,438.06 L130.87,438.46 L131.21,438.87 L131.54,439.30 L131.87,439.76 L132.21,440.23 L132.54,440.73 L132.87,441.25 L133.20,441.79 L133.54,442.36 L133.87,442.95 L134.20,443.56 L134.54,444.21 L134.87,444.88 L135.20,445.57 L135.53,446.30 L135.87,447.05 L136.20,447.84 L136.53,448.66 L136.87,449.50 L137.20,450.38 L137.53,451.29 L137.86,452.24 L138.20,453.21 L138.53,454.22 L138.86,455.27 L139.20,456.35 L139.53,457.46 L139.86,458.60 L140.19,459.78 L140.53,460.99 L140.86,462.24 L141.19,463.52 L141.53,464.83 L141.86,466.17 L142.19,467.55 L142.52,468.95 L142.86,470.38 L143.19,471.84 L143.52,473.33 L143.86,474.84 L144.19,476.37 L144.52,477.93 L144.85,479.50 L145.19,481.10 L145.52,482.71 L145.85,484.33 L146.19,485.97 L146.52,487.61 L146.85,489.27 L147.18,490.92 L147.52,492.59 L147.85,494.25 L148.18,495.91 L148.51,497.56 L148.85,499.21 L149.18,500.85 L149.51,502.48 L149.85,504.10 L150.18,505.70 L150.51,507.28 L150.84,508.85 L151.18,510.39 L151.51,511.91 L151.84,513.41 L152.18,514.88 L152.51,516.32 L152.84,517.74 L153.17,519.12 L153.51,520.48 L153.84,521.81 L154.17,523.10 L154.51,524.36 L154.84,525.59 L155.17,526.78 L155.50,527.94 L155.84,529.07 L156.17,530.16 L156.50,531.22 L156.84,532.24 L157.17,533.23 L157.50,534.19 L157.83,535.12 L158.17,536.01 L158.50,536.87 L158.83,537.70 L159.17,538.50 L159.50,539.26 L159.83,540.00 L160.16,540.71 L160.50,541.39 L160.83,542.05 L161.16,542.68 L161.50,543.28 L161.83,543.85 L162.16,544.41 L162.49,544.94 L162.83,545.44 L163.16,545.93 L163.49,546.39 L163.83,546.83 L164.16,547.25 L164.49,547.66 L164.82,548.04 L165.16,548.41 L165.49,548.76 L165.82,549.10 L166.16,549.42 L166.49,549.72 L166.82,550.01 L167.15,550.29 L167.49,550.55 L167.82,550.80 L168.15,551.04 L168.49,551.27 L168.82,551.48 L169.15,551.69 L169.48,551.88 L169.82,552.07 L170.15,552.25 L170.48,552.42 L170.82,552.58 L171.15,552.73 L171.48,552.87 L171.81,553.01 L172.15,553.14 L172.48,553.27 L172.81,553.39 L173.15,553.50 L173.48,553.60 L173.81,553.71 L174.14,553.80 L174.48,553.89 L174.81,553.98 L175.14,554.06 L175.48,554.14 L175.81,554.22 L176.14,554.29 L176.47,554.35 L176.81,554.42 L177.14,554.48 L177.47,554.53 L177.81,554.59 L178.14,554.64 L178.47,554.69 L178.80,554.74 L179.14,554.78 L179.47,554.82 L179.80,554.86 L180.14,554.90 L180.47,554.94 L180.80,554.97 L181.13,555.00 L181.47,555.03 L181.80,555.06 L182.13,555.09 L182.47,555.11 L182.80,555.14 L183.13,555.16 L183.46,555.19 L183.80,555.21 L184.13,555.23 L184.46,555.25 L184.80,555.26 L185.13,555.28 L185.46,555.30 L185.79,555.31 L186.13,555.33 L186.46,555.34 L186.79,555.35 L187.13,555.37 L187.46,555.38 L187.79,555.39 L188.12,555.40 L188.46,555.41 L188.79,555.42" stroke="#000" stroke-width="2.0" fill="none"/>
<path d="M55.65,456.95 L55.98,456.95 L56.32,456.95 L56.65,456.95 L56.98,456.96 L57.31,456.96 L57.65,456.96 L57.98,456.97 L58.31,456.97 L58.65,456.98 L58.98,456.99 L59.31,457.00 L59.64,457.01 L59.98,457.02 L60.31,457.04 L60.64,457.06 L60.98,457.08 L61.31,457.10 L61.64,457.13 L61.97,457.17 L62.31,457.21 L62.64,457.27 L62.97,457.33 L63.30,457.40 L63.64,457.48 L63.97,457.59 L64.30,457.71 L64.64,457.85 L64.97,458.02 L65.30,458.22 L65.63,458.45 L65.97,458.73 L66.30,459.06 L66.63,459.45 L66.97,459.90 L67.30,460.44 L67.63,461.07 L67.96,461.80 L68.30,462.66 L68.63,463.66 L68.96,464.82 L69.30,466.16 L69.63,467.70 L69.96,469.46 L70.29,471.46 L70.63,473.72 L70.96,476.26 L71.29,479.07 L71.63,482.17 L71.96,485.54 L72.29,489.16 L72.62,493.01 L72.96,497.05 L73.29,501.23 L73.62,505.49 L73.96,509.76 L74.29,514.00 L74.62,518.13 L74.95,522.11 L75.29,525.88 L75.62,529.41 L75.95,532.68 L76.29,535.67 L76.62,538.38 L76.95,540.81 L77.28,542.98 L77.62,544.89 L77.95,546.57 L78.28,548.03 L78.62,549.30 L78.95,550.40 L79.28,551.34 L79.61,552.15 L79.95,552.85 L80.28,553.44 L80.61,553.94 L80.95,554.37 L81.28,554.74 L81.61,555.05 L81.94,555.31 L82.28,555.53 L82.61,555.72 L82.94,555.87 L83.28,556.01 L83.61,556.12 L83.94,556.22 L84.27,556.30 L84.61,556.37 L84.94,556.42 L85.27,556.47 L85.61,556.51 L85.94,556.55 L86.27,556.58 L86.60,556.60 L86.94,556.62 L87.27,556.64 L87.60,556.65 L87.94,556.66 L88.27,556.67 L88.60,556.68 L88.93,556.69 L89.27,556.70 L89.60,556.70 L89.93,556.71 L90.27,556.71 L90.60,556.71 L90.93,556.72 L91.26,556.72 L91.60,556.72 L91.93,556.72 L92.26,556.72 L92.60,556.72 L92.93,556.72 L93.26,556.73 L93.59,556.73 L93.93,556.73 L94.26,556.73 L94.59,556.73 L94.93,556.73 L95.26,556.73 L95.59,556.73 L95.92,556.73 L96.26,556.73 L96.59,556.73 L96.92,556.73 L97.26,556.73 L97.59,556.73 L97.92,556.73 L98.25,556.73 L98.59,556.73 L98.92,556.73 L99.25,556.73 L99.59,556.73 L99.92,556.73 L100.25,556.73 L100.58,556.73 L100.92,556.73 L101.25,556.73 L101.58,556.73 L101.92,556.73 L102.25,556.73 L102.58,556.73 L102.91,556.73 L103.25,556.73 L103.58,556.73 L103.91,556.73 L104.25,556.73 L104.58,556.73 L104.91,556.73 L105.24,556.73 L105.58,556.73 L105.91,556.73 L106.24,556.73 L106.58,556.73 L106.91,556.73 L107.24,556.73 L107.57,556.73 L107.91,556.73 L108.24,556.73 L108.57,556.73 L108.91,556.73 L109.24,556.73 L109.57,556.73 L109.90,556.73 L110.24,556.73 L110.57,556.73 L110.90,556.73 L111.24,556.73 L111.57,556.73 L111.90,556.73 L112.23,556.73 L112.57,556.73 L112.90,556.73 L113.23,556.73 L113.57,556.73 L113.90,556.73 L114.23,556.73 L114.56,556.73 L114.90,556.73 L115.23,556.73 L115.56,556.73 L115.90,556.73 L116.23,556.73 L116.56,556.73 L116.89,556.73 L117.23,556.73 L117.56,556.73 L117.89,556.73 L118.23,556.73 L118.56,556.73 L118.89,556.73 L119.22,556.73 L119.56,556.73 L119.89,556.73 L120.22,556.73 L120.56,556.73 L120.89,556.73 L121.22,556.73 L121.55,556.73 L121.89,556.73 L122.22,556.73 L122.55,556.73 L122.89,556.73 L123.22,556.73 L123.55,556.73 L123.88,556.73 L124.22,556.73 L124.55,556.73 L124.88,556.73 L125.22,556.73 L125.55,556.73 L125.88,556.73 L126.21,556.73 L126.55,556.73 L126.88,556.73 L127.21,556.73 L127.55,556.73 L127.88,556.73 L128.21,556.73 L128.54,556.73 L128.88,556.73 L129.21,556.73 L129.54,556.73 L129.88,556.73 L130.21,556.73 L130.54,556.73 L130.87,556.73 L131.21,556.73 L131.54,556.73 L131.87,556.73 L132.21,556.73 L132.54,556.73 L132.87,556.73 L133.20,556.73 L133.54,556.73 L133.87,556.73 L134.20,556.73 L134.54,556.73 L134.87,556.73 L135.20,556.73 L135.53,556.73 L135.87,556.73 L136.20,556.73 L136.53,556.73 L136.87,556.73 L137.20,556.73 L137.53,556.73 L137.86,556.73 L138.20,556.73 L138.53,556.73 L138.86,556.73 L139.20,556.73 L139.53,556.73 L139.86,556.73 L140.19,556.73 L140.53,556.73 L140.86,556.73 L141.19,556.73 L141.53,556.73 L141.86,556.73 L142.19,556.73 L142.52,556.73 L142.86,556.73 L143.19,556.73 L143.52,556.73 L143.86,556.73 L144.19,556.73 L144.52,556.73 L144.85,556.73 L145.19,556.73 L145.52,556.73 L145.85,556.73 L146.19,556.73 L146.52,556.73 L146.85,556.73 L147.18,556.73 L147.52,556.73 L147.85,556.73 L148.18,556.73 L148.51,556.73 L148.85,556.73 L149.18,556.73 L149.51,556.73 L149.85,556.73 L150.18,556.73 L150.51,556.73 L150.84,556.73 L151.18,556.73 L151.51,556.73 L151.84,556.73 L152.18,556.73 L152.51,556.73 L152.84,556.73 L153.17,556.73 L153.51,556.73 L153.84,556.73 L154.17,556.73 L154.51,556.73 L154.84,556.73 L155.17,556.73 L155.50,556.73 L155.84,556.73 L156.17,556.73 L156.50,556.73 L156.84,556.73 L157.17,556.73 L157.50,556.73 L157.83,556.73 L158.17,556.73 L158.50,556.73 L158.83,556.73 L159.17,556.73 L159.50,556.73 L159.83,556.73 L160.16,556.73 L160.50,556.73 L160.83,556.73 L161.16,556.73 L161.50,556.73 L161.83,556.73 L162.16,556.73 L162.49,556.73 L162.83,556.73 L163.16,556.73 L163.49,556.73 L163.83,556.73 L164.16,556.73 L164.49,556.73 L164.82,556.73 L165.16,556.73 L165.49,556.73 L165.82,556.73 L166.16,556.73 L166.49,556.73 L166.82,556.73 L167.15,556.73 L167.49,556.73 L167.82,556.73 L168.15,556.73 L168.49,556.73 L168.82,556.73 L169.15,556.73 L169.48,556.73 L169.82,556.73 L170.15,556.73 L170.48,556.73 L170.82,556.73 L171.15,556.73 L171.48,556.73 L171.81,556.73 L172.15,556.73 L172.48,556.73 L172.81,556.73 L173.15,556.73 L173.48,556.73 L173.81,556.73 L174.14,556.73 L174.48,556.73 L174.81,556.73 L175.14,556.73 L175.48,556.73 L175.81,556.73 L176.14,556.73 L176.47,556.73 L176.81,556.73 L177.14,556.73 L177.47,556.73 L177.81,556.73 L178.14,556.73 L178.47,556.73 L178.80,556.73 L179.14,556.73 L179.47,556.73 L179.80,556.73 L180.14,556.73 L180.47,556.73 L180.80,556.73 L181.13,556.73 L181.47,556.73 L181.80,556.73 L182.13,556.73 L182.47,556.73 L182.80,556.73 L183.13,556.73 L183.46,556.73 L183.80,556.73 L184.13,556.73 L184.46,556.73 L184.80,556.73 L185.13,556.73 L185.46,556.73 L185.79,556.73 L186.13,556.73 L186.46,556.73 L186.79,556.73 L187.13,556.73 L187.46,556.73 L187.79,556.73 L188.12,556.73 L188.46,556.73 L188.79,556.73" stroke="#000" stroke-width="2.0" fill="none"/>
<rect x="53.20" y="457.32" width="4.90" height="4.90" fill="#fff" stroke="#000" stroke-width="1.7"/>
<rect x="53.20" y="557.12" width="4.90" height="4.90" fill="#fff" stroke="#000" stroke-width="1.7"/>
<path d="M55.65,453.54L59.05,459.66L52.25,459.66Z" fill="#fff" stroke="#000" stroke-width="1.6"/>
<path d="M55.65,549.92L59.06,555.81L52.24,555.81Z" fill="#000"/>
<path d="M55.65,555.60L59.06,549.71L52.24,549.71Z" fill="#000"/>
<path d="M55.65,424.95L59.06,428.36L55.65,431.77L52.24,428.36Z" fill="#000"/>
<rect x="52.35" y="452.50" width="6.60" height="6.60" fill="#000"/>
<circle cx="55.65" cy="445.60" r="3.20" fill="#000"/>
<rect x="67.99" y="557.12" width="4.90" height="4.90" fill="#fff" stroke="#000" stroke-width="1.7"/>
<path d="M70.44,468.28L73.84,474.40L67.04,474.40Z" fill="#fff" stroke="#000" stroke-width="1.6"/>
<path d="M70.44,549.92L73.85,555.81L67.03,555.81Z" fill="#000"/>
<path d="M70.44,555.60L73.85,549.71L67.03,549.71Z" fill="#000"/>
<path d="M70.44,426.43L73.85,429.84L70.44,433.25L67.03,429.84Z" fill="#000"/>
<rect x="67.14" y="446.83" width="6.60" height="6.60" fill="#000"/>
<circle cx="70.44" cy="444.46" r="3.20" fill="#000"/>
<rect x="82.78" y="557.12" width="4.90" height="4.90" fill="#fff" stroke="#000" stroke-width="1.7"/>
<path d="M85.23,552.76L88.63,558.88L81.83,558.88Z" fill="#fff" stroke="#000" stroke-width="1.6"/>
<path d="M85.23,551.05L88.64,556.94L81.82,556.94Z" fill="#000"/>
<path d="M85.23,555.60L88.64,549.71L81.82,549.71Z" fill="#000"/>
<path d="M85.23,426.54L88.64,429.95L85.23,433.36L81.82,429.95Z" fill="#000"/>
<rect x="81.93" y="440.03" width="6.60" height="6.60" fill="#000"/>
<circle cx="85.23" cy="449.00" r="3.20" fill="#000"/>
<rect x="97.57" y="557.12" width="4.90" height="4.90" fill="#fff" stroke="#000" stroke-width="1.7"/>
<path d="M100.02,552.76L103.42,558.88L96.62,558.88Z" fill="#fff" stroke="#000" stroke-width="1.6"/>
<path d="M100.02,551.05L103.43,556.94L96.61,556.94Z" fill="#000"/>
<path d="M100.02,556.74L103.43,550.85L96.61,550.85Z" fill="#000"/>
<path d="M100.02,423.48L103.43,426.89L100.02,430.30L96.61,426.89Z" fill="#000"/>
<rect x="96.72" y="438.90" width="6.60" height="6.60" fill="#000"/>
<circle cx="100.02" cy="538.59" r="3.20" fill="#000"/>
<rect x="112.39" y="557.12" width="4.90" height="4.90" fill="#fff" stroke="#000" stroke-width="1.7"/>
<path d="M114.84,552.76L118.24,558.88L111.44,558.88Z" fill="#fff" stroke="#000" stroke-width="1.6"/>
<path d="M114.84,551.05L118.25,556.94L111.43,556.94Z" fill="#000"/>
<path d="M114.84,556.74L118.25,550.85L111.43,550.85Z" fill="#000"/>
<path d="M114.84,424.04L118.25,427.45L114.84,430.86L111.43,427.45Z" fill="#000"/>
<rect x="111.54" y="435.49" width="6.60" height="6.60" fill="#000"/>
<circle cx="114.84" cy="552.76" r="3.20" fill="#000"/>
<rect x="127.18" y="557.68" width="4.90" height="4.90" fill="#fff" stroke="#000" stroke-width="1.7"/>
<path d="M129.63,553.33L133.03,559.45L126.23,559.45Z" fill="#fff" stroke="#000" stroke-width="1.6"/>
<path d="M129.63,551.05L133.04,556.94L126.22,556.94Z" fill="#000"/>
<path d="M129.63,556.74L133.04,550.85L126.22,550.85Z" fill="#000"/>
<path d="M129.63,443.89L133.04,447.30L129.63,450.71L126.22,447.30Z" fill="#000"/>
<rect x="126.33" y="441.73" width="6.60" height="6.60" fill="#000"/>
<circle cx="129.63" cy="552.76" r="3.20" fill="#000"/>
<rect x="141.97" y="557.68" width="4.90" height="4.90" fill="#fff" stroke="#000" stroke-width="1.7"/>
<path d="M144.42,553.33L147.82,559.45L141.02,559.45Z" fill="#fff" stroke="#000" stroke-width="1.6"/>
<path d="M144.42,551.05L147.83,556.94L141.01,556.94Z" fill="#000"/>
<path d="M144.42,556.74L147.83,550.85L141.01,550.85Z" fill="#000"/>
<path d="M144.42,469.40L147.83,472.81L144.42,476.22L141.01,472.81Z" fill="#000"/>
<rect x="141.12" y="441.16" width="6.60" height="6.60" fill="#000"/>
<circle cx="144.42" cy="553.33" r="3.20" fill="#000"/>
<rect x="156.76" y="557.68" width="4.90" height="4.90" fill="#fff" stroke="#000" stroke-width="1.7"/>
<path d="M159.21,553.33L162.61,559.45L155.81,559.45Z" fill="#fff" stroke="#000" stroke-width="1.6"/>
<path d="M159.21,551.05L162.62,556.94L155.80,556.94Z" fill="#000"/>
<path d="M159.21,557.87L162.62,551.98L155.80,551.98Z" fill="#000"/>
<path d="M159.21,539.71L162.62,543.12L159.21,546.53L155.80,543.12Z" fill="#000"/>
<rect x="155.91" y="438.90" width="6.60" height="6.60" fill="#000"/>
<circle cx="159.21" cy="553.89" r="3.20" fill="#000"/>
<rect x="171.55" y="559.38" width="4.90" height="4.90" fill="#fff" stroke="#000" stroke-width="1.7"/>
<path d="M174.00,553.90L177.40,560.02L170.60,560.02Z" fill="#fff" stroke="#000" stroke-width="1.6"/>
<path d="M174.00,551.05L177.41,556.94L170.59,556.94Z" fill="#000"/>
<path d="M174.00,557.87L177.41,551.98L170.59,551.98Z" fill="#000"/>
<path d="M174.00,552.19L177.41,555.60L174.00,559.01L170.59,555.60Z" fill="#000"/>
<rect x="170.70" y="438.90" width="6.60" height="6.60" fill="#000"/>
<circle cx="174.00" cy="554.46" r="3.20" fill="#000"/>
<rect x="186.34" y="559.95" width="4.90" height="4.90" fill="#fff" stroke="#000" stroke-width="1.7"/>
<path d="M188.79,553.90L192.19,560.02L185.39,560.02Z" fill="#fff" stroke="#000" stroke-width="1.6"/>
<path d="M188.79,551.05L192.20,556.94L185.38,556.94Z" fill="#000"/>
<path d="M188.79,557.87L192.20,551.98L185.38,551.98Z" fill="#000"/>
<path d="M188.79,552.19L192.20,555.60L188.79,559.01L185.38,555.60Z" fill="#000"/>
<rect x="185.49" y="551.16" width="6.60" height="6.60" fill="#000"/>
<circle cx="188.79" cy="555.03" r="3.20" fill="#000"/>
<circle cx="211.70" cy="436.75" r="3.70" fill="#000"/>
<text x="228.40" y="440.95" font-size="12" font-weight="normal" text-anchor="start" fill="#000" >Vincristine</text>
<rect x="208.00" y="450.42" width="7.40" height="7.40" fill="#000"/>
<text x="228.40" y="458.32" font-size="12" font-weight="normal" text-anchor="start" fill="#000" >Paclitaxel</text>
<path d="M211.70,467.59L215.60,474.33L207.79,474.33Z" fill="#000"/>
<text x="228.40" y="475.69" font-size="12" font-weight="normal" text-anchor="start" fill="#000" >Cytarabine</text>
<path d="M211.70,492.76L215.60,486.02L207.79,486.02Z" fill="#000"/>
<text x="228.40" y="493.06" font-size="12" font-weight="normal" text-anchor="start" fill="#000" >Camptothecin</text>
<path d="M211.70,502.33L215.60,506.23L211.70,510.13L207.79,506.23Z" fill="#000"/>
<text x="228.40" y="510.43" font-size="12" font-weight="normal" text-anchor="start" fill="#000" >Teniposide</text>
<path d="M211.70,520.05L215.25,526.44L208.15,526.44Z" fill="#fff" stroke="#000" stroke-width="1.6"/>
<text x="228.40" y="527.80" font-size="12" font-weight="normal" text-anchor="start" fill="#000" >Daunorubicin</text>
<rect x="208.85" y="538.12" width="5.70" height="5.70" fill="#fff" stroke="#000" stroke-width="1.7"/>
<text x="228.40" y="545.17" font-size="12" font-weight="normal" text-anchor="start" fill="#000" >Mitoxantrone</text>
<text x="317.70" y="417.80" font-size="25.8" font-weight="bold" text-anchor="start" fill="#000" >F</text>
<path d="M361.9,425.02V574.7" stroke="#000" stroke-width="2" fill="none"/>
<path d="M360.9,573.7H511" stroke="#000" stroke-width="2" fill="none"/>
<text x="355.60" y="566.06" font-size="11" font-weight="bold" text-anchor="end" fill="#000" >0.0</text>
<text x="355.60" y="543.38" font-size="11" font-weight="bold" text-anchor="end" fill="#000" >0.2</text>
<text x="355.60" y="520.70" font-size="11" font-weight="bold" text-anchor="end" fill="#000" >0.4</text>
<text x="355.60" y="498.02" font-size="11" font-weight="bold" text-anchor="end" fill="#000" >0.6</text>
<text x="355.60" y="475.34" font-size="11" font-weight="bold" text-anchor="end" fill="#000" >0.8</text>
<text x="355.60" y="452.66" font-size="11" font-weight="bold" text-anchor="end" fill="#000" >1.0</text>
<text x="355.60" y="429.98" font-size="11" font-weight="bold" text-anchor="end" fill="#000" >1.2</text>
<path d="M356.7,562.10H361.9M356.7,539.42H361.9M356.7,516.74H361.9M356.7,494.06H361.9M356.7,471.38H361.9M356.7,448.70H361.9M356.7,426.02H361.9M361.90,573.7V578.9000000000001M376.77,573.7V577.3000000000001M385.47,573.7V577.3000000000001M391.64,573.7V577.3000000000001M396.43,573.7V577.3000000000001M400.34,573.7V577.3000000000001M403.65,573.7V577.3000000000001M406.51,573.7V577.3000000000001M409.04,573.7V577.3000000000001M411.30,573.7V578.9000000000001M426.17,573.7V577.3000000000001M434.87,573.7V577.3000000000001M441.04,573.7V577.3000000000001M445.83,573.7V577.3000000000001M449.74,573.7V577.3000000000001M453.05,573.7V577.3000000000001M455.91,573.7V577.3000000000001M458.44,573.7V577.3000000000001M460.70,573.7V578.9000000000001M475.57,573.7V577.3000000000001M484.27,573.7V577.3000000000001M490.44,573.7V577.3000000000001M495.23,573.7V577.3000000000001M499.14,573.7V577.3000000000001M502.45,573.7V577.3000000000001M505.31,573.7V577.3000000000001M507.84,573.7V577.3000000000001M510.10,573.7V578.9000000000001" stroke="#000" stroke-width="1.9" fill="none"/>
<text x="361.90" y="590.50" font-size="11" font-weight="bold" text-anchor="middle" fill="#000" >0.01</text>
<text x="411.30" y="590.50" font-size="11" font-weight="bold" text-anchor="middle" fill="#000" >0.1</text>
<text x="460.70" y="590.50" font-size="11" font-weight="bold" text-anchor="middle" fill="#000" >1</text>
<text x="510.10" y="590.50" font-size="11" font-weight="bold" text-anchor="middle" fill="#000" >10</text>
<path d="M362.9,562.10H511" stroke="#444" stroke-width="0.9" stroke-dasharray="1.2,1.6" fill="none"/>
<text x="436.00" y="607.30" font-size="11.5" font-weight="bold" text-anchor="middle" fill="#000" >Kinetin riboside (<tspan font-weight="normal">μ</tspan>M)</text>
<text x="333.60" y="498.00" font-size="12" font-weight="bold" text-anchor="middle" fill="#000" transform="rotate(-90 333.6 498)">Normalized activity</text>
<path d="M376.23,448.71 L376.56,448.71 L376.90,448.71 L377.23,448.71 L377.57,448.71 L377.90,448.71 L378.24,448.71 L378.57,448.71 L378.91,448.71 L379.24,448.71 L379.57,448.71 L379.91,448.71 L380.24,448.71 L380.58,448.71 L380.91,448.72 L381.25,448.72 L381.58,448.72 L381.92,448.72 L382.25,448.72 L382.59,448.72 L382.92,448.73 L383.26,448.73 L383.59,448.73 L383.93,448.73 L384.26,448.73 L384.59,448.74 L384.93,448.74 L385.26,448.74 L385.60,448.75 L385.93,448.75 L386.27,448.75 L386.60,448.76 L386.94,448.76 L387.27,448.77 L387.61,448.78 L387.94,448.78 L388.28,448.79 L388.61,448.79 L388.95,448.80 L389.28,448.81 L389.61,448.82 L389.95,448.83 L390.28,448.84 L390.62,448.85 L390.95,448.86 L391.29,448.88 L391.62,448.89 L391.96,448.91 L392.29,448.92 L392.63,448.94 L392.96,448.96 L393.30,448.98 L393.63,449.00 L393.97,449.03 L394.30,449.06 L394.64,449.08 L394.97,449.12 L395.30,449.15 L395.64,449.19 L395.97,449.23 L396.31,449.27 L396.64,449.31 L396.98,449.36 L397.31,449.42 L397.65,449.47 L397.98,449.54 L398.32,449.60 L398.65,449.68 L398.99,449.75 L399.32,449.84 L399.66,449.93 L399.99,450.03 L400.32,450.14 L400.66,450.25 L400.99,450.37 L401.33,450.51 L401.66,450.65 L402.00,450.81 L402.33,450.98 L402.67,451.16 L403.00,451.35 L403.34,451.56 L403.67,451.79 L404.01,452.03 L404.34,452.29 L404.68,452.57 L405.01,452.87 L405.34,453.20 L405.68,453.55 L406.01,453.92 L406.35,454.33 L406.68,454.76 L407.02,455.22 L407.35,455.72 L407.69,456.25 L408.02,456.81 L408.36,457.42 L408.69,458.07 L409.03,458.76 L409.36,459.50 L409.70,460.29 L410.03,461.12 L410.37,462.01 L410.70,462.95 L411.03,463.95 L411.37,465.01 L411.70,466.13 L412.04,467.31 L412.37,468.55 L412.71,469.85 L413.04,471.23 L413.38,472.66 L413.71,474.17 L414.05,475.73 L414.38,477.37 L414.72,479.06 L415.05,480.82 L415.39,482.64 L415.72,484.52 L416.05,486.44 L416.39,488.42 L416.72,490.45 L417.06,492.51 L417.39,494.61 L417.73,496.74 L418.06,498.90 L418.40,501.07 L418.73,503.25 L419.07,505.44 L419.40,507.63 L419.74,509.81 L420.07,511.97 L420.41,514.11 L420.74,516.23 L421.07,518.31 L421.41,520.35 L421.74,522.35 L422.08,524.30 L422.41,526.20 L422.75,528.05 L423.08,529.83 L423.42,531.55 L423.75,533.22 L424.09,534.81 L424.42,536.35 L424.76,537.81 L425.09,539.21 L425.43,540.55 L425.76,541.82 L426.10,543.03 L426.43,544.17 L426.76,545.25 L427.10,546.28 L427.43,547.25 L427.77,548.16 L428.10,549.02 L428.44,549.82 L428.77,550.58 L429.11,551.30 L429.44,551.96 L429.78,552.59 L430.11,553.17 L430.45,553.72 L430.78,554.23 L431.12,554.71 L431.45,555.15 L431.78,555.57 L432.12,555.96 L432.45,556.32 L432.79,556.65 L433.12,556.96 L433.46,557.25 L433.79,557.52 L434.13,557.77 L434.46,558.01 L434.80,558.22 L435.13,558.43 L435.47,558.61 L435.80,558.79 L436.14,558.95 L436.47,559.10 L436.80,559.23 L437.14,559.36 L437.47,559.48 L437.81,559.59 L438.14,559.69 L438.48,559.79 L438.81,559.87 L439.15,559.96 L439.48,560.03 L439.82,560.10 L440.15,560.17 L440.49,560.22 L440.82,560.28 L441.16,560.33 L441.49,560.38 L441.83,560.42 L442.16,560.46 L442.49,560.50 L442.83,560.54 L443.16,560.57 L443.50,560.60 L443.83,560.62 L444.17,560.65 L444.50,560.67 L444.84,560.70 L445.17,560.72 L445.51,560.73 L445.84,560.75 L446.18,560.77 L446.51,560.78 L446.85,560.80 L447.18,560.81 L447.51,560.82 L447.85,560.83 L448.18,560.84 L448.52,560.85 L448.85,560.86 L449.19,560.87 L449.52,560.88 L449.86,560.88 L450.19,560.89 L450.53,560.89 L450.86,560.90 L451.20,560.90 L451.53,560.91 L451.87,560.91 L452.20,560.92 L452.53,560.92 L452.87,560.92 L453.20,560.93 L453.54,560.93 L453.87,560.93 L454.21,560.94 L454.54,560.94 L454.88,560.94 L455.21,560.94 L455.55,560.94 L455.88,560.95 L456.22,560.95 L456.55,560.95 L456.89,560.95 L457.22,560.95 L457.56,560.95 L457.89,560.95 L458.22,560.95 L458.56,560.95 L458.89,560.96 L459.23,560.96 L459.56,560.96 L459.90,560.96 L460.23,560.96 L460.57,560.96 L460.90,560.96 L461.24,560.96 L461.57,560.96 L461.91,560.96 L462.24,560.96 L462.58,560.96 L462.91,560.96 L463.24,560.96 L463.58,560.96 L463.91,560.96 L464.25,560.96 L464.58,560.96 L464.92,560.96 L465.25,560.96 L465.59,560.96 L465.92,560.96 L466.26,560.96 L466.59,560.96 L466.93,560.96 L467.26,560.96 L467.60,560.96 L467.93,560.96 L468.26,560.96 L468.60,560.96 L468.93,560.97 L469.27,560.97 L469.60,560.97 L469.94,560.97 L470.27,560.97 L470.61,560.97 L470.94,560.97 L471.28,560.97 L471.61,560.97 L471.95,560.97 L472.28,560.97 L472.62,560.97 L472.95,560.97 L473.29,560.97 L473.62,560.97 L473.95,560.97 L474.29,560.97 L474.62,560.97 L474.96,560.97 L475.29,560.97 L475.63,560.97 L475.96,560.97 L476.30,560.97 L476.63,560.97 L476.97,560.97 L477.30,560.97 L477.64,560.97 L477.97,560.97 L478.31,560.97 L478.64,560.97 L478.97,560.97 L479.31,560.97 L479.64,560.97 L479.98,560.97 L480.31,560.97 L480.65,560.97 L480.98,560.97 L481.32,560.97 L481.65,560.97 L481.99,560.97 L482.32,560.97 L482.66,560.97 L482.99,560.97 L483.33,560.97 L483.66,560.97 L483.99,560.97 L484.33,560.97 L484.66,560.97 L485.00,560.97 L485.33,560.97 L485.67,560.97 L486.00,560.97 L486.34,560.97 L486.67,560.97 L487.01,560.97 L487.34,560.97 L487.68,560.97 L488.01,560.97 L488.35,560.97 L488.68,560.97 L489.02,560.97 L489.35,560.97 L489.68,560.97 L490.02,560.97 L490.35,560.97 L490.69,560.97 L491.02,560.97 L491.36,560.97 L491.69,560.97 L492.03,560.97 L492.36,560.97 L492.70,560.97 L493.03,560.97 L493.37,560.97 L493.70,560.97 L494.04,560.97 L494.37,560.97 L494.70,560.97 L495.04,560.97 L495.37,560.97 L495.71,560.97 L496.04,560.97 L496.38,560.97 L496.71,560.97 L497.05,560.97 L497.38,560.97 L497.72,560.97 L498.05,560.97 L498.39,560.97 L498.72,560.97 L499.06,560.97 L499.39,560.97 L499.72,560.97 L500.06,560.97 L500.39,560.97 L500.73,560.97 L501.06,560.97 L501.40,560.97 L501.73,560.97 L502.07,560.97 L502.40,560.97 L502.74,560.97 L503.07,560.97 L503.41,560.97 L503.74,560.97 L504.08,560.97 L504.41,560.97 L504.75,560.97 L505.08,560.97 L505.41,560.97 L505.75,560.97 L506.08,560.97 L506.42,560.97 L506.75,560.97 L507.09,560.97 L507.42,560.97 L507.76,560.97 L508.09,560.97 L508.43,560.97 L508.76,560.97 L509.10,560.97 L509.43,560.97 L509.77,560.97 L510.10,560.97" stroke="#000" stroke-width="2.0" fill="none"/>
<path d="M376.23,458.36 L376.56,458.36 L376.90,458.36 L377.23,458.36 L377.57,458.37 L377.90,458.37 L378.24,458.37 L378.57,458.37 L378.91,458.37 L379.24,458.37 L379.57,458.37 L379.91,458.37 L380.24,458.38 L380.58,458.38 L380.91,458.38 L381.25,458.38 L381.58,458.38 L381.92,458.39 L382.25,458.39 L382.59,458.39 L382.92,458.39 L383.26,458.39 L383.59,458.40 L383.93,458.40 L384.26,458.40 L384.59,458.40 L384.93,458.41 L385.26,458.41 L385.60,458.41 L385.93,458.42 L386.27,458.42 L386.60,458.42 L386.94,458.43 L387.27,458.43 L387.61,458.43 L387.94,458.44 L388.28,458.44 L388.61,458.45 L388.95,458.45 L389.28,458.46 L389.61,458.46 L389.95,458.47 L390.28,458.47 L390.62,458.48 L390.95,458.48 L391.29,458.49 L391.62,458.50 L391.96,458.50 L392.29,458.51 L392.63,458.52 L392.96,458.53 L393.30,458.54 L393.63,458.54 L393.97,458.55 L394.30,458.56 L394.64,458.57 L394.97,458.58 L395.30,458.59 L395.64,458.60 L395.97,458.61 L396.31,458.63 L396.64,458.64 L396.98,458.65 L397.31,458.66 L397.65,458.68 L397.98,458.69 L398.32,458.71 L398.65,458.72 L398.99,458.74 L399.32,458.76 L399.66,458.78 L399.99,458.80 L400.32,458.82 L400.66,458.84 L400.99,458.86 L401.33,458.88 L401.66,458.90 L402.00,458.93 L402.33,458.95 L402.67,458.98 L403.00,459.01 L403.34,459.04 L403.67,459.07 L404.01,459.10 L404.34,459.13 L404.68,459.16 L405.01,459.20 L405.34,459.24 L405.68,459.27 L406.01,459.31 L406.35,459.36 L406.68,459.40 L407.02,459.45 L407.35,459.49 L407.69,459.54 L408.02,459.59 L408.36,459.65 L408.69,459.70 L409.03,459.76 L409.36,459.82 L409.70,459.89 L410.03,459.95 L410.37,460.02 L410.70,460.09 L411.03,460.17 L411.37,460.25 L411.70,460.33 L412.04,460.41 L412.37,460.50 L412.71,460.59 L413.04,460.69 L413.38,460.79 L413.71,460.89 L414.05,461.00 L414.38,461.11 L414.72,461.23 L415.05,461.35 L415.39,461.47 L415.72,461.60 L416.05,461.74 L416.39,461.88 L416.72,462.03 L417.06,462.19 L417.39,462.35 L417.73,462.51 L418.06,462.69 L418.40,462.87 L418.73,463.05 L419.07,463.25 L419.40,463.45 L419.74,463.66 L420.07,463.88 L420.41,464.11 L420.74,464.34 L421.07,464.59 L421.41,464.84 L421.74,465.11 L422.08,465.38 L422.41,465.66 L422.75,465.96 L423.08,466.26 L423.42,466.58 L423.75,466.91 L424.09,467.25 L424.42,467.60 L424.76,467.96 L425.09,468.34 L425.43,468.73 L425.76,469.13 L426.10,469.55 L426.43,469.98 L426.76,470.43 L427.10,470.89 L427.43,471.37 L427.77,471.86 L428.10,472.36 L428.44,472.89 L428.77,473.43 L429.11,473.98 L429.44,474.56 L429.78,475.15 L430.11,475.75 L430.45,476.38 L430.78,477.02 L431.12,477.68 L431.45,478.36 L431.78,479.05 L432.12,479.76 L432.45,480.50 L432.79,481.25 L433.12,482.01 L433.46,482.80 L433.79,483.60 L434.13,484.42 L434.46,485.26 L434.80,486.12 L435.13,486.99 L435.47,487.88 L435.80,488.79 L436.14,489.71 L436.47,490.65 L436.80,491.60 L437.14,492.57 L437.47,493.56 L437.81,494.55 L438.14,495.56 L438.48,496.58 L438.81,497.62 L439.15,498.66 L439.48,499.72 L439.82,500.78 L440.15,501.85 L440.49,502.93 L440.82,504.02 L441.16,505.11 L441.49,506.21 L441.83,507.31 L442.16,508.41 L442.49,509.52 L442.83,510.63 L443.16,511.73 L443.50,512.84 L443.83,513.94 L444.17,515.04 L444.50,516.14 L444.84,517.23 L445.17,518.31 L445.51,519.39 L445.84,520.46 L446.18,521.52 L446.51,522.58 L446.85,523.62 L447.18,524.65 L447.51,525.67 L447.85,526.68 L448.18,527.67 L448.52,528.65 L448.85,529.62 L449.19,530.57 L449.52,531.50 L449.86,532.42 L450.19,533.32 L450.53,534.21 L450.86,535.08 L451.20,535.93 L451.53,536.77 L451.87,537.58 L452.20,538.38 L452.53,539.17 L452.87,539.93 L453.20,540.67 L453.54,541.40 L453.87,542.11 L454.21,542.80 L454.54,543.48 L454.88,544.13 L455.21,544.77 L455.55,545.39 L455.88,545.99 L456.22,546.58 L456.55,547.15 L456.89,547.70 L457.22,548.24 L457.56,548.76 L457.89,549.26 L458.22,549.75 L458.56,550.22 L458.89,550.68 L459.23,551.12 L459.56,551.55 L459.90,551.96 L460.23,552.36 L460.57,552.75 L460.90,553.13 L461.24,553.49 L461.57,553.84 L461.91,554.17 L462.24,554.50 L462.58,554.81 L462.91,555.12 L463.24,555.41 L463.58,555.69 L463.91,555.96 L464.25,556.22 L464.58,556.47 L464.92,556.72 L465.25,556.95 L465.59,557.17 L465.92,557.39 L466.26,557.60 L466.59,557.80 L466.93,557.99 L467.26,558.18 L467.60,558.36 L467.93,558.53 L468.26,558.70 L468.60,558.85 L468.93,559.01 L469.27,559.15 L469.60,559.30 L469.94,559.43 L470.27,559.56 L470.61,559.69 L470.94,559.81 L471.28,559.92 L471.61,560.03 L471.95,560.14 L472.28,560.24 L472.62,560.34 L472.95,560.44 L473.29,560.53 L473.62,560.61 L473.95,560.70 L474.29,560.78 L474.62,560.86 L474.96,560.93 L475.29,561.00 L475.63,561.07 L475.96,561.13 L476.30,561.20 L476.63,561.26 L476.97,561.31 L477.30,561.37 L477.64,561.42 L477.97,561.47 L478.31,561.52 L478.64,561.57 L478.97,561.62 L479.31,561.66 L479.64,561.70 L479.98,561.74 L480.31,561.78 L480.65,561.81 L480.98,561.85 L481.32,561.88 L481.65,561.92 L481.99,561.95 L482.32,561.98 L482.66,562.01 L482.99,562.03 L483.33,562.06 L483.66,562.08 L483.99,562.11 L484.33,562.13 L484.66,562.15 L485.00,562.17 L485.33,562.19 L485.67,562.21 L486.00,562.23 L486.34,562.25 L486.67,562.27 L487.01,562.28 L487.34,562.30 L487.68,562.32 L488.01,562.33 L488.35,562.34 L488.68,562.36 L489.02,562.37 L489.35,562.38 L489.68,562.39 L490.02,562.41 L490.35,562.42 L490.69,562.43 L491.02,562.44 L491.36,562.45 L491.69,562.46 L492.03,562.46 L492.36,562.47 L492.70,562.48 L493.03,562.49 L493.37,562.50 L493.70,562.50 L494.04,562.51 L494.37,562.52 L494.70,562.52 L495.04,562.53 L495.37,562.53 L495.71,562.54 L496.04,562.55 L496.38,562.55 L496.71,562.56 L497.05,562.56 L497.38,562.56 L497.72,562.57 L498.05,562.57 L498.39,562.58 L498.72,562.58 L499.06,562.58 L499.39,562.59 L499.72,562.59 L500.06,562.59 L500.39,562.60 L500.73,562.60 L501.06,562.60 L501.40,562.61 L501.73,562.61 L502.07,562.61 L502.40,562.61 L502.74,562.61 L503.07,562.62 L503.41,562.62 L503.74,562.62 L504.08,562.62 L504.41,562.62 L504.75,562.63 L505.08,562.63 L505.41,562.63 L505.75,562.63 L506.08,562.63 L506.42,562.63 L506.75,562.64 L507.09,562.64 L507.42,562.64 L507.76,562.64 L508.09,562.64 L508.43,562.64 L508.76,562.64 L509.10,562.64 L509.43,562.64 L509.77,562.65 L510.10,562.65" stroke="#000" stroke-width="2.0" fill="none"/>
<path d="M376.23,449.49V466.50M372.03,449.49H380.43M372.03,466.50H380.43" stroke="#000" stroke-width="1.8" fill="none"/>
<rect x="372.93" y="454.70" width="6.60" height="6.60" fill="#000"/>
<circle cx="376.23" cy="447.57" r="3.50" fill="#000"/>
<path d="M391.10,450.51V470.25M386.90,450.51H395.30M386.90,470.25H395.30" stroke="#000" stroke-width="1.8" fill="none"/>
<rect x="387.80" y="457.08" width="6.60" height="6.60" fill="#000"/>
<circle cx="391.10" cy="449.83" r="3.50" fill="#000"/>
<path d="M405.97,451.65V466.84M401.77,451.65H410.17M401.77,466.84H410.17" stroke="#000" stroke-width="1.8" fill="none"/>
<rect x="402.67" y="455.95" width="6.60" height="6.60" fill="#000"/>
<circle cx="405.97" cy="456.64" r="3.50" fill="#000"/>
<path d="M420.84,461.74V471.95M416.64,461.74H425.04M416.64,471.95H425.04" stroke="#000" stroke-width="1.8" fill="none"/>
<path d="M420.84,506.53V524.68M416.64,506.53H425.04M416.64,524.68H425.04" stroke="#000" stroke-width="1.8" fill="none"/>
<rect x="417.54" y="463.54" width="6.60" height="6.60" fill="#000"/>
<circle cx="420.84" cy="515.61" r="3.50" fill="#000"/>
<path d="M435.75,486.69V491.23M431.55,486.69H439.95M431.55,491.23H439.95" stroke="#000" stroke-width="1.8" fill="none"/>
<rect x="432.45" y="485.66" width="6.60" height="6.60" fill="#000"/>
<circle cx="435.75" cy="554.16" r="3.50" fill="#000"/>
<rect x="447.32" y="531.02" width="6.60" height="6.60" fill="#000"/>
<circle cx="450.62" cy="559.83" r="3.50" fill="#000"/>
<path d="M465.49,552.46V557.00M461.29,552.46H469.69M461.29,557.00H469.69" stroke="#000" stroke-width="1.8" fill="none"/>
<rect x="462.19" y="551.43" width="6.60" height="6.60" fill="#000"/>
<circle cx="465.49" cy="559.83" r="3.50" fill="#000"/>
<rect x="477.06" y="558.80" width="6.60" height="6.60" fill="#000"/>
<circle cx="480.36" cy="560.97" r="3.50" fill="#000"/>
<rect x="491.93" y="558.80" width="6.60" height="6.60" fill="#000"/>
<circle cx="495.23" cy="560.97" r="3.50" fill="#000"/>
<rect x="506.80" y="561.07" width="6.60" height="6.60" fill="#000"/>
<circle cx="510.10" cy="562.10" r="3.50" fill="#000"/>
<circle cx="458.65" cy="430.90" r="3.75" fill="#000"/>
<rect x="454.90" y="444.25" width="7.50" height="7.50" fill="#000"/>
<text x="476.20" y="434.90" font-size="12" font-weight="normal" text-anchor="start" fill="#000" >TEX</text>
<text x="476.20" y="451.90" font-size="12" font-weight="normal" text-anchor="start" fill="#000" >Lin- CB</text>
<text x="458.00" y="469.60" font-size="11.5" font-weight="bold" text-anchor="start" fill="#000" >p &lt; 0.001</text>
<text x="372.60" y="509.90" font-size="11.8" font-weight="bold" text-anchor="start" fill="#000" >IC<tspan font-size="8.4" dy="3.8">50</tspan></text>
<text x="373.10" y="526.70" font-size="11.9" font-weight="bold" text-anchor="start" fill="#000" >140nM</text>
<text x="463.80" y="510.60" font-size="11.8" font-weight="bold" text-anchor="start" fill="#000" >IC<tspan font-size="8.4" dy="3.8">50</tspan></text>
<text x="463.30" y="528.00" font-size="11.9" font-weight="bold" text-anchor="start" fill="#000" >440nM</text>
</svg>
</body></html>
